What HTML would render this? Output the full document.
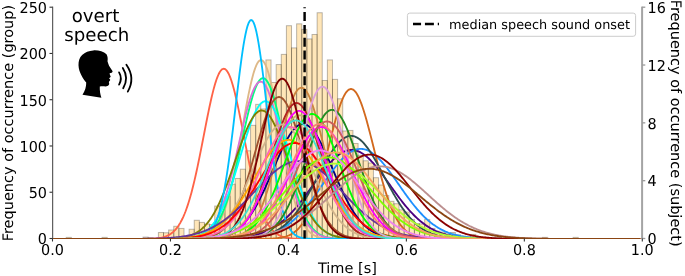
<!DOCTYPE html>
<html><head><meta charset="utf-8"><title>overt speech onset histogram</title>
<style>
html,body{margin:0;padding:0;background:#fff;}
svg{display:block}
text{font-family:"DejaVu Sans","Liberation Sans",sans-serif;fill:#000;text-rendering:geometricPrecision}
.t{font-size:14.4px}
.c{fill:none;stroke-width:1.85;stroke-linejoin:round}
</style></head><body>
<svg width="685" height="276" viewBox="0 0 685 276">
<rect width="685" height="276" fill="#fff"/>
<defs><clipPath id="cp"><rect x="52.5" y="7.2" width="589.8" height="231.9"/></clipPath></defs>

<g clip-path="url(#cp)" fill="rgb(255,165,0)" fill-opacity="0.28" stroke="#000" stroke-opacity="0.27" stroke-width="1">
<rect x="66.24" y="237.39" width="5.120" height="1.11"/>
<rect x="102.08" y="237.39" width="5.120" height="1.11"/>
<rect x="143.04" y="237.11" width="5.120" height="1.39"/>
<rect x="148.16" y="237.57" width="5.120" height="0.93"/>
<rect x="158.40" y="232.49" width="5.120" height="6.01"/>
<rect x="163.52" y="232.76" width="5.120" height="5.74"/>
<rect x="168.64" y="229.99" width="5.120" height="8.51"/>
<rect x="173.76" y="226.29" width="5.120" height="12.21"/>
<rect x="178.88" y="228.42" width="5.120" height="10.08"/>
<rect x="189.12" y="229.25" width="5.120" height="9.25"/>
<rect x="194.24" y="220.27" width="5.120" height="18.23"/>
<rect x="199.36" y="222.40" width="5.120" height="16.10"/>
<rect x="204.48" y="223.97" width="5.120" height="14.53"/>
<rect x="209.60" y="224.62" width="5.120" height="13.88"/>
<rect x="214.72" y="206.03" width="5.120" height="32.47"/>
<rect x="219.84" y="204.82" width="5.120" height="33.68"/>
<rect x="224.96" y="196.59" width="5.120" height="41.91"/>
<rect x="230.08" y="184.19" width="5.120" height="54.31"/>
<rect x="235.20" y="178.45" width="5.120" height="60.05"/>
<rect x="240.32" y="169.20" width="5.120" height="69.30"/>
<rect x="245.44" y="150.79" width="5.120" height="87.71"/>
<rect x="250.56" y="125.35" width="5.120" height="113.15"/>
<rect x="255.68" y="104.35" width="5.120" height="134.15"/>
<rect x="260.80" y="108.97" width="5.120" height="129.53"/>
<rect x="265.92" y="59.94" width="5.120" height="178.56"/>
<rect x="271.04" y="82.51" width="5.120" height="155.99"/>
<rect x="276.16" y="64.56" width="5.120" height="173.94"/>
<rect x="281.28" y="54.39" width="5.120" height="184.11"/>
<rect x="286.40" y="25.70" width="5.120" height="212.80"/>
<rect x="291.52" y="47.91" width="5.120" height="190.59"/>
<rect x="296.64" y="23.85" width="5.120" height="214.65"/>
<rect x="301.76" y="29.40" width="5.120" height="209.10"/>
<rect x="306.88" y="38.93" width="5.120" height="199.57"/>
<rect x="312.00" y="34.49" width="5.120" height="204.01"/>
<rect x="317.12" y="12.75" width="5.120" height="225.75"/>
<rect x="322.24" y="80.48" width="5.120" height="158.02"/>
<rect x="327.36" y="59.94" width="5.120" height="178.56"/>
<rect x="332.48" y="79.37" width="5.120" height="159.13"/>
<rect x="337.60" y="98.79" width="5.120" height="139.71"/>
<rect x="342.72" y="130.99" width="5.120" height="107.51"/>
<rect x="347.84" y="130.44" width="5.120" height="108.06"/>
<rect x="352.96" y="143.48" width="5.120" height="95.02"/>
<rect x="358.08" y="155.23" width="5.120" height="83.27"/>
<rect x="363.20" y="160.78" width="5.120" height="77.72"/>
<rect x="368.32" y="163.00" width="5.120" height="75.50"/>
<rect x="373.44" y="177.71" width="5.120" height="60.79"/>
<rect x="378.56" y="185.02" width="5.120" height="53.48"/>
<rect x="383.68" y="195.57" width="5.120" height="42.93"/>
<rect x="388.80" y="201.31" width="5.120" height="37.19"/>
<rect x="393.92" y="203.71" width="5.120" height="34.79"/>
<rect x="399.04" y="209.82" width="5.120" height="28.68"/>
<rect x="404.16" y="212.04" width="5.120" height="26.46"/>
<rect x="409.28" y="219.44" width="5.120" height="19.06"/>
<rect x="414.40" y="223.51" width="5.120" height="14.99"/>
<rect x="419.52" y="223.97" width="5.120" height="14.53"/>
<rect x="424.64" y="219.44" width="5.120" height="19.06"/>
<rect x="429.76" y="228.42" width="5.120" height="10.08"/>
<rect x="434.88" y="231.10" width="5.120" height="7.40"/>
<rect x="440.00" y="232.02" width="5.120" height="6.48"/>
<rect x="445.12" y="233.87" width="5.120" height="4.63"/>
<rect x="450.24" y="232.49" width="5.120" height="6.01"/>
<rect x="455.36" y="234.80" width="5.120" height="3.70"/>
<rect x="460.48" y="236.00" width="5.120" height="2.50"/>
<rect x="465.60" y="236.65" width="5.120" height="1.85"/>
<rect x="470.72" y="234.43" width="5.120" height="4.07"/>
<rect x="475.84" y="237.57" width="5.120" height="0.93"/>
<rect x="480.96" y="237.11" width="5.120" height="1.39"/>
<rect x="486.08" y="237.76" width="5.120" height="0.74"/>
<rect x="496.32" y="237.57" width="5.120" height="0.93"/>
<rect x="542.40" y="237.39" width="5.120" height="1.11"/>
<rect x="573.12" y="237.39" width="5.120" height="1.11"/>
</g>
<g clip-path="url(#cp)">
<polyline class="c" stroke="navy" points="52.5,238.95 60.5,238.95 68.5,238.95 76.5,238.95 84.5,238.95 92.5,238.95 100.5,238.95 108.5,238.95 116.5,238.95 124.5,238.95 132.5,238.95 140.5,238.95 148.5,238.95 156.5,238.95 164.5,238.95 172.5,238.94 180.5,238.93 188.5,238.88 189.5,238.87 190.5,238.86 191.5,238.85 192.5,238.84 193.5,238.82 194.5,238.80 195.5,238.79 196.5,238.76 197.5,238.74 198.5,238.71 199.5,238.69 200.5,238.65 201.5,238.62 202.5,238.58 203.5,238.53 204.5,238.48 205.5,238.43 206.5,238.36 207.5,238.30 208.5,238.22 209.5,238.14 210.5,238.05 211.5,237.95 212.5,237.84 213.5,237.73 214.5,237.60 215.5,237.45 216.5,237.30 217.5,237.13 218.5,236.95 219.5,236.74 220.5,236.53 221.5,236.29 222.5,236.04 223.5,235.76 224.5,235.46 225.5,235.14 226.5,234.79 227.5,234.41 228.5,234.01 229.5,233.58 230.5,233.11 231.5,232.62 232.5,232.09 233.5,231.52 234.5,230.92 235.5,230.27 236.5,229.59 237.5,228.86 238.5,228.09 239.5,227.27 240.5,226.40 241.5,225.49 242.5,224.53 243.5,223.51 244.5,222.44 245.5,221.32 246.5,220.14 247.5,218.91 248.5,217.62 249.5,216.27 250.5,214.87 251.5,213.40 252.5,211.88 253.5,210.30 254.5,208.67 255.5,206.97 256.5,205.22 257.5,203.41 258.5,201.55 259.5,199.64 260.5,197.67 261.5,195.66 262.5,193.60 263.5,191.50 264.5,189.35 265.5,187.17 266.5,184.95 267.5,182.70 268.5,180.42 269.5,178.12 270.5,175.80 271.5,173.46 272.5,171.12 273.5,168.77 274.5,166.43 275.5,164.09 276.5,161.76 277.5,159.45 278.5,157.16 279.5,154.91 280.5,152.68 281.5,150.51 282.5,148.37 283.5,146.30 284.5,144.28 285.5,142.33 286.5,140.44 287.5,138.64 288.5,136.92 289.5,135.29 290.5,133.75 291.5,132.31 292.5,130.97 293.5,129.73 294.5,128.61 295.5,127.61 296.5,126.72 297.5,125.95 298.5,125.31 299.5,124.80 300.5,124.41 301.5,124.15 302.5,124.02 303.5,124.02 304.5,124.15 305.5,124.41 306.5,124.80 307.5,125.31 308.5,125.95 309.5,126.72 310.5,127.61 311.5,128.61 312.5,129.73 313.5,130.97 314.5,132.31 315.5,133.75 316.5,135.29 317.5,136.92 318.5,138.64 319.5,140.44 320.5,142.33 321.5,144.28 322.5,146.30 323.5,148.37 324.5,150.51 325.5,152.68 326.5,154.91 327.5,157.16 328.5,159.45 329.5,161.76 330.5,164.09 331.5,166.43 332.5,168.77 333.5,171.12 334.5,173.46 335.5,175.80 336.5,178.12 337.5,180.42 338.5,182.70 339.5,184.95 340.5,187.17 341.5,189.35 342.5,191.50 343.5,193.60 344.5,195.66 345.5,197.67 346.5,199.64 347.5,201.55 348.5,203.41 349.5,205.22 350.5,206.97 351.5,208.67 352.5,210.30 353.5,211.88 354.5,213.40 355.5,214.87 356.5,216.27 357.5,217.62 358.5,218.91 359.5,220.14 360.5,221.32 361.5,222.44 362.5,223.51 363.5,224.53 364.5,225.49 365.5,226.40 366.5,227.27 367.5,228.09 368.5,228.86 369.5,229.59 370.5,230.27 371.5,230.92 372.5,231.52 373.5,232.09 374.5,232.62 375.5,233.11 376.5,233.58 377.5,234.01 378.5,234.41 379.5,234.79 380.5,235.14 381.5,235.46 382.5,235.76 383.5,236.04 384.5,236.29 385.5,236.53 386.5,236.74 387.5,236.95 388.5,237.13 389.5,237.30 390.5,237.45 391.5,237.60 392.5,237.73 393.5,237.84 394.5,237.95 395.5,238.05 396.5,238.14 397.5,238.22 398.5,238.30 399.5,238.36 400.5,238.43 401.5,238.48 402.5,238.53 403.5,238.58 404.5,238.62 405.5,238.65 406.5,238.69 407.5,238.71 408.5,238.74 409.5,238.76 410.5,238.79 411.5,238.80 412.5,238.82 413.5,238.84 414.5,238.85 415.5,238.86 416.5,238.87 417.5,238.88 418.5,238.89 419.5,238.90 420.5,238.90 421.5,238.91 422.5,238.92 423.5,238.92 424.5,238.92 425.5,238.93 433.5,238.94 441.5,238.95 449.5,238.95 457.5,238.95 465.5,238.95 473.5,238.95 481.5,238.95 489.5,238.95 497.5,238.95 505.5,238.95 513.5,238.95 521.5,238.95 529.5,238.95 537.5,238.95 545.5,238.95 553.5,238.95 561.5,238.95 569.5,238.95 577.5,238.95 585.5,238.95 593.5,238.95 601.5,238.95 609.5,238.95 617.5,238.95 625.5,238.95 633.5,238.95 641.5,238.95"/>
<polyline class="c" stroke="indigo" points="52.5,238.95 60.5,238.95 68.5,238.95 76.5,238.95 84.5,238.95 92.5,238.95 100.5,238.95 108.5,238.95 116.5,238.95 124.5,238.95 132.5,238.95 140.5,238.95 148.5,238.95 156.5,238.95 164.5,238.95 172.5,238.95 180.5,238.95 188.5,238.94 196.5,238.92 197.5,238.92 198.5,238.92 199.5,238.91 200.5,238.91 201.5,238.91 202.5,238.90 203.5,238.90 204.5,238.89 205.5,238.88 206.5,238.88 207.5,238.87 208.5,238.86 209.5,238.85 210.5,238.84 211.5,238.83 212.5,238.82 213.5,238.81 214.5,238.80 215.5,238.78 216.5,238.76 217.5,238.75 218.5,238.73 219.5,238.71 220.5,238.68 221.5,238.66 222.5,238.63 223.5,238.60 224.5,238.57 225.5,238.54 226.5,238.50 227.5,238.46 228.5,238.42 229.5,238.38 230.5,238.33 231.5,238.27 232.5,238.22 233.5,238.15 234.5,238.09 235.5,238.02 236.5,237.94 237.5,237.86 238.5,237.77 239.5,237.68 240.5,237.58 241.5,237.47 242.5,237.36 243.5,237.24 244.5,237.11 245.5,236.97 246.5,236.83 247.5,236.67 248.5,236.50 249.5,236.33 250.5,236.14 251.5,235.94 252.5,235.73 253.5,235.51 254.5,235.28 255.5,235.03 256.5,234.77 257.5,234.49 258.5,234.20 259.5,233.89 260.5,233.57 261.5,233.23 262.5,232.87 263.5,232.50 264.5,232.10 265.5,231.69 266.5,231.26 267.5,230.80 268.5,230.33 269.5,229.83 270.5,229.31 271.5,228.77 272.5,228.21 273.5,227.62 274.5,227.01 275.5,226.38 276.5,225.72 277.5,225.03 278.5,224.32 279.5,223.59 280.5,222.83 281.5,222.04 282.5,221.22 283.5,220.38 284.5,219.51 285.5,218.61 286.5,217.69 287.5,216.74 288.5,215.76 289.5,214.76 290.5,213.73 291.5,212.68 292.5,211.60 293.5,210.49 294.5,209.36 295.5,208.21 296.5,207.03 297.5,205.83 298.5,204.60 299.5,203.36 300.5,202.10 301.5,200.81 302.5,199.51 303.5,198.20 304.5,196.86 305.5,195.52 306.5,194.16 307.5,192.78 308.5,191.40 309.5,190.02 310.5,188.62 311.5,187.22 312.5,185.82 313.5,184.41 314.5,183.01 315.5,181.61 316.5,180.21 317.5,178.82 318.5,177.44 319.5,176.07 320.5,174.72 321.5,173.38 322.5,172.05 323.5,170.75 324.5,169.46 325.5,168.21 326.5,166.97 327.5,165.77 328.5,164.59 329.5,163.45 330.5,162.34 331.5,161.27 332.5,160.24 333.5,159.25 334.5,158.30 335.5,157.39 336.5,156.53 337.5,155.71 338.5,154.95 339.5,154.24 340.5,153.57 341.5,152.96 342.5,152.41 343.5,151.91 344.5,151.46 345.5,151.08 346.5,150.75 347.5,150.48 348.5,150.27 349.5,150.12 350.5,150.03 351.5,150.00 352.5,150.03 353.5,150.12 354.5,150.27 355.5,150.48 356.5,150.75 357.5,151.08 358.5,151.46 359.5,151.91 360.5,152.41 361.5,152.96 362.5,153.57 363.5,154.24 364.5,154.95 365.5,155.71 366.5,156.53 367.5,157.39 368.5,158.30 369.5,159.25 370.5,160.24 371.5,161.27 372.5,162.34 373.5,163.45 374.5,164.59 375.5,165.77 376.5,166.97 377.5,168.21 378.5,169.46 379.5,170.75 380.5,172.05 381.5,173.38 382.5,174.72 383.5,176.07 384.5,177.44 385.5,178.82 386.5,180.21 387.5,181.61 388.5,183.01 389.5,184.41 390.5,185.82 391.5,187.22 392.5,188.62 393.5,190.02 394.5,191.40 395.5,192.78 396.5,194.16 397.5,195.52 398.5,196.86 399.5,198.20 400.5,199.51 401.5,200.81 402.5,202.10 403.5,203.36 404.5,204.60 405.5,205.83 406.5,207.03 407.5,208.21 408.5,209.36 409.5,210.49 410.5,211.60 411.5,212.68 412.5,213.73 413.5,214.76 414.5,215.76 415.5,216.74 416.5,217.69 417.5,218.61 418.5,219.51 419.5,220.38 420.5,221.22 421.5,222.04 422.5,222.83 423.5,223.59 424.5,224.32 425.5,225.03 426.5,225.72 427.5,226.38 428.5,227.01 429.5,227.62 430.5,228.21 431.5,228.77 432.5,229.31 433.5,229.83 434.5,230.33 435.5,230.80 436.5,231.26 437.5,231.69 438.5,232.10 439.5,232.50 440.5,232.87 441.5,233.23 442.5,233.57 443.5,233.89 444.5,234.20 445.5,234.49 446.5,234.77 447.5,235.03 448.5,235.28 449.5,235.51 450.5,235.73 451.5,235.94 452.5,236.14 453.5,236.33 454.5,236.50 455.5,236.67 456.5,236.83 457.5,236.97 458.5,237.11 459.5,237.24 460.5,237.36 461.5,237.47 462.5,237.58 463.5,237.68 464.5,237.77 465.5,237.86 466.5,237.94 467.5,238.02 468.5,238.09 469.5,238.15 470.5,238.22 471.5,238.27 472.5,238.33 473.5,238.38 474.5,238.42 475.5,238.46 476.5,238.50 477.5,238.54 478.5,238.57 479.5,238.60 480.5,238.63 481.5,238.66 482.5,238.68 483.5,238.71 484.5,238.73 485.5,238.75 486.5,238.76 487.5,238.78 488.5,238.80 489.5,238.81 490.5,238.82 491.5,238.83 492.5,238.84 493.5,238.85 494.5,238.86 495.5,238.87 496.5,238.88 497.5,238.88 498.5,238.89 499.5,238.90 500.5,238.90 501.5,238.91 502.5,238.91 503.5,238.91 504.5,238.92 505.5,238.92 506.5,238.92 507.5,238.93 508.5,238.93 516.5,238.94 524.5,238.95 532.5,238.95 540.5,238.95 548.5,238.95 556.5,238.95 564.5,238.95 572.5,238.95 580.5,238.95 588.5,238.95 596.5,238.95 604.5,238.95 612.5,238.95 620.5,238.95 628.5,238.95 636.5,238.95"/>
<polyline class="c" stroke="dodgerblue" points="52.5,238.95 60.5,238.95 68.5,238.95 76.5,238.95 84.5,238.95 92.5,238.95 100.5,238.95 108.5,238.95 116.5,238.95 124.5,238.95 132.5,238.95 140.5,238.95 148.5,238.95 156.5,238.95 164.5,238.95 172.5,238.95 180.5,238.95 188.5,238.95 196.5,238.94 204.5,238.93 212.5,238.91 213.5,238.90 214.5,238.90 215.5,238.89 216.5,238.88 217.5,238.88 218.5,238.87 219.5,238.86 220.5,238.85 221.5,238.84 222.5,238.83 223.5,238.82 224.5,238.81 225.5,238.79 226.5,238.78 227.5,238.76 228.5,238.74 229.5,238.72 230.5,238.70 231.5,238.68 232.5,238.65 233.5,238.62 234.5,238.59 235.5,238.56 236.5,238.53 237.5,238.49 238.5,238.45 239.5,238.40 240.5,238.35 241.5,238.30 242.5,238.25 243.5,238.19 244.5,238.12 245.5,238.05 246.5,237.98 247.5,237.90 248.5,237.81 249.5,237.72 250.5,237.62 251.5,237.52 252.5,237.40 253.5,237.28 254.5,237.16 255.5,237.02 256.5,236.87 257.5,236.72 258.5,236.55 259.5,236.38 260.5,236.19 261.5,236.00 262.5,235.79 263.5,235.56 264.5,235.33 265.5,235.08 266.5,234.82 267.5,234.54 268.5,234.25 269.5,233.94 270.5,233.61 271.5,233.27 272.5,232.91 273.5,232.53 274.5,232.13 275.5,231.71 276.5,231.27 277.5,230.81 278.5,230.33 279.5,229.83 280.5,229.30 281.5,228.75 282.5,228.18 283.5,227.58 284.5,226.96 285.5,226.31 286.5,225.64 287.5,224.94 288.5,224.21 289.5,223.46 290.5,222.68 291.5,221.88 292.5,221.04 293.5,220.18 294.5,219.29 295.5,218.37 296.5,217.43 297.5,216.45 298.5,215.45 299.5,214.42 300.5,213.37 301.5,212.28 302.5,211.17 303.5,210.04 304.5,208.88 305.5,207.69 306.5,206.48 307.5,205.25 308.5,203.99 309.5,202.71 310.5,201.41 311.5,200.10 312.5,198.76 313.5,197.41 314.5,196.04 315.5,194.65 316.5,193.26 317.5,191.85 318.5,190.43 319.5,189.00 320.5,187.57 321.5,186.14 322.5,184.70 323.5,183.26 324.5,181.82 325.5,180.39 326.5,178.96 327.5,177.54 328.5,176.13 329.5,174.73 330.5,173.34 331.5,171.98 332.5,170.63 333.5,169.30 334.5,168.00 335.5,166.72 336.5,165.47 337.5,164.25 338.5,163.06 339.5,161.91 340.5,160.80 341.5,159.72 342.5,158.68 343.5,157.69 344.5,156.74 345.5,155.84 346.5,154.99 347.5,154.19 348.5,153.44 349.5,152.74 350.5,152.10 351.5,151.51 352.5,150.98 353.5,150.51 354.5,150.09 355.5,149.74 356.5,149.45 357.5,149.22 358.5,149.05 359.5,148.95 360.5,148.90 361.5,148.92 362.5,149.00 363.5,149.14 364.5,149.35 365.5,149.62 366.5,149.95 367.5,150.33 368.5,150.78 369.5,151.29 370.5,151.85 371.5,152.47 372.5,153.15 373.5,153.88 374.5,154.66 375.5,155.50 376.5,156.38 377.5,157.31 378.5,158.28 379.5,159.30 380.5,160.36 381.5,161.46 382.5,162.60 383.5,163.77 384.5,164.98 385.5,166.22 386.5,167.48 387.5,168.78 388.5,170.09 389.5,171.43 390.5,172.79 391.5,174.17 392.5,175.57 393.5,176.97 394.5,178.39 395.5,179.81 396.5,181.25 397.5,182.68 398.5,184.12 399.5,185.56 400.5,187.00 401.5,188.43 402.5,189.86 403.5,191.28 404.5,192.69 405.5,194.09 406.5,195.48 407.5,196.86 408.5,198.22 409.5,199.56 410.5,200.89 411.5,202.20 412.5,203.48 413.5,204.75 414.5,205.99 415.5,207.21 416.5,208.41 417.5,209.58 418.5,210.72 419.5,211.84 420.5,212.94 421.5,214.00 422.5,215.04 423.5,216.06 424.5,217.04 425.5,218.00 426.5,218.93 427.5,219.83 428.5,220.70 429.5,221.55 430.5,222.36 431.5,223.15 432.5,223.92 433.5,224.65 434.5,225.36 435.5,226.05 436.5,226.70 437.5,227.34 438.5,227.94 439.5,228.52 440.5,229.08 441.5,229.62 442.5,230.13 443.5,230.62 444.5,231.09 445.5,231.54 446.5,231.96 447.5,232.37 448.5,232.76 449.5,233.12 450.5,233.47 451.5,233.81 452.5,234.12 453.5,234.42 454.5,234.71 455.5,234.98 456.5,235.23 457.5,235.47 458.5,235.70 459.5,235.91 460.5,236.12 461.5,236.31 462.5,236.49 463.5,236.65 464.5,236.81 465.5,236.96 466.5,237.10 467.5,237.23 468.5,237.36 469.5,237.47 470.5,237.58 471.5,237.68 472.5,237.78 473.5,237.86 474.5,237.95 475.5,238.02 476.5,238.09 477.5,238.16 478.5,238.22 479.5,238.28 480.5,238.33 481.5,238.38 482.5,238.43 483.5,238.47 484.5,238.51 485.5,238.55 486.5,238.58 487.5,238.61 488.5,238.64 489.5,238.67 490.5,238.69 491.5,238.71 492.5,238.73 493.5,238.75 494.5,238.77 495.5,238.79 496.5,238.80 497.5,238.81 498.5,238.83 499.5,238.84 500.5,238.85 501.5,238.86 502.5,238.87 503.5,238.87 504.5,238.88 505.5,238.89 506.5,238.89 507.5,238.90 508.5,238.90 509.5,238.91 510.5,238.91 511.5,238.92 512.5,238.92 513.5,238.92 514.5,238.93 515.5,238.93 523.5,238.94 531.5,238.95 539.5,238.95 547.5,238.95 555.5,238.95 563.5,238.95 571.5,238.95 579.5,238.95 587.5,238.95 595.5,238.95 603.5,238.95 611.5,238.95 619.5,238.95 627.5,238.95 635.5,238.95"/>
<polyline class="c" stroke="tomato" points="52.5,238.95 60.5,238.95 68.5,238.95 76.5,238.95 84.5,238.95 92.5,238.95 100.5,238.95 108.5,238.95 116.5,238.95 124.5,238.95 132.5,238.94 140.5,238.92 148.5,238.80 149.5,238.77 150.5,238.74 151.5,238.70 152.5,238.65 153.5,238.59 154.5,238.52 155.5,238.44 156.5,238.34 157.5,238.23 158.5,238.11 159.5,237.96 160.5,237.79 161.5,237.59 162.5,237.36 163.5,237.10 164.5,236.81 165.5,236.47 166.5,236.09 167.5,235.65 168.5,235.16 169.5,234.61 170.5,233.98 171.5,233.28 172.5,232.50 173.5,231.64 174.5,230.67 175.5,229.60 176.5,228.42 177.5,227.12 178.5,225.69 179.5,224.12 180.5,222.41 181.5,220.55 182.5,218.53 183.5,216.35 184.5,214.00 185.5,211.47 186.5,208.76 187.5,205.86 188.5,202.78 189.5,199.50 190.5,196.04 191.5,192.39 192.5,188.56 193.5,184.54 194.5,180.35 195.5,176.00 196.5,171.49 197.5,166.84 198.5,162.06 199.5,157.17 200.5,152.18 201.5,147.12 202.5,142.00 203.5,136.86 204.5,131.70 205.5,126.57 206.5,121.49 207.5,116.48 208.5,111.58 209.5,106.81 210.5,102.20 211.5,97.78 212.5,93.59 213.5,89.64 214.5,85.97 215.5,82.59 216.5,79.54 217.5,76.84 218.5,74.50 219.5,72.54 220.5,70.98 221.5,69.82 222.5,69.08 223.5,68.76 224.5,68.87 225.5,69.40 226.5,70.35 227.5,71.71 228.5,73.47 229.5,75.62 230.5,78.15 231.5,81.03 232.5,84.24 233.5,87.77 234.5,91.58 235.5,95.66 236.5,99.96 237.5,104.48 238.5,109.17 239.5,114.01 240.5,118.97 241.5,124.02 242.5,129.13 243.5,134.28 244.5,139.43 245.5,144.56 246.5,149.66 247.5,154.68 248.5,159.63 249.5,164.47 250.5,169.18 251.5,173.77 252.5,178.20 253.5,182.47 254.5,186.57 255.5,190.50 256.5,194.24 257.5,197.80 258.5,201.16 259.5,204.34 260.5,207.33 261.5,210.14 262.5,212.76 263.5,215.20 264.5,217.46 265.5,219.56 266.5,221.50 267.5,223.29 268.5,224.92 269.5,226.42 270.5,227.78 271.5,229.02 272.5,230.15 273.5,231.16 274.5,232.08 275.5,232.90 276.5,233.64 277.5,234.30 278.5,234.89 279.5,235.41 280.5,235.88 281.5,236.28 282.5,236.64 283.5,236.96 284.5,237.24 285.5,237.48 286.5,237.69 287.5,237.88 288.5,238.03 289.5,238.17 290.5,238.29 291.5,238.39 292.5,238.48 293.5,238.55 294.5,238.62 295.5,238.67 296.5,238.72 297.5,238.76 298.5,238.79 299.5,238.82 300.5,238.84 301.5,238.86 302.5,238.88 303.5,238.89 304.5,238.90 305.5,238.91 306.5,238.92 307.5,238.92 315.5,238.95 323.5,238.95 331.5,238.95 339.5,238.95 347.5,238.95 355.5,238.95 363.5,238.95 371.5,238.95 379.5,238.95 387.5,238.95 395.5,238.95 403.5,238.95 411.5,238.95 419.5,238.95 427.5,238.95 435.5,238.95 443.5,238.95 451.5,238.95 459.5,238.95 467.5,238.95 475.5,238.95 483.5,238.95 491.5,238.95 499.5,238.95 507.5,238.95 515.5,238.95 523.5,238.95 531.5,238.95 539.5,238.95 547.5,238.95 555.5,238.95 563.5,238.95 571.5,238.95 579.5,238.95 587.5,238.95 595.5,238.95 603.5,238.95 611.5,238.95 619.5,238.95 627.5,238.95 635.5,238.95"/>
<polyline class="c" stroke="chocolate" points="52.5,238.95 60.5,238.95 68.5,238.95 76.5,238.95 84.5,238.95 92.5,238.95 100.5,238.95 108.5,238.95 116.5,238.95 124.5,238.95 132.5,238.95 140.5,238.95 148.5,238.95 156.5,238.95 164.5,238.95 172.5,238.95 180.5,238.95 188.5,238.95 196.5,238.95 204.5,238.95 212.5,238.95 220.5,238.95 228.5,238.95 236.5,238.95 244.5,238.95 252.5,238.94 260.5,238.90 261.5,238.88 262.5,238.87 263.5,238.86 264.5,238.84 265.5,238.82 266.5,238.80 267.5,238.77 268.5,238.74 269.5,238.71 270.5,238.66 271.5,238.62 272.5,238.56 273.5,238.50 274.5,238.43 275.5,238.34 276.5,238.25 277.5,238.14 278.5,238.02 279.5,237.88 280.5,237.72 281.5,237.54 282.5,237.34 283.5,237.12 284.5,236.86 285.5,236.58 286.5,236.26 287.5,235.91 288.5,235.51 289.5,235.08 290.5,234.59 291.5,234.06 292.5,233.47 293.5,232.81 294.5,232.10 295.5,231.32 296.5,230.46 297.5,229.53 298.5,228.51 299.5,227.40 300.5,226.21 301.5,224.91 302.5,223.52 303.5,222.02 304.5,220.41 305.5,218.68 306.5,216.84 307.5,214.88 308.5,212.79 309.5,210.58 310.5,208.24 311.5,205.77 312.5,203.17 313.5,200.44 314.5,197.59 315.5,194.60 316.5,191.50 317.5,188.28 318.5,184.94 319.5,181.49 320.5,177.94 321.5,174.30 322.5,170.57 323.5,166.77 324.5,162.90 325.5,158.98 326.5,155.02 327.5,151.03 328.5,147.03 329.5,143.04 330.5,139.06 331.5,135.12 332.5,131.24 333.5,127.43 334.5,123.70 335.5,120.08 336.5,116.58 337.5,113.22 338.5,110.02 339.5,107.00 340.5,104.16 341.5,101.53 342.5,99.12 343.5,96.94 344.5,95.00 345.5,93.32 346.5,91.91 347.5,90.77 348.5,89.90 349.5,89.33 350.5,89.04 351.5,89.04 352.5,89.33 353.5,89.90 354.5,90.77 355.5,91.91 356.5,93.32 357.5,95.00 358.5,96.94 359.5,99.12 360.5,101.53 361.5,104.16 362.5,107.00 363.5,110.02 364.5,113.22 365.5,116.58 366.5,120.08 367.5,123.70 368.5,127.43 369.5,131.24 370.5,135.12 371.5,139.06 372.5,143.04 373.5,147.03 374.5,151.03 375.5,155.02 376.5,158.98 377.5,162.90 378.5,166.77 379.5,170.57 380.5,174.30 381.5,177.94 382.5,181.49 383.5,184.94 384.5,188.28 385.5,191.50 386.5,194.60 387.5,197.59 388.5,200.44 389.5,203.17 390.5,205.77 391.5,208.24 392.5,210.58 393.5,212.79 394.5,214.88 395.5,216.84 396.5,218.68 397.5,220.41 398.5,222.02 399.5,223.52 400.5,224.91 401.5,226.21 402.5,227.40 403.5,228.51 404.5,229.53 405.5,230.46 406.5,231.32 407.5,232.10 408.5,232.81 409.5,233.47 410.5,234.06 411.5,234.59 412.5,235.08 413.5,235.51 414.5,235.91 415.5,236.26 416.5,236.58 417.5,236.86 418.5,237.12 419.5,237.34 420.5,237.54 421.5,237.72 422.5,237.88 423.5,238.02 424.5,238.14 425.5,238.25 426.5,238.34 427.5,238.43 428.5,238.50 429.5,238.56 430.5,238.62 431.5,238.66 432.5,238.71 433.5,238.74 434.5,238.77 435.5,238.80 436.5,238.82 437.5,238.84 438.5,238.86 439.5,238.87 440.5,238.88 441.5,238.90 442.5,238.90 443.5,238.91 444.5,238.92 445.5,238.92 453.5,238.94 461.5,238.95 469.5,238.95 477.5,238.95 485.5,238.95 493.5,238.95 501.5,238.95 509.5,238.95 517.5,238.95 525.5,238.95 533.5,238.95 541.5,238.95 549.5,238.95 557.5,238.95 565.5,238.95 573.5,238.95 581.5,238.95 589.5,238.95 597.5,238.95 605.5,238.95 613.5,238.95 621.5,238.95 629.5,238.95 637.5,238.95"/>
<polyline class="c" stroke="burlywood" points="52.5,238.95 60.5,238.95 68.5,238.95 76.5,238.95 84.5,238.95 92.5,238.95 100.5,238.95 108.5,238.95 116.5,238.95 124.5,238.95 132.5,238.95 140.5,238.95 148.5,238.95 156.5,238.95 164.5,238.95 172.5,238.95 180.5,238.93 188.5,238.82 189.5,238.79 190.5,238.76 191.5,238.72 192.5,238.67 193.5,238.61 194.5,238.55 195.5,238.47 196.5,238.37 197.5,238.26 198.5,238.13 199.5,237.97 200.5,237.80 201.5,237.59 202.5,237.35 203.5,237.07 204.5,236.75 205.5,236.38 206.5,235.96 207.5,235.49 208.5,234.94 209.5,234.32 210.5,233.62 211.5,232.84 212.5,231.95 213.5,230.96 214.5,229.86 215.5,228.63 216.5,227.27 217.5,225.76 218.5,224.10 219.5,222.28 220.5,220.29 221.5,218.11 222.5,215.74 223.5,213.18 224.5,210.42 225.5,207.44 226.5,204.25 227.5,200.84 228.5,197.21 229.5,193.36 230.5,189.29 231.5,185.01 232.5,180.53 233.5,175.84 234.5,170.96 235.5,165.91 236.5,160.70 237.5,155.35 238.5,149.88 239.5,144.31 240.5,138.67 241.5,132.99 242.5,127.29 243.5,121.61 244.5,115.98 245.5,110.44 246.5,105.01 247.5,99.75 248.5,94.67 249.5,89.82 250.5,85.22 251.5,80.93 252.5,76.96 253.5,73.35 254.5,70.12 255.5,67.31 256.5,64.92 257.5,63.00 258.5,61.53 259.5,60.55 260.5,60.06 261.5,60.06 262.5,60.55 263.5,61.53 264.5,63.00 265.5,64.92 266.5,67.31 267.5,70.12 268.5,73.35 269.5,76.96 270.5,80.93 271.5,85.22 272.5,89.82 273.5,94.67 274.5,99.75 275.5,105.01 276.5,110.44 277.5,115.98 278.5,121.61 279.5,127.29 280.5,132.99 281.5,138.67 282.5,144.31 283.5,149.88 284.5,155.35 285.5,160.70 286.5,165.91 287.5,170.96 288.5,175.84 289.5,180.53 290.5,185.01 291.5,189.29 292.5,193.36 293.5,197.21 294.5,200.84 295.5,204.25 296.5,207.44 297.5,210.42 298.5,213.18 299.5,215.74 300.5,218.11 301.5,220.29 302.5,222.28 303.5,224.10 304.5,225.76 305.5,227.27 306.5,228.63 307.5,229.86 308.5,230.96 309.5,231.95 310.5,232.84 311.5,233.62 312.5,234.32 313.5,234.94 314.5,235.49 315.5,235.96 316.5,236.38 317.5,236.75 318.5,237.07 319.5,237.35 320.5,237.59 321.5,237.80 322.5,237.97 323.5,238.13 324.5,238.26 325.5,238.37 326.5,238.47 327.5,238.55 328.5,238.61 329.5,238.67 330.5,238.72 331.5,238.76 332.5,238.79 333.5,238.82 334.5,238.85 335.5,238.86 336.5,238.88 337.5,238.89 338.5,238.90 339.5,238.91 340.5,238.92 348.5,238.95 356.5,238.95 364.5,238.95 372.5,238.95 380.5,238.95 388.5,238.95 396.5,238.95 404.5,238.95 412.5,238.95 420.5,238.95 428.5,238.95 436.5,238.95 444.5,238.95 452.5,238.95 460.5,238.95 468.5,238.95 476.5,238.95 484.5,238.95 492.5,238.95 500.5,238.95 508.5,238.95 516.5,238.95 524.5,238.95 532.5,238.95 540.5,238.95 548.5,238.95 556.5,238.95 564.5,238.95 572.5,238.95 580.5,238.95 588.5,238.95 596.5,238.95 604.5,238.95 612.5,238.95 620.5,238.95 628.5,238.95 636.5,238.95"/>
<polyline class="c" stroke="springgreen" points="52.5,238.95 60.5,238.95 68.5,238.95 76.5,238.95 84.5,238.95 92.5,238.95 100.5,238.95 108.5,238.95 116.5,238.95 124.5,238.95 132.5,238.95 140.5,238.95 148.5,238.95 156.5,238.95 164.5,238.95 172.5,238.93 180.5,238.87 181.5,238.85 182.5,238.83 183.5,238.81 184.5,238.78 185.5,238.75 186.5,238.71 187.5,238.67 188.5,238.61 189.5,238.55 190.5,238.48 191.5,238.40 192.5,238.31 193.5,238.20 194.5,238.08 195.5,237.93 196.5,237.77 197.5,237.58 198.5,237.37 199.5,237.13 200.5,236.86 201.5,236.55 202.5,236.20 203.5,235.81 204.5,235.37 205.5,234.87 206.5,234.32 207.5,233.71 208.5,233.03 209.5,232.27 210.5,231.44 211.5,230.52 212.5,229.51 213.5,228.40 214.5,227.18 215.5,225.86 216.5,224.41 217.5,222.85 218.5,221.15 219.5,219.33 220.5,217.36 221.5,215.24 222.5,212.98 223.5,210.57 224.5,208.00 225.5,205.27 226.5,202.38 227.5,199.34 228.5,196.13 229.5,192.77 230.5,189.25 231.5,185.59 232.5,181.78 233.5,177.84 234.5,173.77 235.5,169.59 236.5,165.30 237.5,160.92 238.5,156.46 239.5,151.94 240.5,147.37 241.5,142.78 242.5,138.19 243.5,133.61 244.5,129.06 245.5,124.58 246.5,120.17 247.5,115.87 248.5,111.70 249.5,107.68 250.5,103.83 251.5,100.17 252.5,96.74 253.5,93.54 254.5,90.60 255.5,87.94 256.5,85.57 257.5,83.51 258.5,81.78 259.5,80.37 260.5,79.31 261.5,78.60 262.5,78.24 263.5,78.24 264.5,78.60 265.5,79.31 266.5,80.37 267.5,81.78 268.5,83.51 269.5,85.57 270.5,87.94 271.5,90.60 272.5,93.54 273.5,96.74 274.5,100.17 275.5,103.83 276.5,107.68 277.5,111.70 278.5,115.87 279.5,120.17 280.5,124.58 281.5,129.06 282.5,133.61 283.5,138.19 284.5,142.78 285.5,147.37 286.5,151.94 287.5,156.46 288.5,160.92 289.5,165.30 290.5,169.59 291.5,173.77 292.5,177.84 293.5,181.78 294.5,185.59 295.5,189.25 296.5,192.77 297.5,196.13 298.5,199.34 299.5,202.38 300.5,205.27 301.5,208.00 302.5,210.57 303.5,212.98 304.5,215.24 305.5,217.36 306.5,219.33 307.5,221.15 308.5,222.85 309.5,224.41 310.5,225.86 311.5,227.18 312.5,228.40 313.5,229.51 314.5,230.52 315.5,231.44 316.5,232.27 317.5,233.03 318.5,233.71 319.5,234.32 320.5,234.87 321.5,235.37 322.5,235.81 323.5,236.20 324.5,236.55 325.5,236.86 326.5,237.13 327.5,237.37 328.5,237.58 329.5,237.77 330.5,237.93 331.5,238.08 332.5,238.20 333.5,238.31 334.5,238.40 335.5,238.48 336.5,238.55 337.5,238.61 338.5,238.67 339.5,238.71 340.5,238.75 341.5,238.78 342.5,238.81 343.5,238.83 344.5,238.85 345.5,238.87 346.5,238.88 347.5,238.89 348.5,238.90 349.5,238.91 350.5,238.92 351.5,238.92 359.5,238.94 367.5,238.95 375.5,238.95 383.5,238.95 391.5,238.95 399.5,238.95 407.5,238.95 415.5,238.95 423.5,238.95 431.5,238.95 439.5,238.95 447.5,238.95 455.5,238.95 463.5,238.95 471.5,238.95 479.5,238.95 487.5,238.95 495.5,238.95 503.5,238.95 511.5,238.95 519.5,238.95 527.5,238.95 535.5,238.95 543.5,238.95 551.5,238.95 559.5,238.95 567.5,238.95 575.5,238.95 583.5,238.95 591.5,238.95 599.5,238.95 607.5,238.95 615.5,238.95 623.5,238.95 631.5,238.95 639.5,238.95"/>
<polyline class="c" stroke="orchid" points="52.5,238.95 60.5,238.95 68.5,238.95 76.5,238.95 84.5,238.95 92.5,238.95 100.5,238.95 108.5,238.95 116.5,238.95 124.5,238.95 132.5,238.95 140.5,238.95 148.5,238.95 156.5,238.95 164.5,238.94 172.5,238.91 173.5,238.90 174.5,238.89 175.5,238.88 176.5,238.87 177.5,238.85 178.5,238.83 179.5,238.81 180.5,238.78 181.5,238.75 182.5,238.71 183.5,238.67 184.5,238.62 185.5,238.56 186.5,238.50 187.5,238.42 188.5,238.33 189.5,238.23 190.5,238.11 191.5,237.98 192.5,237.82 193.5,237.65 194.5,237.45 195.5,237.22 196.5,236.97 197.5,236.68 198.5,236.36 199.5,236.00 200.5,235.59 201.5,235.13 202.5,234.63 203.5,234.06 204.5,233.44 205.5,232.74 206.5,231.98 207.5,231.13 208.5,230.21 209.5,229.19 210.5,228.08 211.5,226.87 212.5,225.55 213.5,224.12 214.5,222.58 215.5,220.91 216.5,219.11 217.5,217.18 218.5,215.11 219.5,212.90 220.5,210.55 221.5,208.05 222.5,205.41 223.5,202.61 224.5,199.66 225.5,196.57 226.5,193.33 227.5,189.95 228.5,186.42 229.5,182.77 230.5,178.98 231.5,175.08 232.5,171.07 233.5,166.96 234.5,162.77 235.5,158.50 236.5,154.17 237.5,149.80 238.5,145.41 239.5,141.00 240.5,136.61 241.5,132.25 242.5,127.94 243.5,123.70 244.5,119.55 245.5,115.52 246.5,111.62 247.5,107.88 248.5,104.31 249.5,100.95 250.5,97.80 251.5,94.88 252.5,92.22 253.5,89.82 254.5,87.71 255.5,85.90 256.5,84.39 257.5,83.20 258.5,82.34 259.5,81.80 260.5,81.60 261.5,81.74 262.5,82.20 263.5,83.00 264.5,84.13 265.5,85.57 266.5,87.33 267.5,89.38 268.5,91.72 269.5,94.33 270.5,97.19 271.5,100.30 272.5,103.62 273.5,107.15 274.5,110.86 275.5,114.73 276.5,118.73 277.5,122.86 278.5,127.08 279.5,131.38 280.5,135.74 281.5,140.12 282.5,144.53 283.5,148.92 284.5,153.30 285.5,157.64 286.5,161.92 287.5,166.13 288.5,170.26 289.5,174.29 290.5,178.21 291.5,182.02 292.5,185.70 293.5,189.25 294.5,192.66 295.5,195.93 296.5,199.06 297.5,202.03 298.5,204.86 299.5,207.54 300.5,210.06 301.5,212.45 302.5,214.68 303.5,216.78 304.5,218.73 305.5,220.56 306.5,222.25 307.5,223.82 308.5,225.28 309.5,226.62 310.5,227.85 311.5,228.98 312.5,230.01 313.5,230.96 314.5,231.81 315.5,232.60 316.5,233.30 317.5,233.94 318.5,234.52 319.5,235.04 320.5,235.50 321.5,235.92 322.5,236.29 323.5,236.62 324.5,236.91 325.5,237.18 326.5,237.41 327.5,237.61 328.5,237.79 329.5,237.95 330.5,238.08 331.5,238.20 332.5,238.31 333.5,238.40 334.5,238.48 335.5,238.55 336.5,238.61 337.5,238.66 338.5,238.70 339.5,238.74 340.5,238.77 341.5,238.80 342.5,238.83 343.5,238.85 344.5,238.86 345.5,238.88 346.5,238.89 347.5,238.90 348.5,238.91 349.5,238.92 350.5,238.92 358.5,238.94 366.5,238.95 374.5,238.95 382.5,238.95 390.5,238.95 398.5,238.95 406.5,238.95 414.5,238.95 422.5,238.95 430.5,238.95 438.5,238.95 446.5,238.95 454.5,238.95 462.5,238.95 470.5,238.95 478.5,238.95 486.5,238.95 494.5,238.95 502.5,238.95 510.5,238.95 518.5,238.95 526.5,238.95 534.5,238.95 542.5,238.95 550.5,238.95 558.5,238.95 566.5,238.95 574.5,238.95 582.5,238.95 590.5,238.95 598.5,238.95 606.5,238.95 614.5,238.95 622.5,238.95 630.5,238.95 638.5,238.95"/>
<polyline class="c" stroke="cyan" points="52.5,238.95 60.5,238.95 68.5,238.95 76.5,238.95 84.5,238.95 92.5,238.95 100.5,238.95 108.5,238.95 116.5,238.95 124.5,238.95 132.5,238.95 140.5,238.95 148.5,238.95 156.5,238.94 164.5,238.92 165.5,238.91 166.5,238.90 167.5,238.89 168.5,238.88 169.5,238.87 170.5,238.86 171.5,238.85 172.5,238.83 173.5,238.81 174.5,238.79 175.5,238.76 176.5,238.73 177.5,238.70 178.5,238.66 179.5,238.61 180.5,238.56 181.5,238.51 182.5,238.44 183.5,238.37 184.5,238.29 185.5,238.19 186.5,238.09 187.5,237.97 188.5,237.84 189.5,237.69 190.5,237.53 191.5,237.35 192.5,237.14 193.5,236.92 194.5,236.66 195.5,236.39 196.5,236.08 197.5,235.74 198.5,235.37 199.5,234.96 200.5,234.51 201.5,234.02 202.5,233.48 203.5,232.89 204.5,232.25 205.5,231.56 206.5,230.81 207.5,230.00 208.5,229.12 209.5,228.17 210.5,227.15 211.5,226.06 212.5,224.88 213.5,223.63 214.5,222.29 215.5,220.86 216.5,219.35 217.5,217.74 218.5,216.03 219.5,214.23 220.5,212.33 221.5,210.33 222.5,208.23 223.5,206.03 224.5,203.73 225.5,201.34 226.5,198.84 227.5,196.25 228.5,193.56 229.5,190.79 230.5,187.93 231.5,184.98 232.5,181.96 233.5,178.87 234.5,175.71 235.5,172.50 236.5,169.23 237.5,165.93 238.5,162.59 239.5,159.23 240.5,155.86 241.5,152.49 242.5,149.13 243.5,145.78 244.5,142.48 245.5,139.21 246.5,136.01 247.5,132.87 248.5,129.82 249.5,126.86 250.5,124.01 251.5,121.28 252.5,118.68 253.5,116.22 254.5,113.92 255.5,111.78 256.5,109.82 257.5,108.03 258.5,106.44 259.5,105.05 260.5,103.87 261.5,102.90 262.5,102.14 263.5,101.60 264.5,101.29 265.5,101.20 266.5,101.34 267.5,101.69 268.5,102.28 269.5,103.08 270.5,104.09 271.5,105.32 272.5,106.75 273.5,108.38 274.5,110.19 275.5,112.19 276.5,114.37 277.5,116.70 278.5,119.19 279.5,121.81 280.5,124.57 281.5,127.44 282.5,130.42 283.5,133.49 284.5,136.64 285.5,139.86 286.5,143.13 287.5,146.45 288.5,149.80 289.5,153.16 290.5,156.54 291.5,159.91 292.5,163.26 293.5,166.59 294.5,169.89 295.5,173.14 296.5,176.35 297.5,179.49 298.5,182.57 299.5,185.58 300.5,188.50 301.5,191.35 302.5,194.11 303.5,196.77 304.5,199.35 305.5,201.82 306.5,204.20 307.5,206.48 308.5,208.66 309.5,210.74 310.5,212.72 311.5,214.60 312.5,216.38 313.5,218.07 314.5,219.66 315.5,221.16 316.5,222.57 317.5,223.89 318.5,225.13 319.5,226.28 320.5,227.36 321.5,228.37 322.5,229.30 323.5,230.16 324.5,230.97 325.5,231.70 326.5,232.39 327.5,233.01 328.5,233.59 329.5,234.12 330.5,234.60 331.5,235.04 332.5,235.44 333.5,235.81 334.5,236.14 335.5,236.44 336.5,236.72 337.5,236.96 338.5,237.18 339.5,237.38 340.5,237.56 341.5,237.72 342.5,237.87 343.5,238.00 344.5,238.11 345.5,238.21 346.5,238.30 347.5,238.38 348.5,238.46 349.5,238.52 350.5,238.57 351.5,238.62 352.5,238.67 353.5,238.70 354.5,238.74 355.5,238.77 356.5,238.79 357.5,238.81 358.5,238.83 359.5,238.85 360.5,238.86 361.5,238.88 362.5,238.89 363.5,238.90 364.5,238.90 365.5,238.91 366.5,238.92 367.5,238.92 375.5,238.94 383.5,238.95 391.5,238.95 399.5,238.95 407.5,238.95 415.5,238.95 423.5,238.95 431.5,238.95 439.5,238.95 447.5,238.95 455.5,238.95 463.5,238.95 471.5,238.95 479.5,238.95 487.5,238.95 495.5,238.95 503.5,238.95 511.5,238.95 519.5,238.95 527.5,238.95 535.5,238.95 543.5,238.95 551.5,238.95 559.5,238.95 567.5,238.95 575.5,238.95 583.5,238.95 591.5,238.95 599.5,238.95 607.5,238.95 615.5,238.95 623.5,238.95 631.5,238.95 639.5,238.95"/>
<polyline class="c" stroke="olive" points="52.5,238.95 60.5,238.95 68.5,238.95 76.5,238.95 84.5,238.95 92.5,238.95 100.5,238.95 108.5,238.95 116.5,238.95 124.5,238.95 132.5,238.95 140.5,238.95 148.5,238.94 156.5,238.90 157.5,238.89 158.5,238.88 159.5,238.87 160.5,238.86 161.5,238.85 162.5,238.83 163.5,238.81 164.5,238.79 165.5,238.77 166.5,238.74 167.5,238.71 168.5,238.68 169.5,238.64 170.5,238.60 171.5,238.55 172.5,238.49 173.5,238.43 174.5,238.36 175.5,238.29 176.5,238.20 177.5,238.11 178.5,238.00 179.5,237.88 180.5,237.75 181.5,237.60 182.5,237.44 183.5,237.26 184.5,237.07 185.5,236.85 186.5,236.61 187.5,236.35 188.5,236.07 189.5,235.76 190.5,235.41 191.5,235.04 192.5,234.64 193.5,234.19 194.5,233.71 195.5,233.20 196.5,232.63 197.5,232.03 198.5,231.37 199.5,230.67 200.5,229.91 201.5,229.10 202.5,228.23 203.5,227.30 204.5,226.31 205.5,225.25 206.5,224.13 207.5,222.93 208.5,221.66 209.5,220.32 210.5,218.91 211.5,217.41 212.5,215.84 213.5,214.19 214.5,212.46 215.5,210.65 216.5,208.75 217.5,206.78 218.5,204.72 219.5,202.59 220.5,200.37 221.5,198.08 222.5,195.72 223.5,193.28 224.5,190.77 225.5,188.20 226.5,185.57 227.5,182.88 228.5,180.13 229.5,177.34 230.5,174.51 231.5,171.65 232.5,168.75 233.5,165.84 234.5,162.91 235.5,159.98 236.5,157.05 237.5,154.13 238.5,151.23 239.5,148.37 240.5,145.54 241.5,142.75 242.5,140.03 243.5,137.37 244.5,134.79 245.5,132.30 246.5,129.90 247.5,127.60 248.5,125.42 249.5,123.36 250.5,121.43 251.5,119.63 252.5,117.98 253.5,116.48 254.5,115.13 255.5,113.95 256.5,112.94 257.5,112.10 258.5,111.43 259.5,110.94 260.5,110.63 261.5,110.50 262.5,110.56 263.5,110.79 264.5,111.21 265.5,111.81 266.5,112.58 267.5,113.53 268.5,114.64 269.5,115.92 270.5,117.36 271.5,118.95 272.5,120.69 273.5,122.57 274.5,124.58 275.5,126.72 276.5,128.97 277.5,131.33 278.5,133.79 279.5,136.33 280.5,138.96 281.5,141.66 282.5,144.42 283.5,147.23 284.5,150.08 285.5,152.97 286.5,155.88 287.5,158.81 288.5,161.74 289.5,164.67 290.5,167.59 291.5,170.49 292.5,173.37 293.5,176.21 294.5,179.02 295.5,181.78 296.5,184.50 297.5,187.15 298.5,189.75 299.5,192.29 300.5,194.75 301.5,197.15 302.5,199.47 303.5,201.71 304.5,203.88 305.5,205.97 306.5,207.97 307.5,209.90 308.5,211.74 309.5,213.51 310.5,215.19 311.5,216.80 312.5,218.32 313.5,219.77 314.5,221.14 315.5,222.43 316.5,223.66 317.5,224.81 318.5,225.89 319.5,226.91 320.5,227.87 321.5,228.76 322.5,229.59 323.5,230.37 324.5,231.10 325.5,231.77 326.5,232.40 327.5,232.98 328.5,233.51 329.5,234.01 330.5,234.46 331.5,234.88 332.5,235.27 333.5,235.62 334.5,235.95 335.5,236.24 336.5,236.51 337.5,236.76 338.5,236.98 339.5,237.19 340.5,237.37 341.5,237.54 342.5,237.69 343.5,237.83 344.5,237.95 345.5,238.06 346.5,238.16 347.5,238.25 348.5,238.33 349.5,238.41 350.5,238.47 351.5,238.53 352.5,238.58 353.5,238.62 354.5,238.66 355.5,238.70 356.5,238.73 357.5,238.76 358.5,238.78 359.5,238.80 360.5,238.82 361.5,238.84 362.5,238.85 363.5,238.87 364.5,238.88 365.5,238.89 366.5,238.90 367.5,238.90 368.5,238.91 369.5,238.92 370.5,238.92 371.5,238.92 379.5,238.94 387.5,238.95 395.5,238.95 403.5,238.95 411.5,238.95 419.5,238.95 427.5,238.95 435.5,238.95 443.5,238.95 451.5,238.95 459.5,238.95 467.5,238.95 475.5,238.95 483.5,238.95 491.5,238.95 499.5,238.95 507.5,238.95 515.5,238.95 523.5,238.95 531.5,238.95 539.5,238.95 547.5,238.95 555.5,238.95 563.5,238.95 571.5,238.95 579.5,238.95 587.5,238.95 595.5,238.95 603.5,238.95 611.5,238.95 619.5,238.95 627.5,238.95 635.5,238.95"/>
<polyline class="c" stroke="peru" points="52.5,238.95 60.5,238.95 68.5,238.95 76.5,238.95 84.5,238.95 92.5,238.95 100.5,238.95 108.5,238.95 116.5,238.95 124.5,238.95 132.5,238.95 140.5,238.95 148.5,238.95 156.5,238.95 164.5,238.95 172.5,238.95 180.5,238.95 188.5,238.95 196.5,238.95 204.5,238.94 212.5,238.89 213.5,238.87 214.5,238.86 215.5,238.84 216.5,238.82 217.5,238.80 218.5,238.77 219.5,238.74 220.5,238.71 221.5,238.67 222.5,238.62 223.5,238.56 224.5,238.50 225.5,238.43 226.5,238.34 227.5,238.25 228.5,238.14 229.5,238.01 230.5,237.87 231.5,237.71 232.5,237.53 233.5,237.33 234.5,237.10 235.5,236.84 236.5,236.55 237.5,236.22 238.5,235.86 239.5,235.46 240.5,235.01 241.5,234.51 242.5,233.96 243.5,233.36 244.5,232.69 245.5,231.95 246.5,231.15 247.5,230.27 248.5,229.30 249.5,228.26 250.5,227.12 251.5,225.89 252.5,224.55 253.5,223.12 254.5,221.57 255.5,219.91 256.5,218.13 257.5,216.23 258.5,214.20 259.5,212.05 260.5,209.77 261.5,207.35 262.5,204.81 263.5,202.13 264.5,199.32 265.5,196.37 266.5,193.30 267.5,190.11 268.5,186.79 269.5,183.36 270.5,179.82 271.5,176.17 272.5,172.43 273.5,168.61 274.5,164.72 275.5,160.76 276.5,156.75 277.5,152.71 278.5,148.65 279.5,144.58 280.5,140.53 281.5,136.50 282.5,132.51 283.5,128.59 284.5,124.74 285.5,121.00 286.5,117.37 287.5,113.88 288.5,110.54 289.5,107.37 290.5,104.38 291.5,101.60 292.5,99.04 293.5,96.71 294.5,94.62 295.5,92.79 296.5,91.23 297.5,89.95 298.5,88.95 299.5,88.24 300.5,87.82 301.5,87.70 302.5,87.88 303.5,88.35 304.5,89.12 305.5,90.18 306.5,91.52 307.5,93.14 308.5,95.02 309.5,97.15 310.5,99.53 311.5,102.14 312.5,104.96 313.5,107.99 314.5,111.19 315.5,114.56 316.5,118.09 317.5,121.74 318.5,125.50 319.5,129.37 320.5,133.30 321.5,137.30 322.5,141.34 323.5,145.40 324.5,149.46 325.5,153.52 326.5,157.56 327.5,161.56 328.5,165.50 329.5,169.38 330.5,173.19 331.5,176.91 332.5,180.53 333.5,184.05 334.5,187.46 335.5,190.76 336.5,193.93 337.5,196.97 338.5,199.89 339.5,202.67 340.5,205.33 341.5,207.85 342.5,210.23 343.5,212.49 344.5,214.62 345.5,216.62 346.5,218.49 347.5,220.25 348.5,221.89 349.5,223.41 350.5,224.83 351.5,226.14 352.5,227.36 353.5,228.47 354.5,229.50 355.5,230.45 356.5,231.32 357.5,232.11 358.5,232.83 359.5,233.48 360.5,234.08 361.5,234.62 362.5,235.10 363.5,235.54 364.5,235.94 365.5,236.29 366.5,236.61 367.5,236.89 368.5,237.15 369.5,237.37 370.5,237.57 371.5,237.75 372.5,237.90 373.5,238.04 374.5,238.16 375.5,238.27 376.5,238.36 377.5,238.44 378.5,238.51 379.5,238.57 380.5,238.63 381.5,238.68 382.5,238.72 383.5,238.75 384.5,238.78 385.5,238.81 386.5,238.83 387.5,238.85 388.5,238.86 389.5,238.88 390.5,238.89 391.5,238.90 392.5,238.91 393.5,238.91 394.5,238.92 395.5,238.93 403.5,238.94 411.5,238.95 419.5,238.95 427.5,238.95 435.5,238.95 443.5,238.95 451.5,238.95 459.5,238.95 467.5,238.95 475.5,238.95 483.5,238.95 491.5,238.95 499.5,238.95 507.5,238.95 515.5,238.95 523.5,238.95 531.5,238.95 539.5,238.95 547.5,238.95 555.5,238.95 563.5,238.95 571.5,238.95 579.5,238.95 587.5,238.95 595.5,238.95 603.5,238.95 611.5,238.95 619.5,238.95 627.5,238.95 635.5,238.95"/>
<polyline class="c" stroke="sienna" points="52.5,238.95 60.5,238.95 68.5,238.95 76.5,238.95 84.5,238.95 92.5,238.95 100.5,238.95 108.5,238.95 116.5,238.95 124.5,238.95 132.5,238.95 140.5,238.95 148.5,238.95 156.5,238.95 164.5,238.95 172.5,238.94 180.5,238.92 181.5,238.91 182.5,238.91 183.5,238.90 184.5,238.89 185.5,238.88 186.5,238.86 187.5,238.85 188.5,238.83 189.5,238.81 190.5,238.79 191.5,238.76 192.5,238.73 193.5,238.70 194.5,238.66 195.5,238.61 196.5,238.56 197.5,238.50 198.5,238.43 199.5,238.35 200.5,238.27 201.5,238.17 202.5,238.06 203.5,237.93 204.5,237.79 205.5,237.63 206.5,237.45 207.5,237.25 208.5,237.03 209.5,236.79 210.5,236.51 211.5,236.21 212.5,235.87 213.5,235.49 214.5,235.08 215.5,234.63 216.5,234.13 217.5,233.58 218.5,232.99 219.5,232.33 220.5,231.62 221.5,230.85 222.5,230.01 223.5,229.10 224.5,228.11 225.5,227.05 226.5,225.90 227.5,224.67 228.5,223.36 229.5,221.94 230.5,220.44 231.5,218.83 232.5,217.13 233.5,215.32 234.5,213.40 235.5,211.38 236.5,209.25 237.5,207.01 238.5,204.66 239.5,202.19 240.5,199.63 241.5,196.95 242.5,194.17 243.5,191.29 244.5,188.31 245.5,185.24 246.5,182.08 247.5,178.84 248.5,175.52 249.5,172.14 250.5,168.70 251.5,165.21 252.5,161.68 253.5,158.12 254.5,154.54 255.5,150.96 256.5,147.38 257.5,143.83 258.5,140.30 259.5,136.83 260.5,133.41 261.5,130.07 262.5,126.82 263.5,123.66 264.5,120.63 265.5,117.73 266.5,114.97 267.5,112.36 268.5,109.93 269.5,107.67 270.5,105.61 271.5,103.75 272.5,102.10 273.5,100.67 274.5,99.47 275.5,98.50 276.5,97.77 277.5,97.28 278.5,97.03 279.5,97.03 280.5,97.28 281.5,97.77 282.5,98.50 283.5,99.47 284.5,100.67 285.5,102.10 286.5,103.75 287.5,105.61 288.5,107.67 289.5,109.93 290.5,112.36 291.5,114.97 292.5,117.73 293.5,120.63 294.5,123.66 295.5,126.82 296.5,130.07 297.5,133.41 298.5,136.83 299.5,140.30 300.5,143.83 301.5,147.38 302.5,150.96 303.5,154.54 304.5,158.12 305.5,161.68 306.5,165.21 307.5,168.70 308.5,172.14 309.5,175.52 310.5,178.84 311.5,182.08 312.5,185.24 313.5,188.31 314.5,191.29 315.5,194.17 316.5,196.95 317.5,199.63 318.5,202.19 319.5,204.66 320.5,207.01 321.5,209.25 322.5,211.38 323.5,213.40 324.5,215.32 325.5,217.13 326.5,218.83 327.5,220.44 328.5,221.94 329.5,223.36 330.5,224.67 331.5,225.90 332.5,227.05 333.5,228.11 334.5,229.10 335.5,230.01 336.5,230.85 337.5,231.62 338.5,232.33 339.5,232.99 340.5,233.58 341.5,234.13 342.5,234.63 343.5,235.08 344.5,235.49 345.5,235.87 346.5,236.21 347.5,236.51 348.5,236.79 349.5,237.03 350.5,237.25 351.5,237.45 352.5,237.63 353.5,237.79 354.5,237.93 355.5,238.06 356.5,238.17 357.5,238.27 358.5,238.35 359.5,238.43 360.5,238.50 361.5,238.56 362.5,238.61 363.5,238.66 364.5,238.70 365.5,238.73 366.5,238.76 367.5,238.79 368.5,238.81 369.5,238.83 370.5,238.85 371.5,238.86 372.5,238.88 373.5,238.89 374.5,238.90 375.5,238.91 376.5,238.91 377.5,238.92 378.5,238.92 386.5,238.94 394.5,238.95 402.5,238.95 410.5,238.95 418.5,238.95 426.5,238.95 434.5,238.95 442.5,238.95 450.5,238.95 458.5,238.95 466.5,238.95 474.5,238.95 482.5,238.95 490.5,238.95 498.5,238.95 506.5,238.95 514.5,238.95 522.5,238.95 530.5,238.95 538.5,238.95 546.5,238.95 554.5,238.95 562.5,238.95 570.5,238.95 578.5,238.95 586.5,238.95 594.5,238.95 602.5,238.95 610.5,238.95 618.5,238.95 626.5,238.95 634.5,238.95"/>
<polyline class="c" stroke="deepskyblue" points="52.5,238.95 60.5,238.95 68.5,238.95 76.5,238.95 84.5,238.95 92.5,238.95 100.5,238.95 108.5,238.95 116.5,238.95 124.5,238.95 132.5,238.95 140.5,238.95 148.5,238.95 156.5,238.95 164.5,238.95 172.5,238.95 180.5,238.94 188.5,238.88 189.5,238.87 190.5,238.84 191.5,238.81 192.5,238.77 193.5,238.72 194.5,238.66 195.5,238.59 196.5,238.50 197.5,238.38 198.5,238.24 199.5,238.07 200.5,237.87 201.5,237.62 202.5,237.32 203.5,236.96 204.5,236.53 205.5,236.02 206.5,235.41 207.5,234.71 208.5,233.88 209.5,232.91 210.5,231.79 211.5,230.50 212.5,229.01 213.5,227.32 214.5,225.38 215.5,223.20 216.5,220.73 217.5,217.97 218.5,214.88 219.5,211.46 220.5,207.68 221.5,203.53 222.5,198.99 223.5,194.05 224.5,188.71 225.5,182.97 226.5,176.83 227.5,170.30 228.5,163.40 229.5,156.15 230.5,148.57 231.5,140.71 232.5,132.60 233.5,124.30 234.5,115.86 235.5,107.34 236.5,98.81 237.5,90.35 238.5,82.02 239.5,73.91 240.5,66.10 241.5,58.66 242.5,51.68 243.5,45.23 244.5,39.38 245.5,34.21 246.5,29.76 247.5,26.10 248.5,23.27 249.5,21.30 250.5,20.22 251.5,20.04 252.5,20.76 253.5,22.38 254.5,24.87 255.5,28.20 256.5,32.34 257.5,37.23 258.5,42.82 259.5,49.03 260.5,55.81 261.5,63.08 262.5,70.75 263.5,78.75 264.5,87.00 265.5,95.42 266.5,103.93 267.5,112.46 268.5,120.93 269.5,129.30 270.5,137.49 271.5,145.46 272.5,153.15 273.5,160.54 274.5,167.59 275.5,174.27 276.5,180.56 277.5,186.47 278.5,191.96 279.5,197.06 280.5,201.76 281.5,206.07 282.5,209.99 283.5,213.56 284.5,216.77 285.5,219.66 286.5,222.25 287.5,224.54 288.5,226.57 289.5,228.36 290.5,229.93 291.5,231.30 292.5,232.48 293.5,233.51 294.5,234.39 295.5,235.14 296.5,235.79 297.5,236.33 298.5,236.79 299.5,237.18 300.5,237.50 301.5,237.77 302.5,237.99 303.5,238.18 304.5,238.33 305.5,238.45 306.5,238.55 307.5,238.64 308.5,238.70 309.5,238.75 310.5,238.80 311.5,238.83 312.5,238.86 313.5,238.88 314.5,238.89 315.5,238.91 316.5,238.92 324.5,238.95 332.5,238.95 340.5,238.95 348.5,238.95 356.5,238.95 364.5,238.95 372.5,238.95 380.5,238.95 388.5,238.95 396.5,238.95 404.5,238.95 412.5,238.95 420.5,238.95 428.5,238.95 436.5,238.95 444.5,238.95 452.5,238.95 460.5,238.95 468.5,238.95 476.5,238.95 484.5,238.95 492.5,238.95 500.5,238.95 508.5,238.95 516.5,238.95 524.5,238.95 532.5,238.95 540.5,238.95 548.5,238.95 556.5,238.95 564.5,238.95 572.5,238.95 580.5,238.95 588.5,238.95 596.5,238.95 604.5,238.95 612.5,238.95 620.5,238.95 628.5,238.95 636.5,238.95"/>
<polyline class="c" stroke="darkslategray" points="52.5,238.95 60.5,238.95 68.5,238.95 76.5,238.95 84.5,238.95 92.5,238.95 100.5,238.95 108.5,238.95 116.5,238.95 124.5,238.95 132.5,238.95 140.5,238.95 148.5,238.95 156.5,238.95 164.5,238.95 172.5,238.95 180.5,238.95 188.5,238.95 196.5,238.95 204.5,238.94 212.5,238.93 220.5,238.91 221.5,238.90 222.5,238.89 223.5,238.89 224.5,238.88 225.5,238.87 226.5,238.86 227.5,238.85 228.5,238.84 229.5,238.83 230.5,238.81 231.5,238.80 232.5,238.78 233.5,238.76 234.5,238.74 235.5,238.71 236.5,238.69 237.5,238.66 238.5,238.63 239.5,238.59 240.5,238.55 241.5,238.51 242.5,238.47 243.5,238.42 244.5,238.36 245.5,238.30 246.5,238.24 247.5,238.17 248.5,238.09 249.5,238.00 250.5,237.91 251.5,237.81 252.5,237.71 253.5,237.59 254.5,237.47 255.5,237.33 256.5,237.18 257.5,237.03 258.5,236.86 259.5,236.67 260.5,236.48 261.5,236.26 262.5,236.04 263.5,235.79 264.5,235.53 265.5,235.26 266.5,234.96 267.5,234.64 268.5,234.30 269.5,233.94 270.5,233.56 271.5,233.15 272.5,232.72 273.5,232.26 274.5,231.77 275.5,231.26 276.5,230.72 277.5,230.14 278.5,229.54 279.5,228.90 280.5,228.23 281.5,227.52 282.5,226.78 283.5,226.01 284.5,225.19 285.5,224.34 286.5,223.45 287.5,222.52 288.5,221.55 289.5,220.54 290.5,219.48 291.5,218.39 292.5,217.26 293.5,216.08 294.5,214.86 295.5,213.60 296.5,212.30 297.5,210.96 298.5,209.57 299.5,208.15 300.5,206.68 301.5,205.18 302.5,203.64 303.5,202.06 304.5,200.45 305.5,198.80 306.5,197.12 307.5,195.41 308.5,193.67 309.5,191.91 310.5,190.12 311.5,188.31 312.5,186.48 313.5,184.63 314.5,182.77 315.5,180.89 316.5,179.01 317.5,177.13 318.5,175.24 319.5,173.36 320.5,171.48 321.5,169.61 322.5,167.76 323.5,165.92 324.5,164.10 325.5,162.31 326.5,160.54 327.5,158.81 328.5,157.11 329.5,155.46 330.5,153.85 331.5,152.28 332.5,150.77 333.5,149.31 334.5,147.91 335.5,146.58 336.5,145.31 337.5,144.11 338.5,142.98 339.5,141.92 340.5,140.95 341.5,140.05 342.5,139.23 343.5,138.51 344.5,137.86 345.5,137.31 346.5,136.85 347.5,136.47 348.5,136.19 349.5,136.01 350.5,135.91 351.5,135.91 352.5,136.01 353.5,136.19 354.5,136.47 355.5,136.85 356.5,137.31 357.5,137.86 358.5,138.51 359.5,139.23 360.5,140.05 361.5,140.95 362.5,141.92 363.5,142.98 364.5,144.11 365.5,145.31 366.5,146.58 367.5,147.91 368.5,149.31 369.5,150.77 370.5,152.28 371.5,153.85 372.5,155.46 373.5,157.11 374.5,158.81 375.5,160.54 376.5,162.31 377.5,164.10 378.5,165.92 379.5,167.76 380.5,169.61 381.5,171.48 382.5,173.36 383.5,175.24 384.5,177.13 385.5,179.01 386.5,180.89 387.5,182.77 388.5,184.63 389.5,186.48 390.5,188.31 391.5,190.12 392.5,191.91 393.5,193.67 394.5,195.41 395.5,197.12 396.5,198.80 397.5,200.45 398.5,202.06 399.5,203.64 400.5,205.18 401.5,206.68 402.5,208.15 403.5,209.57 404.5,210.96 405.5,212.30 406.5,213.60 407.5,214.86 408.5,216.08 409.5,217.26 410.5,218.39 411.5,219.48 412.5,220.54 413.5,221.55 414.5,222.52 415.5,223.45 416.5,224.34 417.5,225.19 418.5,226.01 419.5,226.78 420.5,227.52 421.5,228.23 422.5,228.90 423.5,229.54 424.5,230.14 425.5,230.72 426.5,231.26 427.5,231.77 428.5,232.26 429.5,232.72 430.5,233.15 431.5,233.56 432.5,233.94 433.5,234.30 434.5,234.64 435.5,234.96 436.5,235.26 437.5,235.53 438.5,235.79 439.5,236.04 440.5,236.26 441.5,236.48 442.5,236.67 443.5,236.86 444.5,237.03 445.5,237.18 446.5,237.33 447.5,237.47 448.5,237.59 449.5,237.71 450.5,237.81 451.5,237.91 452.5,238.00 453.5,238.09 454.5,238.17 455.5,238.24 456.5,238.30 457.5,238.36 458.5,238.42 459.5,238.47 460.5,238.51 461.5,238.55 462.5,238.59 463.5,238.63 464.5,238.66 465.5,238.69 466.5,238.71 467.5,238.74 468.5,238.76 469.5,238.78 470.5,238.80 471.5,238.81 472.5,238.83 473.5,238.84 474.5,238.85 475.5,238.86 476.5,238.87 477.5,238.88 478.5,238.89 479.5,238.89 480.5,238.90 481.5,238.91 482.5,238.91 483.5,238.92 484.5,238.92 485.5,238.92 486.5,238.93 487.5,238.93 495.5,238.94 503.5,238.95 511.5,238.95 519.5,238.95 527.5,238.95 535.5,238.95 543.5,238.95 551.5,238.95 559.5,238.95 567.5,238.95 575.5,238.95 583.5,238.95 591.5,238.95 599.5,238.95 607.5,238.95 615.5,238.95 623.5,238.95 631.5,238.95 639.5,238.95"/>
<polyline class="c" stroke="forestgreen" points="52.5,238.95 60.5,238.95 68.5,238.95 76.5,238.95 84.5,238.95 92.5,238.95 100.5,238.95 108.5,238.95 116.5,238.95 124.5,238.95 132.5,238.95 140.5,238.95 148.5,238.95 156.5,238.95 164.5,238.95 172.5,238.95 180.5,238.95 188.5,238.95 196.5,238.95 204.5,238.95 212.5,238.95 220.5,238.93 228.5,238.89 229.5,238.88 230.5,238.87 231.5,238.86 232.5,238.84 233.5,238.83 234.5,238.81 235.5,238.79 236.5,238.76 237.5,238.73 238.5,238.70 239.5,238.67 240.5,238.63 241.5,238.58 242.5,238.53 243.5,238.48 244.5,238.41 245.5,238.34 246.5,238.26 247.5,238.17 248.5,238.08 249.5,237.97 250.5,237.84 251.5,237.71 252.5,237.55 253.5,237.39 254.5,237.20 255.5,237.00 256.5,236.77 257.5,236.53 258.5,236.26 259.5,235.96 260.5,235.64 261.5,235.28 262.5,234.89 263.5,234.47 264.5,234.01 265.5,233.52 266.5,232.98 267.5,232.39 268.5,231.76 269.5,231.08 270.5,230.35 271.5,229.57 272.5,228.73 273.5,227.82 274.5,226.86 275.5,225.83 276.5,224.74 277.5,223.57 278.5,222.33 279.5,221.02 280.5,219.64 281.5,218.17 282.5,216.63 283.5,215.00 284.5,213.30 285.5,211.51 286.5,209.64 287.5,207.69 288.5,205.66 289.5,203.54 290.5,201.35 291.5,199.07 292.5,196.72 293.5,194.29 294.5,191.79 295.5,189.22 296.5,186.59 297.5,183.90 298.5,181.15 299.5,178.35 300.5,175.51 301.5,172.63 302.5,169.71 303.5,166.78 304.5,163.82 305.5,160.86 306.5,157.90 307.5,154.94 308.5,152.00 309.5,149.09 310.5,146.21 311.5,143.38 312.5,140.60 313.5,137.88 314.5,135.24 315.5,132.69 316.5,130.22 317.5,127.86 318.5,125.61 319.5,123.48 320.5,121.47 321.5,119.61 322.5,117.89 323.5,116.31 324.5,114.90 325.5,113.65 326.5,112.57 327.5,111.66 328.5,110.93 329.5,110.38 330.5,110.01 331.5,109.82 332.5,109.82 333.5,110.01 334.5,110.38 335.5,110.93 336.5,111.66 337.5,112.57 338.5,113.65 339.5,114.90 340.5,116.31 341.5,117.89 342.5,119.61 343.5,121.47 344.5,123.48 345.5,125.61 346.5,127.86 347.5,130.22 348.5,132.69 349.5,135.24 350.5,137.88 351.5,140.60 352.5,143.38 353.5,146.21 354.5,149.09 355.5,152.00 356.5,154.94 357.5,157.90 358.5,160.86 359.5,163.82 360.5,166.78 361.5,169.71 362.5,172.63 363.5,175.51 364.5,178.35 365.5,181.15 366.5,183.90 367.5,186.59 368.5,189.22 369.5,191.79 370.5,194.29 371.5,196.72 372.5,199.07 373.5,201.35 374.5,203.54 375.5,205.66 376.5,207.69 377.5,209.64 378.5,211.51 379.5,213.30 380.5,215.00 381.5,216.63 382.5,218.17 383.5,219.64 384.5,221.02 385.5,222.33 386.5,223.57 387.5,224.74 388.5,225.83 389.5,226.86 390.5,227.82 391.5,228.73 392.5,229.57 393.5,230.35 394.5,231.08 395.5,231.76 396.5,232.39 397.5,232.98 398.5,233.52 399.5,234.01 400.5,234.47 401.5,234.89 402.5,235.28 403.5,235.64 404.5,235.96 405.5,236.26 406.5,236.53 407.5,236.77 408.5,237.00 409.5,237.20 410.5,237.39 411.5,237.55 412.5,237.71 413.5,237.84 414.5,237.97 415.5,238.08 416.5,238.17 417.5,238.26 418.5,238.34 419.5,238.41 420.5,238.48 421.5,238.53 422.5,238.58 423.5,238.63 424.5,238.67 425.5,238.70 426.5,238.73 427.5,238.76 428.5,238.79 429.5,238.81 430.5,238.83 431.5,238.84 432.5,238.86 433.5,238.87 434.5,238.88 435.5,238.89 436.5,238.90 437.5,238.91 438.5,238.91 439.5,238.92 440.5,238.92 441.5,238.93 449.5,238.94 457.5,238.95 465.5,238.95 473.5,238.95 481.5,238.95 489.5,238.95 497.5,238.95 505.5,238.95 513.5,238.95 521.5,238.95 529.5,238.95 537.5,238.95 545.5,238.95 553.5,238.95 561.5,238.95 569.5,238.95 577.5,238.95 585.5,238.95 593.5,238.95 601.5,238.95 609.5,238.95 617.5,238.95 625.5,238.95 633.5,238.95 641.5,238.95"/>
<polyline class="c" stroke="firebrick" points="52.5,238.95 60.5,238.95 68.5,238.95 76.5,238.95 84.5,238.95 92.5,238.95 100.5,238.95 108.5,238.95 116.5,238.95 124.5,238.95 132.5,238.95 140.5,238.95 148.5,238.95 156.5,238.95 164.5,238.95 172.5,238.95 180.5,238.95 188.5,238.94 196.5,238.90 197.5,238.89 198.5,238.88 199.5,238.87 200.5,238.86 201.5,238.85 202.5,238.83 203.5,238.81 204.5,238.79 205.5,238.76 206.5,238.73 207.5,238.70 208.5,238.66 209.5,238.62 210.5,238.57 211.5,238.51 212.5,238.45 213.5,238.38 214.5,238.30 215.5,238.21 216.5,238.11 217.5,237.99 218.5,237.87 219.5,237.72 220.5,237.57 221.5,237.39 222.5,237.19 223.5,236.98 224.5,236.73 225.5,236.47 226.5,236.17 227.5,235.85 228.5,235.49 229.5,235.10 230.5,234.67 231.5,234.20 232.5,233.69 233.5,233.14 234.5,232.53 235.5,231.87 236.5,231.16 237.5,230.38 238.5,229.55 239.5,228.65 240.5,227.68 241.5,226.64 242.5,225.53 243.5,224.34 244.5,223.07 245.5,221.72 246.5,220.28 247.5,218.75 248.5,217.13 249.5,215.43 250.5,213.62 251.5,211.72 252.5,209.73 253.5,207.64 254.5,205.45 255.5,203.17 256.5,200.79 257.5,198.32 258.5,195.76 259.5,193.11 260.5,190.38 261.5,187.56 262.5,184.66 263.5,181.70 264.5,178.66 265.5,175.57 266.5,172.43 267.5,169.23 268.5,166.01 269.5,162.75 270.5,159.47 271.5,156.19 272.5,152.91 273.5,149.63 274.5,146.38 275.5,143.17 276.5,140.00 277.5,136.89 278.5,133.84 279.5,130.88 280.5,128.01 281.5,125.24 282.5,122.60 283.5,120.07 284.5,117.69 285.5,115.46 286.5,113.38 287.5,111.47 288.5,109.74 289.5,108.19 290.5,106.83 291.5,105.67 292.5,104.72 293.5,103.97 294.5,103.43 295.5,103.11 296.5,103.00 297.5,103.11 298.5,103.43 299.5,103.97 300.5,104.72 301.5,105.67 302.5,106.83 303.5,108.19 304.5,109.74 305.5,111.47 306.5,113.38 307.5,115.46 308.5,117.69 309.5,120.07 310.5,122.60 311.5,125.24 312.5,128.01 313.5,130.88 314.5,133.84 315.5,136.89 316.5,140.00 317.5,143.17 318.5,146.38 319.5,149.63 320.5,152.91 321.5,156.19 322.5,159.47 323.5,162.75 324.5,166.01 325.5,169.23 326.5,172.43 327.5,175.57 328.5,178.66 329.5,181.70 330.5,184.66 331.5,187.56 332.5,190.38 333.5,193.11 334.5,195.76 335.5,198.32 336.5,200.79 337.5,203.17 338.5,205.45 339.5,207.64 340.5,209.73 341.5,211.72 342.5,213.62 343.5,215.43 344.5,217.13 345.5,218.75 346.5,220.28 347.5,221.72 348.5,223.07 349.5,224.34 350.5,225.53 351.5,226.64 352.5,227.68 353.5,228.65 354.5,229.55 355.5,230.38 356.5,231.16 357.5,231.87 358.5,232.53 359.5,233.14 360.5,233.69 361.5,234.20 362.5,234.67 363.5,235.10 364.5,235.49 365.5,235.85 366.5,236.17 367.5,236.47 368.5,236.73 369.5,236.98 370.5,237.19 371.5,237.39 372.5,237.57 373.5,237.72 374.5,237.87 375.5,237.99 376.5,238.11 377.5,238.21 378.5,238.30 379.5,238.38 380.5,238.45 381.5,238.51 382.5,238.57 383.5,238.62 384.5,238.66 385.5,238.70 386.5,238.73 387.5,238.76 388.5,238.79 389.5,238.81 390.5,238.83 391.5,238.85 392.5,238.86 393.5,238.87 394.5,238.88 395.5,238.89 396.5,238.90 397.5,238.91 398.5,238.91 399.5,238.92 400.5,238.92 408.5,238.94 416.5,238.95 424.5,238.95 432.5,238.95 440.5,238.95 448.5,238.95 456.5,238.95 464.5,238.95 472.5,238.95 480.5,238.95 488.5,238.95 496.5,238.95 504.5,238.95 512.5,238.95 520.5,238.95 528.5,238.95 536.5,238.95 544.5,238.95 552.5,238.95 560.5,238.95 568.5,238.95 576.5,238.95 584.5,238.95 592.5,238.95 600.5,238.95 608.5,238.95 616.5,238.95 624.5,238.95 632.5,238.95 640.5,238.95"/>
<polyline class="c" stroke="tan" points="52.5,238.95 60.5,238.95 68.5,238.95 76.5,238.95 84.5,238.95 92.5,238.95 100.5,238.95 108.5,238.95 116.5,238.95 124.5,238.95 132.5,238.95 140.5,238.95 148.5,238.95 156.5,238.94 164.5,238.91 165.5,238.90 166.5,238.89 167.5,238.88 168.5,238.88 169.5,238.87 170.5,238.85 171.5,238.84 172.5,238.83 173.5,238.81 174.5,238.79 175.5,238.77 176.5,238.75 177.5,238.72 178.5,238.70 179.5,238.67 180.5,238.63 181.5,238.59 182.5,238.55 183.5,238.50 184.5,238.45 185.5,238.39 186.5,238.33 187.5,238.25 188.5,238.18 189.5,238.09 190.5,237.99 191.5,237.89 192.5,237.78 193.5,237.65 194.5,237.52 195.5,237.37 196.5,237.20 197.5,237.03 198.5,236.84 199.5,236.63 200.5,236.40 201.5,236.15 202.5,235.89 203.5,235.60 204.5,235.29 205.5,234.96 206.5,234.59 207.5,234.21 208.5,233.79 209.5,233.34 210.5,232.87 211.5,232.35 212.5,231.81 213.5,231.22 214.5,230.60 215.5,229.94 216.5,229.24 217.5,228.49 218.5,227.70 219.5,226.87 220.5,225.98 221.5,225.05 222.5,224.07 223.5,223.03 224.5,221.94 225.5,220.80 226.5,219.60 227.5,218.35 228.5,217.04 229.5,215.68 230.5,214.25 231.5,212.77 232.5,211.23 233.5,209.64 234.5,207.99 235.5,206.28 236.5,204.51 237.5,202.69 238.5,200.82 239.5,198.90 240.5,196.93 241.5,194.91 242.5,192.84 243.5,190.73 244.5,188.58 245.5,186.40 246.5,184.18 247.5,181.94 248.5,179.66 249.5,177.37 250.5,175.06 251.5,172.74 252.5,170.41 253.5,168.08 254.5,165.75 255.5,163.43 256.5,161.12 257.5,158.84 258.5,156.58 259.5,154.35 260.5,152.16 261.5,150.01 262.5,147.91 263.5,145.87 264.5,143.89 265.5,141.98 266.5,140.14 267.5,138.37 268.5,136.70 269.5,135.11 270.5,133.61 271.5,132.21 272.5,130.92 273.5,129.73 274.5,128.66 275.5,127.70 276.5,126.85 277.5,126.13 278.5,125.53 279.5,125.06 280.5,124.71 281.5,124.49 282.5,124.40 283.5,124.44 284.5,124.61 285.5,124.90 286.5,125.33 287.5,125.88 288.5,126.55 289.5,127.34 290.5,128.26 291.5,129.29 292.5,130.43 293.5,131.68 294.5,133.04 295.5,134.50 296.5,136.05 297.5,137.69 298.5,139.42 299.5,141.23 300.5,143.12 301.5,145.07 302.5,147.09 303.5,149.17 304.5,151.30 305.5,153.47 306.5,155.68 307.5,157.93 308.5,160.21 309.5,162.50 310.5,164.82 311.5,167.14 312.5,169.48 313.5,171.81 314.5,174.13 315.5,176.45 316.5,178.75 317.5,181.03 318.5,183.29 319.5,185.52 320.5,187.71 321.5,189.88 322.5,192.00 323.5,194.09 324.5,196.12 325.5,198.12 326.5,200.06 327.5,201.95 328.5,203.79 329.5,205.58 330.5,207.31 331.5,208.99 332.5,210.60 333.5,212.16 334.5,213.67 335.5,215.11 336.5,216.50 337.5,217.83 338.5,219.11 339.5,220.33 340.5,221.49 341.5,222.60 342.5,223.66 343.5,224.66 344.5,225.61 345.5,226.52 346.5,227.37 347.5,228.18 348.5,228.95 349.5,229.67 350.5,230.34 351.5,230.98 352.5,231.58 353.5,232.14 354.5,232.67 355.5,233.16 356.5,233.62 357.5,234.04 358.5,234.44 359.5,234.81 360.5,235.16 361.5,235.48 362.5,235.78 363.5,236.05 364.5,236.30 365.5,236.54 366.5,236.75 367.5,236.95 368.5,237.14 369.5,237.30 370.5,237.46 371.5,237.60 372.5,237.73 373.5,237.85 374.5,237.95 375.5,238.05 376.5,238.14 377.5,238.22 378.5,238.30 379.5,238.36 380.5,238.43 381.5,238.48 382.5,238.53 383.5,238.57 384.5,238.62 385.5,238.65 386.5,238.68 387.5,238.71 388.5,238.74 389.5,238.76 390.5,238.79 391.5,238.80 392.5,238.82 393.5,238.84 394.5,238.85 395.5,238.86 396.5,238.87 397.5,238.88 398.5,238.89 399.5,238.90 400.5,238.90 401.5,238.91 402.5,238.91 403.5,238.92 404.5,238.92 405.5,238.93 413.5,238.94 421.5,238.95 429.5,238.95 437.5,238.95 445.5,238.95 453.5,238.95 461.5,238.95 469.5,238.95 477.5,238.95 485.5,238.95 493.5,238.95 501.5,238.95 509.5,238.95 517.5,238.95 525.5,238.95 533.5,238.95 541.5,238.95 549.5,238.95 557.5,238.95 565.5,238.95 573.5,238.95 581.5,238.95 589.5,238.95 597.5,238.95 605.5,238.95 613.5,238.95 621.5,238.95 629.5,238.95 637.5,238.95"/>
<polyline class="c" stroke="orange" points="52.5,238.95 60.5,238.95 68.5,238.95 76.5,238.95 84.5,238.95 92.5,238.95 100.5,238.95 108.5,238.95 116.5,238.95 124.5,238.95 132.5,238.95 140.5,238.94 148.5,238.92 149.5,238.92 150.5,238.92 151.5,238.91 152.5,238.91 153.5,238.90 154.5,238.90 155.5,238.89 156.5,238.88 157.5,238.88 158.5,238.87 159.5,238.86 160.5,238.85 161.5,238.84 162.5,238.82 163.5,238.81 164.5,238.79 165.5,238.78 166.5,238.76 167.5,238.74 168.5,238.72 169.5,238.69 170.5,238.66 171.5,238.63 172.5,238.60 173.5,238.57 174.5,238.53 175.5,238.48 176.5,238.44 177.5,238.39 178.5,238.33 179.5,238.27 180.5,238.21 181.5,238.14 182.5,238.06 183.5,237.98 184.5,237.89 185.5,237.80 186.5,237.69 187.5,237.58 188.5,237.46 189.5,237.33 190.5,237.19 191.5,237.04 192.5,236.88 193.5,236.71 194.5,236.52 195.5,236.32 196.5,236.11 197.5,235.88 198.5,235.64 199.5,235.38 200.5,235.11 201.5,234.81 202.5,234.50 203.5,234.17 204.5,233.82 205.5,233.44 206.5,233.05 207.5,232.63 208.5,232.19 209.5,231.72 210.5,231.23 211.5,230.71 212.5,230.16 213.5,229.59 214.5,228.98 215.5,228.35 216.5,227.68 217.5,226.99 218.5,226.26 219.5,225.49 220.5,224.70 221.5,223.87 222.5,223.00 223.5,222.10 224.5,221.16 225.5,220.19 226.5,219.17 227.5,218.13 228.5,217.04 229.5,215.92 230.5,214.76 231.5,213.56 232.5,212.33 233.5,211.06 234.5,209.76 235.5,208.41 236.5,207.04 237.5,205.63 238.5,204.19 239.5,202.71 240.5,201.21 241.5,199.67 242.5,198.11 243.5,196.52 244.5,194.90 245.5,193.27 246.5,191.61 247.5,189.93 248.5,188.24 249.5,186.53 250.5,184.81 251.5,183.08 252.5,181.34 253.5,179.60 254.5,177.86 255.5,176.12 256.5,174.38 257.5,172.65 258.5,170.94 259.5,169.23 260.5,167.55 261.5,165.89 262.5,164.24 263.5,162.63 264.5,161.05 265.5,159.50 266.5,157.99 267.5,156.52 268.5,155.09 269.5,153.71 270.5,152.39 271.5,151.11 272.5,149.89 273.5,148.73 274.5,147.63 275.5,146.59 276.5,145.63 277.5,144.73 278.5,143.90 279.5,143.14 280.5,142.47 281.5,141.86 282.5,141.34 283.5,140.89 284.5,140.53 285.5,140.25 286.5,140.05 287.5,139.93 288.5,139.90 289.5,139.95 290.5,140.08 291.5,140.30 292.5,140.60 293.5,140.98 294.5,141.44 295.5,141.98 296.5,142.60 297.5,143.29 298.5,144.06 299.5,144.90 300.5,145.81 301.5,146.80 302.5,147.84 303.5,148.96 304.5,150.13 305.5,151.36 306.5,152.65 307.5,153.99 308.5,155.38 309.5,156.81 310.5,158.29 311.5,159.81 312.5,161.36 313.5,162.95 314.5,164.57 315.5,166.22 316.5,167.89 317.5,169.57 318.5,171.28 319.5,173.00 320.5,174.73 321.5,176.47 322.5,178.21 323.5,179.95 324.5,181.69 325.5,183.42 326.5,185.15 327.5,186.87 328.5,188.58 329.5,190.27 330.5,191.94 331.5,193.60 332.5,195.23 333.5,196.84 334.5,198.42 335.5,199.98 336.5,201.51 337.5,203.01 338.5,204.48 339.5,205.91 340.5,207.32 341.5,208.69 342.5,210.02 343.5,211.32 344.5,212.58 345.5,213.81 346.5,214.99 347.5,216.15 348.5,217.26 349.5,218.34 350.5,219.38 351.5,220.38 352.5,221.35 353.5,222.28 354.5,223.18 355.5,224.04 356.5,224.86 357.5,225.65 358.5,226.41 359.5,227.13 360.5,227.82 361.5,228.48 362.5,229.11 363.5,229.71 364.5,230.28 365.5,230.82 366.5,231.33 367.5,231.82 368.5,232.28 369.5,232.72 370.5,233.13 371.5,233.52 372.5,233.89 373.5,234.24 374.5,234.56 375.5,234.87 376.5,235.16 377.5,235.43 378.5,235.69 379.5,235.93 380.5,236.15 381.5,236.36 382.5,236.56 383.5,236.74 384.5,236.91 385.5,237.07 386.5,237.22 387.5,237.36 388.5,237.48 389.5,237.60 390.5,237.71 391.5,237.82 392.5,237.91 393.5,238.00 394.5,238.08 395.5,238.15 396.5,238.22 397.5,238.29 398.5,238.34 399.5,238.40 400.5,238.45 401.5,238.49 402.5,238.53 403.5,238.57 404.5,238.61 405.5,238.64 406.5,238.67 407.5,238.70 408.5,238.72 409.5,238.74 410.5,238.76 411.5,238.78 412.5,238.80 413.5,238.81 414.5,238.83 415.5,238.84 416.5,238.85 417.5,238.86 418.5,238.87 419.5,238.88 420.5,238.89 421.5,238.89 422.5,238.90 423.5,238.90 424.5,238.91 425.5,238.91 426.5,238.92 427.5,238.92 428.5,238.92 429.5,238.93 437.5,238.94 445.5,238.95 453.5,238.95 461.5,238.95 469.5,238.95 477.5,238.95 485.5,238.95 493.5,238.95 501.5,238.95 509.5,238.95 517.5,238.95 525.5,238.95 533.5,238.95 541.5,238.95 549.5,238.95 557.5,238.95 565.5,238.95 573.5,238.95 581.5,238.95 589.5,238.95 597.5,238.95 605.5,238.95 613.5,238.95 621.5,238.95 629.5,238.95 637.5,238.95"/>
<polyline class="c" stroke="hotpink" points="52.5,238.95 60.5,238.95 68.5,238.95 76.5,238.95 84.5,238.95 92.5,238.95 100.5,238.95 108.5,238.95 116.5,238.95 124.5,238.95 132.5,238.95 140.5,238.95 148.5,238.95 156.5,238.94 164.5,238.93 172.5,238.89 173.5,238.88 174.5,238.87 175.5,238.86 176.5,238.84 177.5,238.83 178.5,238.82 179.5,238.80 180.5,238.78 181.5,238.76 182.5,238.73 183.5,238.71 184.5,238.68 185.5,238.65 186.5,238.61 187.5,238.57 188.5,238.52 189.5,238.48 190.5,238.42 191.5,238.36 192.5,238.30 193.5,238.22 194.5,238.15 195.5,238.06 196.5,237.96 197.5,237.86 198.5,237.74 199.5,237.62 200.5,237.49 201.5,237.34 202.5,237.18 203.5,237.00 204.5,236.81 205.5,236.61 206.5,236.39 207.5,236.14 208.5,235.89 209.5,235.61 210.5,235.30 211.5,234.98 212.5,234.63 213.5,234.26 214.5,233.85 215.5,233.42 216.5,232.96 217.5,232.47 218.5,231.95 219.5,231.39 220.5,230.80 221.5,230.17 222.5,229.50 223.5,228.79 224.5,228.04 225.5,227.24 226.5,226.41 227.5,225.52 228.5,224.59 229.5,223.61 230.5,222.59 231.5,221.51 232.5,220.38 233.5,219.20 234.5,217.97 235.5,216.68 236.5,215.34 237.5,213.95 238.5,212.50 239.5,211.00 240.5,209.45 241.5,207.84 242.5,206.18 243.5,204.47 244.5,202.71 245.5,200.90 246.5,199.05 247.5,197.14 248.5,195.20 249.5,193.21 250.5,191.19 251.5,189.12 252.5,187.03 253.5,184.90 254.5,182.75 255.5,180.58 256.5,178.38 257.5,176.18 258.5,173.96 259.5,171.73 260.5,169.51 261.5,167.28 262.5,165.07 263.5,162.87 264.5,160.68 265.5,158.52 266.5,156.40 267.5,154.30 268.5,152.25 269.5,150.24 270.5,148.28 271.5,146.38 272.5,144.54 273.5,142.76 274.5,141.06 275.5,139.44 276.5,137.90 277.5,136.44 278.5,135.08 279.5,133.81 280.5,132.63 281.5,131.57 282.5,130.60 283.5,129.75 284.5,129.01 285.5,128.38 286.5,127.87 287.5,127.47 288.5,127.19 289.5,127.04 290.5,127.00 291.5,127.09 292.5,127.29 293.5,127.61 294.5,128.06 295.5,128.62 296.5,129.29 297.5,130.08 298.5,130.98 299.5,131.98 300.5,133.09 301.5,134.30 302.5,135.61 303.5,137.01 304.5,138.50 305.5,140.08 306.5,141.73 307.5,143.46 308.5,145.27 309.5,147.13 310.5,149.06 311.5,151.03 312.5,153.06 313.5,155.13 314.5,157.24 315.5,159.39 316.5,161.55 317.5,163.74 318.5,165.95 319.5,168.17 320.5,170.40 321.5,172.62 322.5,174.85 323.5,177.06 324.5,179.26 325.5,181.45 326.5,183.62 327.5,185.76 328.5,187.87 329.5,189.95 330.5,192.00 331.5,194.01 332.5,195.98 333.5,197.91 334.5,199.80 335.5,201.63 336.5,203.42 337.5,205.16 338.5,206.85 339.5,208.49 340.5,210.08 341.5,211.61 342.5,213.09 343.5,214.51 344.5,215.88 345.5,217.20 346.5,218.47 347.5,219.68 348.5,220.84 349.5,221.94 350.5,223.00 351.5,224.01 352.5,224.97 353.5,225.88 354.5,226.75 355.5,227.57 356.5,228.34 357.5,229.08 358.5,229.77 359.5,230.42 360.5,231.04 361.5,231.62 362.5,232.16 363.5,232.67 364.5,233.15 365.5,233.60 366.5,234.02 367.5,234.41 368.5,234.77 369.5,235.11 370.5,235.43 371.5,235.72 372.5,235.99 373.5,236.24 374.5,236.48 375.5,236.69 376.5,236.89 377.5,237.07 378.5,237.24 379.5,237.40 380.5,237.54 381.5,237.67 382.5,237.79 383.5,237.90 384.5,238.00 385.5,238.09 386.5,238.18 387.5,238.25 388.5,238.32 389.5,238.39 390.5,238.44 391.5,238.50 392.5,238.54 393.5,238.59 394.5,238.62 395.5,238.66 396.5,238.69 397.5,238.72 398.5,238.74 399.5,238.77 400.5,238.79 401.5,238.81 402.5,238.82 403.5,238.84 404.5,238.85 405.5,238.86 406.5,238.87 407.5,238.88 408.5,238.89 409.5,238.90 410.5,238.90 411.5,238.91 412.5,238.91 413.5,238.92 414.5,238.92 415.5,238.93 423.5,238.94 431.5,238.95 439.5,238.95 447.5,238.95 455.5,238.95 463.5,238.95 471.5,238.95 479.5,238.95 487.5,238.95 495.5,238.95 503.5,238.95 511.5,238.95 519.5,238.95 527.5,238.95 535.5,238.95 543.5,238.95 551.5,238.95 559.5,238.95 567.5,238.95 575.5,238.95 583.5,238.95 591.5,238.95 599.5,238.95 607.5,238.95 615.5,238.95 623.5,238.95 631.5,238.95 639.5,238.95"/>
<polyline class="c" stroke="red" points="52.5,238.95 60.5,238.95 68.5,238.95 76.5,238.95 84.5,238.95 92.5,238.95 100.5,238.95 108.5,238.95 116.5,238.95 124.5,238.95 132.5,238.95 140.5,238.94 148.5,238.93 156.5,238.90 157.5,238.89 158.5,238.89 159.5,238.88 160.5,238.87 161.5,238.86 162.5,238.85 163.5,238.84 164.5,238.83 165.5,238.82 166.5,238.80 167.5,238.79 168.5,238.77 169.5,238.75 170.5,238.73 171.5,238.71 172.5,238.68 173.5,238.66 174.5,238.63 175.5,238.59 176.5,238.56 177.5,238.52 178.5,238.48 179.5,238.43 180.5,238.39 181.5,238.33 182.5,238.28 183.5,238.21 184.5,238.15 185.5,238.07 186.5,237.99 187.5,237.91 188.5,237.82 189.5,237.72 190.5,237.61 191.5,237.50 192.5,237.38 193.5,237.25 194.5,237.11 195.5,236.96 196.5,236.80 197.5,236.62 198.5,236.44 199.5,236.24 200.5,236.03 201.5,235.81 202.5,235.57 203.5,235.32 204.5,235.05 205.5,234.76 206.5,234.46 207.5,234.14 208.5,233.80 209.5,233.44 210.5,233.06 211.5,232.66 212.5,232.23 213.5,231.78 214.5,231.31 215.5,230.82 216.5,230.30 217.5,229.75 218.5,229.18 219.5,228.58 220.5,227.95 221.5,227.29 222.5,226.61 223.5,225.89 224.5,225.14 225.5,224.36 226.5,223.55 227.5,222.71 228.5,221.83 229.5,220.92 230.5,219.98 231.5,219.00 232.5,217.99 233.5,216.95 234.5,215.87 235.5,214.76 236.5,213.61 237.5,212.44 238.5,211.23 239.5,209.98 240.5,208.71 241.5,207.40 242.5,206.06 243.5,204.70 244.5,203.30 245.5,201.88 246.5,200.43 247.5,198.96 248.5,197.46 249.5,195.94 250.5,194.40 251.5,192.84 252.5,191.26 253.5,189.67 254.5,188.07 255.5,186.45 256.5,184.83 257.5,183.20 258.5,181.57 259.5,179.93 260.5,178.30 261.5,176.67 262.5,175.05 263.5,173.43 264.5,171.83 265.5,170.25 266.5,168.68 267.5,167.13 268.5,165.61 269.5,164.11 270.5,162.65 271.5,161.21 272.5,159.81 273.5,158.45 274.5,157.14 275.5,155.86 276.5,154.63 277.5,153.45 278.5,152.33 279.5,151.25 280.5,150.24 281.5,149.28 282.5,148.38 283.5,147.55 284.5,146.78 285.5,146.08 286.5,145.45 287.5,144.89 288.5,144.40 289.5,143.98 290.5,143.63 291.5,143.36 292.5,143.17 293.5,143.05 294.5,143.00 295.5,143.03 296.5,143.14 297.5,143.32 298.5,143.57 299.5,143.90 300.5,144.31 301.5,144.79 302.5,145.33 303.5,145.95 304.5,146.64 305.5,147.39 306.5,148.21 307.5,149.10 308.5,150.04 309.5,151.05 310.5,152.11 311.5,153.22 312.5,154.39 313.5,155.61 314.5,156.88 315.5,158.19 316.5,159.54 317.5,160.93 318.5,162.36 319.5,163.82 320.5,165.31 321.5,166.83 322.5,168.37 323.5,169.93 324.5,171.52 325.5,173.11 326.5,174.72 327.5,176.35 328.5,177.97 329.5,179.61 330.5,181.24 331.5,182.87 332.5,184.50 333.5,186.13 334.5,187.75 335.5,189.35 336.5,190.95 337.5,192.53 338.5,194.09 339.5,195.63 340.5,197.16 341.5,198.66 342.5,200.14 343.5,201.59 344.5,203.02 345.5,204.42 346.5,205.79 347.5,207.14 348.5,208.45 349.5,209.73 350.5,210.98 351.5,212.20 352.5,213.38 353.5,214.53 354.5,215.65 355.5,216.73 356.5,217.78 357.5,218.80 358.5,219.78 359.5,220.73 360.5,221.65 361.5,222.53 362.5,223.38 363.5,224.20 364.5,224.99 365.5,225.74 366.5,226.46 367.5,227.16 368.5,227.82 369.5,228.46 370.5,229.06 371.5,229.64 372.5,230.19 373.5,230.72 374.5,231.22 375.5,231.69 376.5,232.14 377.5,232.57 378.5,232.98 379.5,233.36 380.5,233.73 381.5,234.07 382.5,234.40 383.5,234.70 384.5,234.99 385.5,235.26 386.5,235.52 387.5,235.76 388.5,235.99 389.5,236.20 390.5,236.40 391.5,236.59 392.5,236.76 393.5,236.93 394.5,237.08 395.5,237.22 396.5,237.35 397.5,237.48 398.5,237.59 399.5,237.70 400.5,237.80 401.5,237.89 402.5,237.98 403.5,238.06 404.5,238.13 405.5,238.20 406.5,238.26 407.5,238.32 408.5,238.38 409.5,238.42 410.5,238.47 411.5,238.51 412.5,238.55 413.5,238.59 414.5,238.62 415.5,238.65 416.5,238.68 417.5,238.70 418.5,238.73 419.5,238.75 420.5,238.77 421.5,238.78 422.5,238.80 423.5,238.81 424.5,238.83 425.5,238.84 426.5,238.85 427.5,238.86 428.5,238.87 429.5,238.88 430.5,238.88 431.5,238.89 432.5,238.90 433.5,238.90 434.5,238.91 435.5,238.91 436.5,238.92 437.5,238.92 438.5,238.92 439.5,238.93 440.5,238.93 448.5,238.94 456.5,238.95 464.5,238.95 472.5,238.95 480.5,238.95 488.5,238.95 496.5,238.95 504.5,238.95 512.5,238.95 520.5,238.95 528.5,238.95 536.5,238.95 544.5,238.95 552.5,238.95 560.5,238.95 568.5,238.95 576.5,238.95 584.5,238.95 592.5,238.95 600.5,238.95 608.5,238.95 616.5,238.95 624.5,238.95 632.5,238.95 640.5,238.95"/>
<polyline class="c" stroke="rebeccapurple" points="52.5,238.95 60.5,238.95 68.5,238.95 76.5,238.95 84.5,238.95 92.5,238.95 100.5,238.95 108.5,238.94 116.5,238.94 124.5,238.92 125.5,238.92 126.5,238.91 127.5,238.91 128.5,238.91 129.5,238.90 130.5,238.90 131.5,238.89 132.5,238.89 133.5,238.88 134.5,238.88 135.5,238.87 136.5,238.86 137.5,238.85 138.5,238.85 139.5,238.84 140.5,238.83 141.5,238.82 142.5,238.81 143.5,238.79 144.5,238.78 145.5,238.77 146.5,238.75 147.5,238.74 148.5,238.72 149.5,238.70 150.5,238.68 151.5,238.66 152.5,238.63 153.5,238.61 154.5,238.58 155.5,238.56 156.5,238.52 157.5,238.49 158.5,238.46 159.5,238.42 160.5,238.38 161.5,238.34 162.5,238.30 163.5,238.25 164.5,238.20 165.5,238.14 166.5,238.09 167.5,238.03 168.5,237.96 169.5,237.89 170.5,237.82 171.5,237.74 172.5,237.66 173.5,237.57 174.5,237.48 175.5,237.39 176.5,237.28 177.5,237.18 178.5,237.06 179.5,236.94 180.5,236.81 181.5,236.68 182.5,236.54 183.5,236.39 184.5,236.23 185.5,236.07 186.5,235.90 187.5,235.72 188.5,235.53 189.5,235.33 190.5,235.12 191.5,234.90 192.5,234.67 193.5,234.43 194.5,234.18 195.5,233.91 196.5,233.64 197.5,233.35 198.5,233.06 199.5,232.74 200.5,232.42 201.5,232.08 202.5,231.73 203.5,231.37 204.5,230.99 205.5,230.59 206.5,230.18 207.5,229.76 208.5,229.32 209.5,228.86 210.5,228.39 211.5,227.90 212.5,227.39 213.5,226.87 214.5,226.33 215.5,225.77 216.5,225.20 217.5,224.61 218.5,224.00 219.5,223.37 220.5,222.73 221.5,222.06 222.5,221.38 223.5,220.68 224.5,219.97 225.5,219.23 226.5,218.48 227.5,217.71 228.5,216.92 229.5,216.12 230.5,215.29 231.5,214.45 232.5,213.60 233.5,212.72 234.5,211.84 235.5,210.93 236.5,210.01 237.5,209.08 238.5,208.13 239.5,207.17 240.5,206.19 241.5,205.21 242.5,204.21 243.5,203.20 244.5,202.18 245.5,201.15 246.5,200.11 247.5,199.06 248.5,198.01 249.5,196.95 250.5,195.88 251.5,194.81 252.5,193.74 253.5,192.67 254.5,191.59 255.5,190.52 256.5,189.45 257.5,188.38 258.5,187.31 259.5,186.25 260.5,185.19 261.5,184.14 262.5,183.10 263.5,182.07 264.5,181.05 265.5,180.04 266.5,179.05 267.5,178.07 268.5,177.10 269.5,176.16 270.5,175.23 271.5,174.32 272.5,173.43 273.5,172.57 274.5,171.73 275.5,170.91 276.5,170.12 277.5,169.36 278.5,168.62 279.5,167.91 280.5,167.24 281.5,166.59 282.5,165.98 283.5,165.40 284.5,164.85 285.5,164.34 286.5,163.86 287.5,163.42 288.5,163.01 289.5,162.65 290.5,162.32 291.5,162.03 292.5,161.78 293.5,161.56 294.5,161.39 295.5,161.26 296.5,161.17 297.5,161.11 298.5,161.10 299.5,161.13 300.5,161.20 301.5,161.31 302.5,161.46 303.5,161.64 304.5,161.87 305.5,162.14 306.5,162.44 307.5,162.79 308.5,163.17 309.5,163.59 310.5,164.05 311.5,164.54 312.5,165.06 313.5,165.62 314.5,166.22 315.5,166.84 316.5,167.50 317.5,168.19 318.5,168.91 319.5,169.66 320.5,170.43 321.5,171.23 322.5,172.06 323.5,172.91 324.5,173.79 325.5,174.68 326.5,175.60 327.5,176.53 328.5,177.49 329.5,178.46 330.5,179.44 331.5,180.44 332.5,181.45 333.5,182.48 334.5,183.51 335.5,184.56 336.5,185.61 337.5,186.67 338.5,187.73 339.5,188.80 340.5,189.88 341.5,190.95 342.5,192.02 343.5,193.10 344.5,194.17 345.5,195.24 346.5,196.31 347.5,197.37 348.5,198.43 349.5,199.48 350.5,200.52 351.5,201.56 352.5,202.59 353.5,203.60 354.5,204.61 355.5,205.60 356.5,206.58 357.5,207.55 358.5,208.51 359.5,209.45 360.5,210.38 361.5,211.29 362.5,212.19 363.5,213.08 364.5,213.94 365.5,214.79 366.5,215.62 367.5,216.44 368.5,217.24 369.5,218.02 370.5,218.78 371.5,219.53 372.5,220.26 373.5,220.97 374.5,221.66 375.5,222.33 376.5,222.99 377.5,223.63 378.5,224.25 379.5,224.85 380.5,225.43 381.5,226.00 382.5,226.55 383.5,227.08 384.5,227.60 385.5,228.10 386.5,228.58 387.5,229.04 388.5,229.49 389.5,229.93 390.5,230.35 391.5,230.75 392.5,231.14 393.5,231.51 394.5,231.87 395.5,232.22 396.5,232.55 397.5,232.87 398.5,233.18 399.5,233.47 400.5,233.75 401.5,234.02 402.5,234.28 403.5,234.53 404.5,234.76 405.5,234.99 406.5,235.20 407.5,235.41 408.5,235.60 409.5,235.79 410.5,235.97 411.5,236.14 412.5,236.30 413.5,236.45 414.5,236.60 415.5,236.73 416.5,236.87 417.5,236.99 418.5,237.11 419.5,237.22 420.5,237.33 421.5,237.43 422.5,237.52 423.5,237.61 424.5,237.69 425.5,237.77 426.5,237.85 427.5,237.92 428.5,237.99 429.5,238.05 430.5,238.11 431.5,238.17 432.5,238.22 433.5,238.27 434.5,238.31 435.5,238.36 436.5,238.40 437.5,238.44 438.5,238.47 439.5,238.51 440.5,238.54 441.5,238.57 442.5,238.59 443.5,238.62 444.5,238.64 445.5,238.67 446.5,238.69 447.5,238.71 448.5,238.72 449.5,238.74 450.5,238.76 451.5,238.77 452.5,238.79 453.5,238.80 454.5,238.81 455.5,238.82 456.5,238.83 457.5,238.84 458.5,238.85 459.5,238.86 460.5,238.86 461.5,238.87 462.5,238.88 463.5,238.88 464.5,238.89 465.5,238.89 466.5,238.90 467.5,238.90 468.5,238.91 469.5,238.91 470.5,238.91 471.5,238.92 472.5,238.92 473.5,238.92 474.5,238.93 475.5,238.93 476.5,238.93 477.5,238.93 485.5,238.94 493.5,238.95 501.5,238.95 509.5,238.95 517.5,238.95 525.5,238.95 533.5,238.95 541.5,238.95 549.5,238.95 557.5,238.95 565.5,238.95 573.5,238.95 581.5,238.95 589.5,238.95 597.5,238.95 605.5,238.95 613.5,238.95 621.5,238.95 629.5,238.95 637.5,238.95"/>
<polyline class="c" stroke="darkkhaki" points="52.5,238.95 60.5,238.95 68.5,238.95 76.5,238.95 84.5,238.95 92.5,238.95 100.5,238.95 108.5,238.95 116.5,238.95 124.5,238.95 132.5,238.95 140.5,238.95 148.5,238.95 156.5,238.95 164.5,238.95 172.5,238.95 180.5,238.94 188.5,238.91 189.5,238.90 190.5,238.90 191.5,238.89 192.5,238.88 193.5,238.87 194.5,238.86 195.5,238.84 196.5,238.83 197.5,238.81 198.5,238.79 199.5,238.77 200.5,238.74 201.5,238.72 202.5,238.68 203.5,238.65 204.5,238.61 205.5,238.56 206.5,238.51 207.5,238.45 208.5,238.39 209.5,238.32 210.5,238.24 211.5,238.16 212.5,238.06 213.5,237.95 214.5,237.84 215.5,237.71 216.5,237.56 217.5,237.40 218.5,237.23 219.5,237.04 220.5,236.83 221.5,236.60 222.5,236.35 223.5,236.08 224.5,235.78 225.5,235.45 226.5,235.10 227.5,234.72 228.5,234.30 229.5,233.86 230.5,233.37 231.5,232.85 232.5,232.29 233.5,231.68 234.5,231.03 235.5,230.33 236.5,229.59 237.5,228.79 238.5,227.94 239.5,227.04 240.5,226.07 241.5,225.05 242.5,223.97 243.5,222.82 244.5,221.61 245.5,220.33 246.5,218.98 247.5,217.56 248.5,216.08 249.5,214.52 250.5,212.89 251.5,211.19 252.5,209.41 253.5,207.56 254.5,205.64 255.5,203.65 256.5,201.59 257.5,199.47 258.5,197.27 259.5,195.01 260.5,192.69 261.5,190.31 262.5,187.88 263.5,185.39 264.5,182.86 265.5,180.28 266.5,177.67 267.5,175.02 268.5,172.35 269.5,169.66 270.5,166.95 271.5,164.23 272.5,161.51 273.5,158.80 274.5,156.11 275.5,153.43 276.5,150.79 277.5,148.18 278.5,145.62 279.5,143.11 280.5,140.66 281.5,138.29 282.5,135.99 283.5,133.77 284.5,131.65 285.5,129.63 286.5,127.72 287.5,125.93 288.5,124.25 289.5,122.71 290.5,121.29 291.5,120.02 292.5,118.89 293.5,117.91 294.5,117.08 295.5,116.41 296.5,115.89 297.5,115.53 298.5,115.34 299.5,115.31 300.5,115.44 301.5,115.73 302.5,116.18 303.5,116.79 304.5,117.56 305.5,118.48 306.5,119.55 307.5,120.77 308.5,122.13 309.5,123.62 310.5,125.24 311.5,126.99 312.5,128.86 313.5,130.83 314.5,132.91 315.5,135.09 316.5,137.36 317.5,139.70 318.5,142.12 319.5,144.61 320.5,147.15 321.5,149.74 322.5,152.37 323.5,155.04 324.5,157.72 325.5,160.43 326.5,163.14 327.5,165.86 328.5,168.57 329.5,171.27 330.5,173.96 331.5,176.61 332.5,179.24 333.5,181.83 334.5,184.38 335.5,186.89 336.5,189.35 337.5,191.75 338.5,194.09 339.5,196.38 340.5,198.60 341.5,200.75 342.5,202.84 343.5,204.86 344.5,206.80 345.5,208.68 346.5,210.48 347.5,212.22 348.5,213.88 349.5,215.46 350.5,216.98 351.5,218.42 352.5,219.80 353.5,221.10 354.5,222.34 355.5,223.52 356.5,224.63 357.5,225.67 358.5,226.66 359.5,227.59 360.5,228.46 361.5,229.28 362.5,230.04 363.5,230.76 364.5,231.43 365.5,232.05 366.5,232.63 367.5,233.17 368.5,233.67 369.5,234.13 370.5,234.56 371.5,234.95 372.5,235.32 373.5,235.65 374.5,235.96 375.5,236.24 376.5,236.50 377.5,236.74 378.5,236.96 379.5,237.16 380.5,237.34 381.5,237.50 382.5,237.65 383.5,237.79 384.5,237.91 385.5,238.02 386.5,238.12 387.5,238.21 388.5,238.29 389.5,238.36 390.5,238.43 391.5,238.49 392.5,238.54 393.5,238.59 394.5,238.63 395.5,238.67 396.5,238.70 397.5,238.73 398.5,238.76 399.5,238.78 400.5,238.80 401.5,238.82 402.5,238.84 403.5,238.85 404.5,238.86 405.5,238.88 406.5,238.89 407.5,238.89 408.5,238.90 409.5,238.91 410.5,238.91 411.5,238.92 412.5,238.92 413.5,238.93 421.5,238.94 429.5,238.95 437.5,238.95 445.5,238.95 453.5,238.95 461.5,238.95 469.5,238.95 477.5,238.95 485.5,238.95 493.5,238.95 501.5,238.95 509.5,238.95 517.5,238.95 525.5,238.95 533.5,238.95 541.5,238.95 549.5,238.95 557.5,238.95 565.5,238.95 573.5,238.95 581.5,238.95 589.5,238.95 597.5,238.95 605.5,238.95 613.5,238.95 621.5,238.95 629.5,238.95 637.5,238.95"/>
<polyline class="c" stroke="magenta" points="52.5,238.95 60.5,238.95 68.5,238.95 76.5,238.95 84.5,238.95 92.5,238.95 100.5,238.95 108.5,238.95 116.5,238.95 124.5,238.95 132.5,238.95 140.5,238.95 148.5,238.95 156.5,238.95 164.5,238.95 172.5,238.95 180.5,238.94 188.5,238.93 196.5,238.87 197.5,238.86 198.5,238.85 199.5,238.83 200.5,238.81 201.5,238.79 202.5,238.77 203.5,238.74 204.5,238.71 205.5,238.68 206.5,238.64 207.5,238.60 208.5,238.55 209.5,238.50 210.5,238.43 211.5,238.37 212.5,238.29 213.5,238.21 214.5,238.11 215.5,238.01 216.5,237.89 217.5,237.76 218.5,237.62 219.5,237.46 220.5,237.28 221.5,237.09 222.5,236.87 223.5,236.64 224.5,236.38 225.5,236.10 226.5,235.79 227.5,235.45 228.5,235.08 229.5,234.68 230.5,234.25 231.5,233.78 232.5,233.26 233.5,232.71 234.5,232.11 235.5,231.47 236.5,230.77 237.5,230.03 238.5,229.22 239.5,228.37 240.5,227.45 241.5,226.47 242.5,225.43 243.5,224.32 244.5,223.14 245.5,221.89 246.5,220.57 247.5,219.17 248.5,217.70 249.5,216.15 250.5,214.52 251.5,212.81 252.5,211.02 253.5,209.15 254.5,207.20 255.5,205.17 256.5,203.06 257.5,200.87 258.5,198.61 259.5,196.27 260.5,193.86 261.5,191.38 262.5,188.84 263.5,186.23 264.5,183.57 265.5,180.85 266.5,178.09 267.5,175.28 268.5,172.44 269.5,169.57 270.5,166.68 271.5,163.77 272.5,160.86 273.5,157.95 274.5,155.04 275.5,152.16 276.5,149.30 277.5,146.48 278.5,143.70 279.5,140.98 280.5,138.33 281.5,135.74 282.5,133.24 283.5,130.83 284.5,128.52 285.5,126.32 286.5,124.24 287.5,122.29 288.5,120.47 289.5,118.79 290.5,117.25 291.5,115.87 292.5,114.65 293.5,113.60 294.5,112.71 295.5,112.00 296.5,111.46 297.5,111.10 298.5,110.92 299.5,110.92 300.5,111.10 301.5,111.46 302.5,112.00 303.5,112.71 304.5,113.60 305.5,114.65 306.5,115.87 307.5,117.25 308.5,118.79 309.5,120.47 310.5,122.29 311.5,124.24 312.5,126.32 313.5,128.52 314.5,130.83 315.5,133.24 316.5,135.74 317.5,138.33 318.5,140.98 319.5,143.70 320.5,146.48 321.5,149.30 322.5,152.16 323.5,155.04 324.5,157.95 325.5,160.86 326.5,163.77 327.5,166.68 328.5,169.57 329.5,172.44 330.5,175.28 331.5,178.09 332.5,180.85 333.5,183.57 334.5,186.23 335.5,188.84 336.5,191.38 337.5,193.86 338.5,196.27 339.5,198.61 340.5,200.87 341.5,203.06 342.5,205.17 343.5,207.20 344.5,209.15 345.5,211.02 346.5,212.81 347.5,214.52 348.5,216.15 349.5,217.70 350.5,219.17 351.5,220.57 352.5,221.89 353.5,223.14 354.5,224.32 355.5,225.43 356.5,226.47 357.5,227.45 358.5,228.37 359.5,229.22 360.5,230.03 361.5,230.77 362.5,231.47 363.5,232.11 364.5,232.71 365.5,233.26 366.5,233.78 367.5,234.25 368.5,234.68 369.5,235.08 370.5,235.45 371.5,235.79 372.5,236.10 373.5,236.38 374.5,236.64 375.5,236.87 376.5,237.09 377.5,237.28 378.5,237.46 379.5,237.62 380.5,237.76 381.5,237.89 382.5,238.01 383.5,238.11 384.5,238.21 385.5,238.29 386.5,238.37 387.5,238.43 388.5,238.50 389.5,238.55 390.5,238.60 391.5,238.64 392.5,238.68 393.5,238.71 394.5,238.74 395.5,238.77 396.5,238.79 397.5,238.81 398.5,238.83 399.5,238.85 400.5,238.86 401.5,238.87 402.5,238.88 403.5,238.89 404.5,238.90 405.5,238.91 406.5,238.91 407.5,238.92 408.5,238.92 409.5,238.93 417.5,238.94 425.5,238.95 433.5,238.95 441.5,238.95 449.5,238.95 457.5,238.95 465.5,238.95 473.5,238.95 481.5,238.95 489.5,238.95 497.5,238.95 505.5,238.95 513.5,238.95 521.5,238.95 529.5,238.95 537.5,238.95 545.5,238.95 553.5,238.95 561.5,238.95 569.5,238.95 577.5,238.95 585.5,238.95 593.5,238.95 601.5,238.95 609.5,238.95 617.5,238.95 625.5,238.95 633.5,238.95 641.5,238.95"/>
<polyline class="c" stroke="lime" points="52.5,238.95 60.5,238.95 68.5,238.95 76.5,238.95 84.5,238.95 92.5,238.95 100.5,238.95 108.5,238.95 116.5,238.95 124.5,238.95 132.5,238.95 140.5,238.95 148.5,238.95 156.5,238.95 164.5,238.95 172.5,238.95 180.5,238.95 188.5,238.95 196.5,238.93 204.5,238.90 205.5,238.89 206.5,238.88 207.5,238.87 208.5,238.85 209.5,238.84 210.5,238.82 211.5,238.81 212.5,238.79 213.5,238.76 214.5,238.74 215.5,238.71 216.5,238.67 217.5,238.64 218.5,238.59 219.5,238.55 220.5,238.49 221.5,238.43 222.5,238.37 223.5,238.29 224.5,238.21 225.5,238.12 226.5,238.02 227.5,237.91 228.5,237.78 229.5,237.65 230.5,237.50 231.5,237.33 232.5,237.14 233.5,236.94 234.5,236.72 235.5,236.48 236.5,236.21 237.5,235.93 238.5,235.61 239.5,235.27 240.5,234.89 241.5,234.49 242.5,234.05 243.5,233.57 244.5,233.06 245.5,232.51 246.5,231.91 247.5,231.27 248.5,230.58 249.5,229.84 250.5,229.05 251.5,228.21 252.5,227.31 253.5,226.35 254.5,225.33 255.5,224.25 256.5,223.11 257.5,221.89 258.5,220.61 259.5,219.26 260.5,217.84 261.5,216.35 262.5,214.78 263.5,213.14 264.5,211.42 265.5,209.63 266.5,207.76 267.5,205.82 268.5,203.81 269.5,201.73 270.5,199.57 271.5,197.34 272.5,195.05 273.5,192.69 274.5,190.28 275.5,187.80 276.5,185.27 277.5,182.69 278.5,180.07 279.5,177.40 280.5,174.71 281.5,171.98 282.5,169.23 283.5,166.47 284.5,163.69 285.5,160.92 286.5,158.15 287.5,155.40 288.5,152.66 289.5,149.96 290.5,147.30 291.5,144.68 292.5,142.12 293.5,139.62 294.5,137.19 295.5,134.85 296.5,132.59 297.5,130.43 298.5,128.37 299.5,126.43 300.5,124.60 301.5,122.90 302.5,121.34 303.5,119.91 304.5,118.62 305.5,117.49 306.5,116.51 307.5,115.68 308.5,115.02 309.5,114.52 310.5,114.19 311.5,114.02 312.5,114.02 313.5,114.19 314.5,114.52 315.5,115.02 316.5,115.68 317.5,116.51 318.5,117.49 319.5,118.62 320.5,119.91 321.5,121.34 322.5,122.90 323.5,124.60 324.5,126.43 325.5,128.37 326.5,130.43 327.5,132.59 328.5,134.85 329.5,137.19 330.5,139.62 331.5,142.12 332.5,144.68 333.5,147.30 334.5,149.96 335.5,152.66 336.5,155.40 337.5,158.15 338.5,160.92 339.5,163.69 340.5,166.47 341.5,169.23 342.5,171.98 343.5,174.71 344.5,177.40 345.5,180.07 346.5,182.69 347.5,185.27 348.5,187.80 349.5,190.28 350.5,192.69 351.5,195.05 352.5,197.34 353.5,199.57 354.5,201.73 355.5,203.81 356.5,205.82 357.5,207.76 358.5,209.63 359.5,211.42 360.5,213.14 361.5,214.78 362.5,216.35 363.5,217.84 364.5,219.26 365.5,220.61 366.5,221.89 367.5,223.11 368.5,224.25 369.5,225.33 370.5,226.35 371.5,227.31 372.5,228.21 373.5,229.05 374.5,229.84 375.5,230.58 376.5,231.27 377.5,231.91 378.5,232.51 379.5,233.06 380.5,233.57 381.5,234.05 382.5,234.49 383.5,234.89 384.5,235.27 385.5,235.61 386.5,235.93 387.5,236.21 388.5,236.48 389.5,236.72 390.5,236.94 391.5,237.14 392.5,237.33 393.5,237.50 394.5,237.65 395.5,237.78 396.5,237.91 397.5,238.02 398.5,238.12 399.5,238.21 400.5,238.29 401.5,238.37 402.5,238.43 403.5,238.49 404.5,238.55 405.5,238.59 406.5,238.64 407.5,238.67 408.5,238.71 409.5,238.74 410.5,238.76 411.5,238.79 412.5,238.81 413.5,238.82 414.5,238.84 415.5,238.85 416.5,238.87 417.5,238.88 418.5,238.89 419.5,238.90 420.5,238.90 421.5,238.91 422.5,238.92 423.5,238.92 424.5,238.92 432.5,238.94 440.5,238.95 448.5,238.95 456.5,238.95 464.5,238.95 472.5,238.95 480.5,238.95 488.5,238.95 496.5,238.95 504.5,238.95 512.5,238.95 520.5,238.95 528.5,238.95 536.5,238.95 544.5,238.95 552.5,238.95 560.5,238.95 568.5,238.95 576.5,238.95 584.5,238.95 592.5,238.95 600.5,238.95 608.5,238.95 616.5,238.95 624.5,238.95 632.5,238.95 640.5,238.95"/>
<polyline class="c" stroke="plum" points="52.5,238.95 60.5,238.95 68.5,238.95 76.5,238.95 84.5,238.95 92.5,238.95 100.5,238.95 108.5,238.95 116.5,238.95 124.5,238.95 132.5,238.95 140.5,238.95 148.5,238.95 156.5,238.95 164.5,238.95 172.5,238.95 180.5,238.95 188.5,238.95 196.5,238.95 204.5,238.95 212.5,238.95 220.5,238.95 228.5,238.93 236.5,238.85 237.5,238.84 238.5,238.82 239.5,238.79 240.5,238.76 241.5,238.73 242.5,238.69 243.5,238.65 244.5,238.60 245.5,238.54 246.5,238.47 247.5,238.39 248.5,238.30 249.5,238.20 250.5,238.08 251.5,237.95 252.5,237.80 253.5,237.63 254.5,237.43 255.5,237.21 256.5,236.97 257.5,236.69 258.5,236.38 259.5,236.04 260.5,235.65 261.5,235.22 262.5,234.74 263.5,234.21 264.5,233.62 265.5,232.98 266.5,232.26 267.5,231.48 268.5,230.63 269.5,229.69 270.5,228.67 271.5,227.56 272.5,226.35 273.5,225.04 274.5,223.63 275.5,222.11 276.5,220.47 277.5,218.72 278.5,216.84 279.5,214.84 280.5,212.71 281.5,210.44 282.5,208.05 283.5,205.52 284.5,202.85 285.5,200.05 286.5,197.11 287.5,194.04 288.5,190.85 289.5,187.52 290.5,184.08 291.5,180.53 292.5,176.86 293.5,173.10 294.5,169.26 295.5,165.33 296.5,161.33 297.5,157.29 298.5,153.20 299.5,149.09 300.5,144.97 301.5,140.85 302.5,136.76 303.5,132.71 304.5,128.72 305.5,124.80 306.5,120.99 307.5,117.29 308.5,113.72 309.5,110.30 310.5,107.06 311.5,104.00 312.5,101.14 313.5,98.51 314.5,96.11 315.5,93.96 316.5,92.07 317.5,90.45 318.5,89.11 319.5,88.06 320.5,87.31 321.5,86.85 322.5,86.70 323.5,86.85 324.5,87.31 325.5,88.06 326.5,89.11 327.5,90.45 328.5,92.07 329.5,93.96 330.5,96.11 331.5,98.51 332.5,101.14 333.5,104.00 334.5,107.06 335.5,110.30 336.5,113.72 337.5,117.29 338.5,120.99 339.5,124.80 340.5,128.72 341.5,132.71 342.5,136.76 343.5,140.85 344.5,144.97 345.5,149.09 346.5,153.20 347.5,157.29 348.5,161.33 349.5,165.33 350.5,169.26 351.5,173.10 352.5,176.86 353.5,180.53 354.5,184.08 355.5,187.52 356.5,190.85 357.5,194.04 358.5,197.11 359.5,200.05 360.5,202.85 361.5,205.52 362.5,208.05 363.5,210.44 364.5,212.71 365.5,214.84 366.5,216.84 367.5,218.72 368.5,220.47 369.5,222.11 370.5,223.63 371.5,225.04 372.5,226.35 373.5,227.56 374.5,228.67 375.5,229.69 376.5,230.63 377.5,231.48 378.5,232.26 379.5,232.98 380.5,233.62 381.5,234.21 382.5,234.74 383.5,235.22 384.5,235.65 385.5,236.04 386.5,236.38 387.5,236.69 388.5,236.97 389.5,237.21 390.5,237.43 391.5,237.63 392.5,237.80 393.5,237.95 394.5,238.08 395.5,238.20 396.5,238.30 397.5,238.39 398.5,238.47 399.5,238.54 400.5,238.60 401.5,238.65 402.5,238.69 403.5,238.73 404.5,238.76 405.5,238.79 406.5,238.82 407.5,238.84 408.5,238.85 409.5,238.87 410.5,238.88 411.5,238.89 412.5,238.90 413.5,238.91 414.5,238.92 415.5,238.92 423.5,238.94 431.5,238.95 439.5,238.95 447.5,238.95 455.5,238.95 463.5,238.95 471.5,238.95 479.5,238.95 487.5,238.95 495.5,238.95 503.5,238.95 511.5,238.95 519.5,238.95 527.5,238.95 535.5,238.95 543.5,238.95 551.5,238.95 559.5,238.95 567.5,238.95 575.5,238.95 583.5,238.95 591.5,238.95 599.5,238.95 607.5,238.95 615.5,238.95 623.5,238.95 631.5,238.95 639.5,238.95"/>
<polyline class="c" stroke="maroon" points="52.5,238.95 60.5,238.95 68.5,238.95 76.5,238.95 84.5,238.95 92.5,238.95 100.5,238.95 108.5,238.95 116.5,238.95 124.5,238.95 132.5,238.95 140.5,238.95 148.5,238.95 156.5,238.95 164.5,238.95 172.5,238.95 180.5,238.95 188.5,238.94 196.5,238.90 197.5,238.89 198.5,238.88 199.5,238.87 200.5,238.85 201.5,238.83 202.5,238.81 203.5,238.78 204.5,238.75 205.5,238.71 206.5,238.66 207.5,238.61 208.5,238.55 209.5,238.48 210.5,238.40 211.5,238.31 212.5,238.20 213.5,238.08 214.5,237.94 215.5,237.77 216.5,237.59 217.5,237.38 218.5,237.14 219.5,236.87 220.5,236.56 221.5,236.21 222.5,235.82 223.5,235.39 224.5,234.90 225.5,234.35 226.5,233.74 227.5,233.07 228.5,232.32 229.5,231.49 230.5,230.58 231.5,229.58 232.5,228.48 233.5,227.28 234.5,225.97 235.5,224.54 236.5,222.99 237.5,221.32 238.5,219.51 239.5,217.56 240.5,215.47 241.5,213.23 242.5,210.85 243.5,208.30 244.5,205.60 245.5,202.75 246.5,199.73 247.5,196.56 248.5,193.24 249.5,189.76 250.5,186.13 251.5,182.36 252.5,178.46 253.5,174.43 254.5,170.28 255.5,166.03 256.5,161.69 257.5,157.26 258.5,152.78 259.5,148.25 260.5,143.69 261.5,139.12 262.5,134.56 263.5,130.04 264.5,125.57 265.5,121.18 266.5,116.89 267.5,112.73 268.5,108.70 269.5,104.85 270.5,101.19 271.5,97.74 272.5,94.52 273.5,91.55 274.5,88.86 275.5,86.45 276.5,84.35 277.5,82.56 278.5,81.10 279.5,79.99 280.5,79.21 281.5,78.79 282.5,78.72 283.5,79.00 284.5,79.63 285.5,80.62 286.5,81.94 287.5,83.60 288.5,85.57 289.5,87.86 290.5,90.44 291.5,93.30 292.5,96.42 293.5,99.78 294.5,103.36 295.5,107.14 296.5,111.10 297.5,115.21 298.5,119.45 299.5,123.81 300.5,128.25 301.5,132.75 302.5,137.30 303.5,141.86 304.5,146.43 305.5,150.97 306.5,155.48 307.5,159.93 308.5,164.30 309.5,168.59 310.5,172.78 311.5,176.86 312.5,180.82 313.5,184.64 314.5,188.33 315.5,191.86 316.5,195.25 317.5,198.49 318.5,201.56 319.5,204.48 320.5,207.24 321.5,209.85 322.5,212.30 323.5,214.59 324.5,216.74 325.5,218.75 326.5,220.61 327.5,222.34 328.5,223.94 329.5,225.41 330.5,226.77 331.5,228.01 332.5,229.15 333.5,230.19 334.5,231.14 335.5,232.00 336.5,232.78 337.5,233.48 338.5,234.12 339.5,234.69 340.5,235.20 341.5,235.65 342.5,236.06 343.5,236.42 344.5,236.75 345.5,237.03 346.5,237.28 347.5,237.51 348.5,237.70 349.5,237.87 350.5,238.02 351.5,238.15 352.5,238.27 353.5,238.37 354.5,238.45 355.5,238.53 356.5,238.59 357.5,238.64 358.5,238.69 359.5,238.73 360.5,238.77 361.5,238.80 362.5,238.82 363.5,238.84 364.5,238.86 365.5,238.87 366.5,238.89 367.5,238.90 368.5,238.91 369.5,238.91 370.5,238.92 378.5,238.94 386.5,238.95 394.5,238.95 402.5,238.95 410.5,238.95 418.5,238.95 426.5,238.95 434.5,238.95 442.5,238.95 450.5,238.95 458.5,238.95 466.5,238.95 474.5,238.95 482.5,238.95 490.5,238.95 498.5,238.95 506.5,238.95 514.5,238.95 522.5,238.95 530.5,238.95 538.5,238.95 546.5,238.95 554.5,238.95 562.5,238.95 570.5,238.95 578.5,238.95 586.5,238.95 594.5,238.95 602.5,238.95 610.5,238.95 618.5,238.95 626.5,238.95 634.5,238.95"/>
<polyline class="c" stroke="fuchsia" points="52.5,238.95 60.5,238.95 68.5,238.95 76.5,238.95 84.5,238.95 92.5,238.95 100.5,238.95 108.5,238.95 116.5,238.95 124.5,238.95 132.5,238.95 140.5,238.95 148.5,238.95 156.5,238.95 164.5,238.95 172.5,238.95 180.5,238.95 188.5,238.94 196.5,238.92 204.5,238.88 205.5,238.87 206.5,238.86 207.5,238.85 208.5,238.83 209.5,238.82 210.5,238.80 211.5,238.78 212.5,238.76 213.5,238.74 214.5,238.71 215.5,238.68 216.5,238.65 217.5,238.62 218.5,238.58 219.5,238.53 220.5,238.49 221.5,238.43 222.5,238.37 223.5,238.31 224.5,238.24 225.5,238.16 226.5,238.08 227.5,237.98 228.5,237.88 229.5,237.77 230.5,237.65 231.5,237.51 232.5,237.37 233.5,237.21 234.5,237.04 235.5,236.85 236.5,236.65 237.5,236.43 238.5,236.19 239.5,235.94 240.5,235.66 241.5,235.37 242.5,235.05 243.5,234.70 244.5,234.33 245.5,233.94 246.5,233.51 247.5,233.06 248.5,232.57 249.5,232.06 250.5,231.51 251.5,230.92 252.5,230.30 253.5,229.64 254.5,228.93 255.5,228.19 256.5,227.41 257.5,226.58 258.5,225.70 259.5,224.78 260.5,223.81 261.5,222.79 262.5,221.73 263.5,220.61 264.5,219.44 265.5,218.22 266.5,216.94 267.5,215.61 268.5,214.23 269.5,212.80 270.5,211.31 271.5,209.76 272.5,208.17 273.5,206.52 274.5,204.82 275.5,203.07 276.5,201.27 277.5,199.42 278.5,197.53 279.5,195.59 280.5,193.61 281.5,191.59 282.5,189.54 283.5,187.45 284.5,185.33 285.5,183.18 286.5,181.01 287.5,178.82 288.5,176.62 289.5,174.40 290.5,172.18 291.5,169.95 292.5,167.73 293.5,165.51 294.5,163.31 295.5,161.12 296.5,158.95 297.5,156.82 298.5,154.72 299.5,152.65 300.5,150.63 301.5,148.67 302.5,146.75 303.5,144.90 304.5,143.11 305.5,141.40 306.5,139.76 307.5,138.20 308.5,136.72 309.5,135.34 310.5,134.05 311.5,132.86 312.5,131.77 313.5,130.79 314.5,129.91 315.5,129.15 316.5,128.49 317.5,127.96 318.5,127.54 319.5,127.24 320.5,127.06 321.5,127.00 322.5,127.06 323.5,127.24 324.5,127.54 325.5,127.96 326.5,128.49 327.5,129.15 328.5,129.91 329.5,130.79 330.5,131.77 331.5,132.86 332.5,134.05 333.5,135.34 334.5,136.72 335.5,138.20 336.5,139.76 337.5,141.40 338.5,143.11 339.5,144.90 340.5,146.75 341.5,148.67 342.5,150.63 343.5,152.65 344.5,154.72 345.5,156.82 346.5,158.95 347.5,161.12 348.5,163.31 349.5,165.51 350.5,167.73 351.5,169.95 352.5,172.18 353.5,174.40 354.5,176.62 355.5,178.82 356.5,181.01 357.5,183.18 358.5,185.33 359.5,187.45 360.5,189.54 361.5,191.59 362.5,193.61 363.5,195.59 364.5,197.53 365.5,199.42 366.5,201.27 367.5,203.07 368.5,204.82 369.5,206.52 370.5,208.17 371.5,209.76 372.5,211.31 373.5,212.80 374.5,214.23 375.5,215.61 376.5,216.94 377.5,218.22 378.5,219.44 379.5,220.61 380.5,221.73 381.5,222.79 382.5,223.81 383.5,224.78 384.5,225.70 385.5,226.58 386.5,227.41 387.5,228.19 388.5,228.93 389.5,229.64 390.5,230.30 391.5,230.92 392.5,231.51 393.5,232.06 394.5,232.57 395.5,233.06 396.5,233.51 397.5,233.94 398.5,234.33 399.5,234.70 400.5,235.05 401.5,235.37 402.5,235.66 403.5,235.94 404.5,236.19 405.5,236.43 406.5,236.65 407.5,236.85 408.5,237.04 409.5,237.21 410.5,237.37 411.5,237.51 412.5,237.65 413.5,237.77 414.5,237.88 415.5,237.98 416.5,238.08 417.5,238.16 418.5,238.24 419.5,238.31 420.5,238.37 421.5,238.43 422.5,238.49 423.5,238.53 424.5,238.58 425.5,238.62 426.5,238.65 427.5,238.68 428.5,238.71 429.5,238.74 430.5,238.76 431.5,238.78 432.5,238.80 433.5,238.82 434.5,238.83 435.5,238.85 436.5,238.86 437.5,238.87 438.5,238.88 439.5,238.89 440.5,238.89 441.5,238.90 442.5,238.91 443.5,238.91 444.5,238.92 445.5,238.92 446.5,238.92 454.5,238.94 462.5,238.95 470.5,238.95 478.5,238.95 486.5,238.95 494.5,238.95 502.5,238.95 510.5,238.95 518.5,238.95 526.5,238.95 534.5,238.95 542.5,238.95 550.5,238.95 558.5,238.95 566.5,238.95 574.5,238.95 582.5,238.95 590.5,238.95 598.5,238.95 606.5,238.95 614.5,238.95 622.5,238.95 630.5,238.95 638.5,238.95"/>
<polyline class="c" stroke="indianred" points="52.5,238.95 60.5,238.95 68.5,238.95 76.5,238.95 84.5,238.95 92.5,238.95 100.5,238.95 108.5,238.95 116.5,238.95 124.5,238.95 132.5,238.95 140.5,238.95 148.5,238.95 156.5,238.95 164.5,238.95 172.5,238.95 180.5,238.95 188.5,238.95 196.5,238.95 204.5,238.93 212.5,238.90 213.5,238.89 214.5,238.88 215.5,238.87 216.5,238.86 217.5,238.85 218.5,238.84 219.5,238.82 220.5,238.81 221.5,238.79 222.5,238.76 223.5,238.74 224.5,238.71 225.5,238.68 226.5,238.65 227.5,238.61 228.5,238.57 229.5,238.52 230.5,238.47 231.5,238.41 232.5,238.35 233.5,238.28 234.5,238.20 235.5,238.11 236.5,238.02 237.5,237.92 238.5,237.80 239.5,237.67 240.5,237.54 241.5,237.39 242.5,237.22 243.5,237.04 244.5,236.84 245.5,236.63 246.5,236.39 247.5,236.14 248.5,235.86 249.5,235.57 250.5,235.24 251.5,234.90 252.5,234.52 253.5,234.11 254.5,233.68 255.5,233.21 256.5,232.71 257.5,232.17 258.5,231.59 259.5,230.97 260.5,230.32 261.5,229.62 262.5,228.87 263.5,228.08 264.5,227.24 265.5,226.35 266.5,225.41 267.5,224.41 268.5,223.36 269.5,222.25 270.5,221.09 271.5,219.87 272.5,218.58 273.5,217.24 274.5,215.84 275.5,214.37 276.5,212.85 277.5,211.26 278.5,209.61 279.5,207.90 280.5,206.12 281.5,204.29 282.5,202.40 283.5,200.45 284.5,198.44 285.5,196.38 286.5,194.27 287.5,192.10 288.5,189.89 289.5,187.64 290.5,185.35 291.5,183.02 292.5,180.66 293.5,178.28 294.5,175.87 295.5,173.44 296.5,171.00 297.5,168.55 298.5,166.10 299.5,163.65 300.5,161.21 301.5,158.79 302.5,156.39 303.5,154.02 304.5,151.69 305.5,149.39 306.5,147.15 307.5,144.96 308.5,142.83 309.5,140.77 310.5,138.79 311.5,136.89 312.5,135.07 313.5,133.35 314.5,131.72 315.5,130.20 316.5,128.79 317.5,127.49 318.5,126.31 319.5,125.25 320.5,124.31 321.5,123.51 322.5,122.84 323.5,122.30 324.5,121.90 325.5,121.64 326.5,121.51 327.5,121.53 328.5,121.68 329.5,121.97 330.5,122.40 331.5,122.96 332.5,123.66 333.5,124.49 334.5,125.45 335.5,126.53 336.5,127.74 337.5,129.06 338.5,130.49 339.5,132.04 340.5,133.68 341.5,135.43 342.5,137.26 343.5,139.18 344.5,141.18 345.5,143.25 346.5,145.39 347.5,147.59 348.5,149.85 349.5,152.15 350.5,154.49 351.5,156.87 352.5,159.27 353.5,161.70 354.5,164.14 355.5,166.59 356.5,169.04 357.5,171.49 358.5,173.92 359.5,176.35 360.5,178.76 361.5,181.14 362.5,183.49 363.5,185.81 364.5,188.10 365.5,190.34 366.5,192.54 367.5,194.69 368.5,196.79 369.5,198.84 370.5,200.84 371.5,202.78 372.5,204.66 373.5,206.48 374.5,208.24 375.5,209.94 376.5,211.58 377.5,213.16 378.5,214.67 379.5,216.13 380.5,217.52 381.5,218.85 382.5,220.12 383.5,221.33 384.5,222.48 385.5,223.57 386.5,224.61 387.5,225.60 388.5,226.53 389.5,227.41 390.5,228.24 391.5,229.02 392.5,229.76 393.5,230.45 394.5,231.10 395.5,231.71 396.5,232.28 397.5,232.81 398.5,233.31 399.5,233.77 400.5,234.20 401.5,234.60 402.5,234.97 403.5,235.31 404.5,235.63 405.5,235.92 406.5,236.19 407.5,236.44 408.5,236.67 409.5,236.88 410.5,237.08 411.5,237.25 412.5,237.42 413.5,237.57 414.5,237.70 415.5,237.82 416.5,237.94 417.5,238.04 418.5,238.13 419.5,238.22 420.5,238.29 421.5,238.36 422.5,238.43 423.5,238.48 424.5,238.53 425.5,238.58 426.5,238.62 427.5,238.66 428.5,238.69 429.5,238.72 430.5,238.75 431.5,238.77 432.5,238.79 433.5,238.81 434.5,238.83 435.5,238.84 436.5,238.85 437.5,238.87 438.5,238.88 439.5,238.89 440.5,238.89 441.5,238.90 442.5,238.91 443.5,238.91 444.5,238.92 445.5,238.92 446.5,238.93 454.5,238.94 462.5,238.95 470.5,238.95 478.5,238.95 486.5,238.95 494.5,238.95 502.5,238.95 510.5,238.95 518.5,238.95 526.5,238.95 534.5,238.95 542.5,238.95 550.5,238.95 558.5,238.95 566.5,238.95 574.5,238.95 582.5,238.95 590.5,238.95 598.5,238.95 606.5,238.95 614.5,238.95 622.5,238.95 630.5,238.95 638.5,238.95"/>
<polyline class="c" stroke="greenyellow" points="52.5,238.95 60.5,238.95 68.5,238.95 76.5,238.95 84.5,238.95 92.5,238.95 100.5,238.95 108.5,238.95 116.5,238.95 124.5,238.95 132.5,238.95 140.5,238.94 148.5,238.93 156.5,238.92 157.5,238.91 158.5,238.91 159.5,238.91 160.5,238.90 161.5,238.90 162.5,238.89 163.5,238.89 164.5,238.88 165.5,238.88 166.5,238.87 167.5,238.87 168.5,238.86 169.5,238.85 170.5,238.84 171.5,238.83 172.5,238.82 173.5,238.81 174.5,238.80 175.5,238.79 176.5,238.78 177.5,238.76 178.5,238.75 179.5,238.73 180.5,238.72 181.5,238.70 182.5,238.68 183.5,238.66 184.5,238.64 185.5,238.61 186.5,238.59 187.5,238.56 188.5,238.53 189.5,238.50 190.5,238.47 191.5,238.43 192.5,238.40 193.5,238.36 194.5,238.32 195.5,238.27 196.5,238.22 197.5,238.17 198.5,238.12 199.5,238.06 200.5,238.00 201.5,237.94 202.5,237.87 203.5,237.80 204.5,237.73 205.5,237.65 206.5,237.56 207.5,237.47 208.5,237.38 209.5,237.28 210.5,237.18 211.5,237.07 212.5,236.95 213.5,236.83 214.5,236.70 215.5,236.57 216.5,236.42 217.5,236.28 218.5,236.12 219.5,235.96 220.5,235.79 221.5,235.61 222.5,235.42 223.5,235.22 224.5,235.01 225.5,234.80 226.5,234.57 227.5,234.34 228.5,234.09 229.5,233.84 230.5,233.57 231.5,233.29 232.5,233.00 233.5,232.70 234.5,232.39 235.5,232.06 236.5,231.73 237.5,231.37 238.5,231.01 239.5,230.63 240.5,230.24 241.5,229.83 242.5,229.42 243.5,228.98 244.5,228.53 245.5,228.07 246.5,227.59 247.5,227.09 248.5,226.58 249.5,226.06 250.5,225.52 251.5,224.96 252.5,224.38 253.5,223.80 254.5,223.19 255.5,222.57 256.5,221.93 257.5,221.27 258.5,220.60 259.5,219.91 260.5,219.21 261.5,218.49 262.5,217.76 263.5,217.00 264.5,216.24 265.5,215.45 266.5,214.66 267.5,213.84 268.5,213.02 269.5,212.17 270.5,211.32 271.5,210.45 272.5,209.57 273.5,208.67 274.5,207.77 275.5,206.85 276.5,205.92 277.5,204.98 278.5,204.03 279.5,203.07 280.5,202.11 281.5,201.13 282.5,200.15 283.5,199.16 284.5,198.17 285.5,197.17 286.5,196.17 287.5,195.17 288.5,194.16 289.5,193.15 290.5,192.15 291.5,191.14 292.5,190.14 293.5,189.14 294.5,188.14 295.5,187.15 296.5,186.17 297.5,185.19 298.5,184.22 299.5,183.26 300.5,182.31 301.5,181.38 302.5,180.45 303.5,179.54 304.5,178.65 305.5,177.77 306.5,176.91 307.5,176.07 308.5,175.24 309.5,174.44 310.5,173.66 311.5,172.90 312.5,172.17 313.5,171.45 314.5,170.77 315.5,170.11 316.5,169.48 317.5,168.88 318.5,168.30 319.5,167.76 320.5,167.25 321.5,166.77 322.5,166.32 323.5,165.90 324.5,165.51 325.5,165.16 326.5,164.85 327.5,164.57 328.5,164.32 329.5,164.11 330.5,163.94 331.5,163.80 332.5,163.70 333.5,163.63 334.5,163.60 335.5,163.61 336.5,163.65 337.5,163.73 338.5,163.85 339.5,164.00 340.5,164.19 341.5,164.42 342.5,164.68 343.5,164.97 344.5,165.30 345.5,165.66 346.5,166.06 347.5,166.49 348.5,166.95 349.5,167.45 350.5,167.97 351.5,168.53 352.5,169.12 353.5,169.73 354.5,170.37 355.5,171.04 356.5,171.74 357.5,172.46 358.5,173.20 359.5,173.97 360.5,174.76 361.5,175.57 362.5,176.40 363.5,177.25 364.5,178.12 365.5,179.00 366.5,179.90 367.5,180.82 368.5,181.75 369.5,182.69 370.5,183.64 371.5,184.61 372.5,185.58 373.5,186.56 374.5,187.55 375.5,188.54 376.5,189.54 377.5,190.54 378.5,191.54 379.5,192.55 380.5,193.56 381.5,194.56 382.5,195.57 383.5,196.57 384.5,197.57 385.5,198.57 386.5,199.56 387.5,200.54 388.5,201.52 389.5,202.49 390.5,203.46 391.5,204.41 392.5,205.36 393.5,206.29 394.5,207.22 395.5,208.13 396.5,209.03 397.5,209.92 398.5,210.80 399.5,211.66 400.5,212.51 401.5,213.35 402.5,214.17 403.5,214.98 404.5,215.77 405.5,216.55 406.5,217.31 407.5,218.05 408.5,218.78 409.5,219.49 410.5,220.19 411.5,220.87 412.5,221.54 413.5,222.19 414.5,222.82 415.5,223.43 416.5,224.03 417.5,224.62 418.5,225.18 419.5,225.73 420.5,226.27 421.5,226.79 422.5,227.29 423.5,227.78 424.5,228.25 425.5,228.71 426.5,229.16 427.5,229.58 428.5,230.00 429.5,230.40 430.5,230.78 431.5,231.16 432.5,231.52 433.5,231.86 434.5,232.20 435.5,232.52 436.5,232.82 437.5,233.12 438.5,233.41 439.5,233.68 440.5,233.94 441.5,234.19 442.5,234.43 443.5,234.67 444.5,234.89 445.5,235.10 446.5,235.30 447.5,235.49 448.5,235.68 449.5,235.85 450.5,236.02 451.5,236.18 452.5,236.34 453.5,236.48 454.5,236.62 455.5,236.75 456.5,236.88 457.5,237.00 458.5,237.11 459.5,237.22 460.5,237.32 461.5,237.42 462.5,237.51 463.5,237.60 464.5,237.68 465.5,237.76 466.5,237.83 467.5,237.90 468.5,237.97 469.5,238.03 470.5,238.09 471.5,238.14 472.5,238.19 473.5,238.24 474.5,238.29 475.5,238.33 476.5,238.37 477.5,238.41 478.5,238.45 479.5,238.48 480.5,238.51 481.5,238.54 482.5,238.57 483.5,238.60 484.5,238.62 485.5,238.65 486.5,238.67 487.5,238.69 488.5,238.71 489.5,238.72 490.5,238.74 491.5,238.76 492.5,238.77 493.5,238.78 494.5,238.80 495.5,238.81 496.5,238.82 497.5,238.83 498.5,238.84 499.5,238.85 500.5,238.85 501.5,238.86 502.5,238.87 503.5,238.87 504.5,238.88 505.5,238.89 506.5,238.89 507.5,238.90 508.5,238.90 509.5,238.90 510.5,238.91 511.5,238.91 512.5,238.91 513.5,238.92 514.5,238.92 515.5,238.92 516.5,238.92 517.5,238.93 518.5,238.93 519.5,238.93 527.5,238.94 535.5,238.95 543.5,238.95 551.5,238.95 559.5,238.95 567.5,238.95 575.5,238.95 583.5,238.95 591.5,238.95 599.5,238.95 607.5,238.95 615.5,238.95 623.5,238.95 631.5,238.95 639.5,238.95"/>
<polyline class="c" stroke="chartreuse" points="52.5,238.95 60.5,238.95 68.5,238.95 76.5,238.95 84.5,238.95 92.5,238.95 100.5,238.95 108.5,238.95 116.5,238.95 124.5,238.95 132.5,238.95 140.5,238.95 148.5,238.94 156.5,238.93 164.5,238.91 165.5,238.91 166.5,238.90 167.5,238.90 168.5,238.89 169.5,238.89 170.5,238.88 171.5,238.88 172.5,238.87 173.5,238.86 174.5,238.86 175.5,238.85 176.5,238.84 177.5,238.83 178.5,238.82 179.5,238.80 180.5,238.79 181.5,238.78 182.5,238.76 183.5,238.75 184.5,238.73 185.5,238.71 186.5,238.69 187.5,238.67 188.5,238.64 189.5,238.62 190.5,238.59 191.5,238.56 192.5,238.53 193.5,238.50 194.5,238.46 195.5,238.42 196.5,238.38 197.5,238.34 198.5,238.29 199.5,238.24 200.5,238.18 201.5,238.13 202.5,238.07 203.5,238.00 204.5,237.93 205.5,237.86 206.5,237.78 207.5,237.69 208.5,237.60 209.5,237.51 210.5,237.41 211.5,237.30 212.5,237.19 213.5,237.07 214.5,236.94 215.5,236.81 216.5,236.67 217.5,236.52 218.5,236.36 219.5,236.19 220.5,236.01 221.5,235.83 222.5,235.63 223.5,235.43 224.5,235.21 225.5,234.99 226.5,234.75 227.5,234.50 228.5,234.24 229.5,233.96 230.5,233.67 231.5,233.37 232.5,233.06 233.5,232.73 234.5,232.38 235.5,232.02 236.5,231.65 237.5,231.26 238.5,230.85 239.5,230.43 240.5,229.99 241.5,229.53 242.5,229.05 243.5,228.56 244.5,228.05 245.5,227.51 246.5,226.96 247.5,226.39 248.5,225.81 249.5,225.20 250.5,224.57 251.5,223.92 252.5,223.25 253.5,222.56 254.5,221.85 255.5,221.12 256.5,220.36 257.5,219.59 258.5,218.80 259.5,217.98 260.5,217.15 261.5,216.30 262.5,215.42 263.5,214.53 264.5,213.61 265.5,212.68 266.5,211.72 267.5,210.75 268.5,209.76 269.5,208.76 270.5,207.73 271.5,206.69 272.5,205.64 273.5,204.57 274.5,203.48 275.5,202.39 276.5,201.27 277.5,200.15 278.5,199.02 279.5,197.88 280.5,196.72 281.5,195.56 282.5,194.40 283.5,193.23 284.5,192.05 285.5,190.88 286.5,189.70 287.5,188.52 288.5,187.34 289.5,186.16 290.5,184.99 291.5,183.82 292.5,182.66 293.5,181.51 294.5,180.37 295.5,179.24 296.5,178.12 297.5,177.02 298.5,175.93 299.5,174.86 300.5,173.81 301.5,172.78 302.5,171.77 303.5,170.78 304.5,169.82 305.5,168.89 306.5,167.98 307.5,167.10 308.5,166.25 309.5,165.44 310.5,164.66 311.5,163.91 312.5,163.20 313.5,162.52 314.5,161.88 315.5,161.29 316.5,160.73 317.5,160.21 318.5,159.73 319.5,159.30 320.5,158.91 321.5,158.56 322.5,158.26 323.5,158.00 324.5,157.79 325.5,157.62 326.5,157.50 327.5,157.43 328.5,157.40 329.5,157.42 330.5,157.48 331.5,157.59 332.5,157.75 333.5,157.96 334.5,158.20 335.5,158.50 336.5,158.84 337.5,159.22 338.5,159.64 339.5,160.11 340.5,160.62 341.5,161.17 342.5,161.76 343.5,162.39 344.5,163.06 345.5,163.76 346.5,164.50 347.5,165.28 348.5,166.09 349.5,166.93 350.5,167.80 351.5,168.70 352.5,169.63 353.5,170.59 354.5,171.57 355.5,172.57 356.5,173.60 357.5,174.65 358.5,175.71 359.5,176.80 360.5,177.90 361.5,179.01 362.5,180.14 363.5,181.28 364.5,182.43 365.5,183.59 366.5,184.76 367.5,185.93 368.5,187.10 369.5,188.28 370.5,189.46 371.5,190.64 372.5,191.82 373.5,192.99 374.5,194.17 375.5,195.33 376.5,196.49 377.5,197.65 378.5,198.79 379.5,199.93 380.5,201.05 381.5,202.16 382.5,203.26 383.5,204.35 384.5,205.43 385.5,206.48 386.5,207.53 387.5,208.55 388.5,209.56 389.5,210.56 390.5,211.53 391.5,212.49 392.5,213.43 393.5,214.34 394.5,215.24 395.5,216.12 396.5,216.98 397.5,217.82 398.5,218.64 399.5,219.44 400.5,220.21 401.5,220.97 402.5,221.70 403.5,222.42 404.5,223.11 405.5,223.79 406.5,224.44 407.5,225.07 408.5,225.69 409.5,226.28 410.5,226.85 411.5,227.41 412.5,227.94 413.5,228.46 414.5,228.96 415.5,229.43 416.5,229.90 417.5,230.34 418.5,230.77 419.5,231.18 420.5,231.57 421.5,231.95 422.5,232.31 423.5,232.66 424.5,232.99 425.5,233.31 426.5,233.61 427.5,233.90 428.5,234.18 429.5,234.45 430.5,234.70 431.5,234.94 432.5,235.17 433.5,235.39 434.5,235.59 435.5,235.79 436.5,235.98 437.5,236.16 438.5,236.32 439.5,236.48 440.5,236.64 441.5,236.78 442.5,236.91 443.5,237.04 444.5,237.16 445.5,237.28 446.5,237.39 447.5,237.49 448.5,237.58 449.5,237.67 450.5,237.76 451.5,237.84 452.5,237.92 453.5,237.99 454.5,238.05 455.5,238.11 456.5,238.17 457.5,238.23 458.5,238.28 459.5,238.33 460.5,238.37 461.5,238.41 462.5,238.45 463.5,238.49 464.5,238.52 465.5,238.56 466.5,238.59 467.5,238.61 468.5,238.64 469.5,238.66 470.5,238.68 471.5,238.71 472.5,238.72 473.5,238.74 474.5,238.76 475.5,238.77 476.5,238.79 477.5,238.80 478.5,238.81 479.5,238.82 480.5,238.83 481.5,238.84 482.5,238.85 483.5,238.86 484.5,238.87 485.5,238.88 486.5,238.88 487.5,238.89 488.5,238.89 489.5,238.90 490.5,238.90 491.5,238.91 492.5,238.91 493.5,238.91 494.5,238.92 495.5,238.92 496.5,238.92 497.5,238.93 498.5,238.93 499.5,238.93 507.5,238.94 515.5,238.95 523.5,238.95 531.5,238.95 539.5,238.95 547.5,238.95 555.5,238.95 563.5,238.95 571.5,238.95 579.5,238.95 587.5,238.95 595.5,238.95 603.5,238.95 611.5,238.95 619.5,238.95 627.5,238.95 635.5,238.95"/>
<polyline class="c" stroke="turquoise" points="52.5,238.95 60.5,238.95 68.5,238.95 76.5,238.95 84.5,238.95 92.5,238.95 100.5,238.95 108.5,238.95 116.5,238.95 124.5,238.95 132.5,238.95 140.5,238.95 148.5,238.95 156.5,238.95 164.5,238.95 172.5,238.94 180.5,238.91 181.5,238.91 182.5,238.90 183.5,238.89 184.5,238.88 185.5,238.88 186.5,238.86 187.5,238.85 188.5,238.84 189.5,238.82 190.5,238.81 191.5,238.79 192.5,238.76 193.5,238.74 194.5,238.71 195.5,238.68 196.5,238.65 197.5,238.61 198.5,238.57 199.5,238.52 200.5,238.47 201.5,238.41 202.5,238.34 203.5,238.27 204.5,238.19 205.5,238.10 206.5,238.01 207.5,237.90 208.5,237.78 209.5,237.65 210.5,237.51 211.5,237.35 212.5,237.18 213.5,237.00 214.5,236.79 215.5,236.57 216.5,236.33 217.5,236.07 218.5,235.79 219.5,235.48 220.5,235.14 221.5,234.78 222.5,234.39 223.5,233.98 224.5,233.52 225.5,233.04 226.5,232.52 227.5,231.96 228.5,231.36 229.5,230.72 230.5,230.04 231.5,229.31 232.5,228.54 233.5,227.72 234.5,226.85 235.5,225.92 236.5,224.94 237.5,223.91 238.5,222.82 239.5,221.67 240.5,220.46 241.5,219.19 242.5,217.86 243.5,216.47 244.5,215.02 245.5,213.50 246.5,211.91 247.5,210.27 248.5,208.56 249.5,206.78 250.5,204.95 251.5,203.05 252.5,201.09 253.5,199.08 254.5,197.01 255.5,194.88 256.5,192.70 257.5,190.47 258.5,188.20 259.5,185.88 260.5,183.52 261.5,181.13 262.5,178.71 263.5,176.26 264.5,173.80 265.5,171.31 266.5,168.82 267.5,166.32 268.5,163.83 269.5,161.34 270.5,158.87 271.5,156.42 272.5,153.99 273.5,151.60 274.5,149.25 275.5,146.95 276.5,144.70 277.5,142.52 278.5,140.40 279.5,138.36 280.5,136.40 281.5,134.52 282.5,132.74 283.5,131.06 284.5,129.49 285.5,128.03 286.5,126.68 287.5,125.46 288.5,124.36 289.5,123.38 290.5,122.54 291.5,121.84 292.5,121.27 293.5,120.85 294.5,120.56 295.5,120.42 296.5,120.42 297.5,120.56 298.5,120.85 299.5,121.27 300.5,121.84 301.5,122.54 302.5,123.38 303.5,124.36 304.5,125.46 305.5,126.68 306.5,128.03 307.5,129.49 308.5,131.06 309.5,132.74 310.5,134.52 311.5,136.40 312.5,138.36 313.5,140.40 314.5,142.52 315.5,144.70 316.5,146.95 317.5,149.25 318.5,151.60 319.5,153.99 320.5,156.42 321.5,158.87 322.5,161.34 323.5,163.83 324.5,166.32 325.5,168.82 326.5,171.31 327.5,173.80 328.5,176.26 329.5,178.71 330.5,181.13 331.5,183.52 332.5,185.88 333.5,188.20 334.5,190.47 335.5,192.70 336.5,194.88 337.5,197.01 338.5,199.08 339.5,201.09 340.5,203.05 341.5,204.95 342.5,206.78 343.5,208.56 344.5,210.27 345.5,211.91 346.5,213.50 347.5,215.02 348.5,216.47 349.5,217.86 350.5,219.19 351.5,220.46 352.5,221.67 353.5,222.82 354.5,223.91 355.5,224.94 356.5,225.92 357.5,226.85 358.5,227.72 359.5,228.54 360.5,229.31 361.5,230.04 362.5,230.72 363.5,231.36 364.5,231.96 365.5,232.52 366.5,233.04 367.5,233.52 368.5,233.98 369.5,234.39 370.5,234.78 371.5,235.14 372.5,235.48 373.5,235.79 374.5,236.07 375.5,236.33 376.5,236.57 377.5,236.79 378.5,237.00 379.5,237.18 380.5,237.35 381.5,237.51 382.5,237.65 383.5,237.78 384.5,237.90 385.5,238.01 386.5,238.10 387.5,238.19 388.5,238.27 389.5,238.34 390.5,238.41 391.5,238.47 392.5,238.52 393.5,238.57 394.5,238.61 395.5,238.65 396.5,238.68 397.5,238.71 398.5,238.74 399.5,238.76 400.5,238.79 401.5,238.81 402.5,238.82 403.5,238.84 404.5,238.85 405.5,238.86 406.5,238.88 407.5,238.88 408.5,238.89 409.5,238.90 410.5,238.91 411.5,238.91 412.5,238.92 413.5,238.92 414.5,238.93 422.5,238.94 430.5,238.95 438.5,238.95 446.5,238.95 454.5,238.95 462.5,238.95 470.5,238.95 478.5,238.95 486.5,238.95 494.5,238.95 502.5,238.95 510.5,238.95 518.5,238.95 526.5,238.95 534.5,238.95 542.5,238.95 550.5,238.95 558.5,238.95 566.5,238.95 574.5,238.95 582.5,238.95 590.5,238.95 598.5,238.95 606.5,238.95 614.5,238.95 622.5,238.95 630.5,238.95 638.5,238.95"/>
<polyline class="c" stroke="salmon" points="52.5,238.95 60.5,238.95 68.5,238.95 76.5,238.95 84.5,238.95 92.5,238.95 100.5,238.95 108.5,238.95 116.5,238.95 124.5,238.95 132.5,238.95 140.5,238.95 148.5,238.95 156.5,238.95 164.5,238.95 172.5,238.95 180.5,238.95 188.5,238.94 196.5,238.93 204.5,238.89 205.5,238.88 206.5,238.87 207.5,238.86 208.5,238.84 209.5,238.83 210.5,238.81 211.5,238.80 212.5,238.78 213.5,238.75 214.5,238.73 215.5,238.70 216.5,238.67 217.5,238.63 218.5,238.60 219.5,238.55 220.5,238.51 221.5,238.45 222.5,238.40 223.5,238.33 224.5,238.26 225.5,238.18 226.5,238.10 227.5,238.00 228.5,237.90 229.5,237.79 230.5,237.66 231.5,237.53 232.5,237.38 233.5,237.22 234.5,237.04 235.5,236.85 236.5,236.64 237.5,236.41 238.5,236.17 239.5,235.90 240.5,235.61 241.5,235.30 242.5,234.97 243.5,234.60 244.5,234.22 245.5,233.80 246.5,233.35 247.5,232.87 248.5,232.36 249.5,231.81 250.5,231.22 251.5,230.60 252.5,229.93 253.5,229.23 254.5,228.48 255.5,227.68 256.5,226.84 257.5,225.95 258.5,225.01 259.5,224.02 260.5,222.98 261.5,221.89 262.5,220.74 263.5,219.53 264.5,218.27 265.5,216.95 266.5,215.58 267.5,214.14 268.5,212.65 269.5,211.10 270.5,209.49 271.5,207.83 272.5,206.10 273.5,204.32 274.5,202.49 275.5,200.60 276.5,198.66 277.5,196.67 278.5,194.64 279.5,192.55 280.5,190.43 281.5,188.26 282.5,186.06 283.5,183.83 284.5,181.56 285.5,179.27 286.5,176.96 287.5,174.63 288.5,172.29 289.5,169.95 290.5,167.60 291.5,165.26 292.5,162.92 293.5,160.60 294.5,158.30 295.5,156.03 296.5,153.79 297.5,151.59 298.5,149.43 299.5,147.33 300.5,145.28 301.5,143.29 302.5,141.38 303.5,139.53 304.5,137.77 305.5,136.09 306.5,134.50 307.5,133.01 308.5,131.62 309.5,130.34 310.5,129.16 311.5,128.10 312.5,127.15 313.5,126.32 314.5,125.62 315.5,125.04 316.5,124.59 317.5,124.26 318.5,124.07 319.5,124.00 320.5,124.07 321.5,124.26 322.5,124.59 323.5,125.04 324.5,125.62 325.5,126.32 326.5,127.15 327.5,128.10 328.5,129.16 329.5,130.34 330.5,131.62 331.5,133.01 332.5,134.50 333.5,136.09 334.5,137.77 335.5,139.53 336.5,141.38 337.5,143.29 338.5,145.28 339.5,147.33 340.5,149.43 341.5,151.59 342.5,153.79 343.5,156.03 344.5,158.30 345.5,160.60 346.5,162.92 347.5,165.26 348.5,167.60 349.5,169.95 350.5,172.29 351.5,174.63 352.5,176.96 353.5,179.27 354.5,181.56 355.5,183.83 356.5,186.06 357.5,188.26 358.5,190.43 359.5,192.55 360.5,194.64 361.5,196.67 362.5,198.66 363.5,200.60 364.5,202.49 365.5,204.32 366.5,206.10 367.5,207.83 368.5,209.49 369.5,211.10 370.5,212.65 371.5,214.14 372.5,215.58 373.5,216.95 374.5,218.27 375.5,219.53 376.5,220.74 377.5,221.89 378.5,222.98 379.5,224.02 380.5,225.01 381.5,225.95 382.5,226.84 383.5,227.68 384.5,228.48 385.5,229.23 386.5,229.93 387.5,230.60 388.5,231.22 389.5,231.81 390.5,232.36 391.5,232.87 392.5,233.35 393.5,233.80 394.5,234.22 395.5,234.60 396.5,234.97 397.5,235.30 398.5,235.61 399.5,235.90 400.5,236.17 401.5,236.41 402.5,236.64 403.5,236.85 404.5,237.04 405.5,237.22 406.5,237.38 407.5,237.53 408.5,237.66 409.5,237.79 410.5,237.90 411.5,238.00 412.5,238.10 413.5,238.18 414.5,238.26 415.5,238.33 416.5,238.40 417.5,238.45 418.5,238.51 419.5,238.55 420.5,238.60 421.5,238.63 422.5,238.67 423.5,238.70 424.5,238.73 425.5,238.75 426.5,238.78 427.5,238.80 428.5,238.81 429.5,238.83 430.5,238.84 431.5,238.86 432.5,238.87 433.5,238.88 434.5,238.89 435.5,238.89 436.5,238.90 437.5,238.91 438.5,238.91 439.5,238.92 440.5,238.92 441.5,238.93 449.5,238.94 457.5,238.95 465.5,238.95 473.5,238.95 481.5,238.95 489.5,238.95 497.5,238.95 505.5,238.95 513.5,238.95 521.5,238.95 529.5,238.95 537.5,238.95 545.5,238.95 553.5,238.95 561.5,238.95 569.5,238.95 577.5,238.95 585.5,238.95 593.5,238.95 601.5,238.95 609.5,238.95 617.5,238.95 625.5,238.95 633.5,238.95 641.5,238.95"/>
<polyline class="c" stroke="violet" points="52.5,238.95 60.5,238.95 68.5,238.95 76.5,238.95 84.5,238.95 92.5,238.95 100.5,238.95 108.5,238.95 116.5,238.95 124.5,238.95 132.5,238.95 140.5,238.95 148.5,238.95 156.5,238.94 164.5,238.92 165.5,238.92 166.5,238.92 167.5,238.91 168.5,238.91 169.5,238.91 170.5,238.90 171.5,238.90 172.5,238.89 173.5,238.89 174.5,238.88 175.5,238.87 176.5,238.86 177.5,238.86 178.5,238.85 179.5,238.84 180.5,238.82 181.5,238.81 182.5,238.80 183.5,238.78 184.5,238.77 185.5,238.75 186.5,238.73 187.5,238.71 188.5,238.69 189.5,238.67 190.5,238.64 191.5,238.61 192.5,238.58 193.5,238.55 194.5,238.51 195.5,238.47 196.5,238.43 197.5,238.39 198.5,238.34 199.5,238.29 200.5,238.23 201.5,238.17 202.5,238.11 203.5,238.04 204.5,237.97 205.5,237.89 206.5,237.80 207.5,237.71 208.5,237.62 209.5,237.51 210.5,237.40 211.5,237.28 212.5,237.16 213.5,237.03 214.5,236.88 215.5,236.73 216.5,236.57 217.5,236.40 218.5,236.22 219.5,236.03 220.5,235.82 221.5,235.61 222.5,235.38 223.5,235.14 224.5,234.89 225.5,234.62 226.5,234.34 227.5,234.04 228.5,233.72 229.5,233.39 230.5,233.05 231.5,232.68 232.5,232.30 233.5,231.90 234.5,231.48 235.5,231.04 236.5,230.58 237.5,230.10 238.5,229.60 239.5,229.07 240.5,228.53 241.5,227.96 242.5,227.36 243.5,226.75 244.5,226.11 245.5,225.44 246.5,224.75 247.5,224.03 248.5,223.29 249.5,222.53 250.5,221.73 251.5,220.91 252.5,220.07 253.5,219.20 254.5,218.30 255.5,217.37 256.5,216.42 257.5,215.44 258.5,214.44 259.5,213.41 260.5,212.36 261.5,211.28 262.5,210.17 263.5,209.05 264.5,207.89 265.5,206.72 266.5,205.52 267.5,204.31 268.5,203.07 269.5,201.81 270.5,200.54 271.5,199.24 272.5,197.94 273.5,196.61 274.5,195.28 275.5,193.93 276.5,192.57 277.5,191.20 278.5,189.82 279.5,188.44 280.5,187.06 281.5,185.67 282.5,184.28 283.5,182.89 284.5,181.51 285.5,180.13 286.5,178.76 287.5,177.40 288.5,176.05 289.5,174.71 290.5,173.39 291.5,172.08 292.5,170.80 293.5,169.54 294.5,168.30 295.5,167.09 296.5,165.90 297.5,164.75 298.5,163.63 299.5,162.54 300.5,161.49 301.5,160.47 302.5,159.50 303.5,158.57 304.5,157.68 305.5,156.84 306.5,156.04 307.5,155.30 308.5,154.60 309.5,153.95 310.5,153.36 311.5,152.82 312.5,152.33 313.5,151.90 314.5,151.53 315.5,151.21 316.5,150.95 317.5,150.75 318.5,150.61 319.5,150.52 320.5,150.50 321.5,150.54 322.5,150.63 323.5,150.78 324.5,151.00 325.5,151.27 326.5,151.60 327.5,151.98 328.5,152.42 329.5,152.92 330.5,153.47 331.5,154.08 332.5,154.73 333.5,155.44 334.5,156.20 335.5,157.00 336.5,157.86 337.5,158.75 338.5,159.69 339.5,160.67 340.5,161.69 341.5,162.75 342.5,163.85 343.5,164.98 344.5,166.14 345.5,167.33 346.5,168.54 347.5,169.79 348.5,171.06 349.5,172.34 350.5,173.65 351.5,174.98 352.5,176.32 353.5,177.67 354.5,179.03 355.5,180.41 356.5,181.79 357.5,183.17 358.5,184.56 359.5,185.95 360.5,187.33 361.5,188.72 362.5,190.10 363.5,191.47 364.5,192.84 365.5,194.20 366.5,195.54 367.5,196.88 368.5,198.20 369.5,199.50 370.5,200.79 371.5,202.06 372.5,203.32 373.5,204.55 374.5,205.76 375.5,206.96 376.5,208.13 377.5,209.27 378.5,210.40 379.5,211.50 380.5,212.57 381.5,213.62 382.5,214.64 383.5,215.64 384.5,216.61 385.5,217.56 386.5,218.48 387.5,219.37 388.5,220.24 389.5,221.08 390.5,221.89 391.5,222.68 392.5,223.44 393.5,224.18 394.5,224.89 395.5,225.58 396.5,226.24 397.5,226.87 398.5,227.48 399.5,228.07 400.5,228.64 401.5,229.18 402.5,229.70 403.5,230.20 404.5,230.67 405.5,231.13 406.5,231.57 407.5,231.98 408.5,232.38 409.5,232.76 410.5,233.12 411.5,233.46 412.5,233.79 413.5,234.10 414.5,234.39 415.5,234.67 416.5,234.94 417.5,235.19 418.5,235.43 419.5,235.65 420.5,235.87 421.5,236.07 422.5,236.26 423.5,236.44 424.5,236.60 425.5,236.76 426.5,236.91 427.5,237.05 428.5,237.18 429.5,237.31 430.5,237.42 431.5,237.53 432.5,237.64 433.5,237.73 434.5,237.82 435.5,237.90 436.5,237.98 437.5,238.05 438.5,238.12 439.5,238.19 440.5,238.24 441.5,238.30 442.5,238.35 443.5,238.40 444.5,238.44 445.5,238.48 446.5,238.52 447.5,238.55 448.5,238.59 449.5,238.62 450.5,238.64 451.5,238.67 452.5,238.69 453.5,238.72 454.5,238.74 455.5,238.75 456.5,238.77 457.5,238.79 458.5,238.80 459.5,238.81 460.5,238.83 461.5,238.84 462.5,238.85 463.5,238.86 464.5,238.87 465.5,238.87 466.5,238.88 467.5,238.89 468.5,238.89 469.5,238.90 470.5,238.90 471.5,238.91 472.5,238.91 473.5,238.92 474.5,238.92 475.5,238.92 476.5,238.92 477.5,238.93 478.5,238.93 486.5,238.94 494.5,238.95 502.5,238.95 510.5,238.95 518.5,238.95 526.5,238.95 534.5,238.95 542.5,238.95 550.5,238.95 558.5,238.95 566.5,238.95 574.5,238.95 582.5,238.95 590.5,238.95 598.5,238.95 606.5,238.95 614.5,238.95 622.5,238.95 630.5,238.95 638.5,238.95"/>
<polyline class="c" stroke="sandybrown" points="52.5,238.95 60.5,238.95 68.5,238.95 76.5,238.95 84.5,238.95 92.5,238.95 100.5,238.95 108.5,238.95 116.5,238.95 124.5,238.95 132.5,238.95 140.5,238.95 148.5,238.95 156.5,238.95 164.5,238.94 172.5,238.93 180.5,238.91 181.5,238.91 182.5,238.90 183.5,238.90 184.5,238.89 185.5,238.89 186.5,238.88 187.5,238.88 188.5,238.87 189.5,238.86 190.5,238.85 191.5,238.84 192.5,238.83 193.5,238.82 194.5,238.81 195.5,238.80 196.5,238.78 197.5,238.77 198.5,238.75 199.5,238.73 200.5,238.71 201.5,238.69 202.5,238.66 203.5,238.64 204.5,238.61 205.5,238.58 206.5,238.55 207.5,238.52 208.5,238.48 209.5,238.44 210.5,238.40 211.5,238.35 212.5,238.30 213.5,238.25 214.5,238.19 215.5,238.13 216.5,238.06 217.5,237.99 218.5,237.92 219.5,237.83 220.5,237.75 221.5,237.66 222.5,237.56 223.5,237.45 224.5,237.34 225.5,237.22 226.5,237.10 227.5,236.96 228.5,236.82 229.5,236.67 230.5,236.51 231.5,236.34 232.5,236.16 233.5,235.97 234.5,235.77 235.5,235.56 236.5,235.33 237.5,235.09 238.5,234.84 239.5,234.58 240.5,234.30 241.5,234.01 242.5,233.70 243.5,233.38 244.5,233.04 245.5,232.69 246.5,232.32 247.5,231.93 248.5,231.52 249.5,231.09 250.5,230.65 251.5,230.18 252.5,229.70 253.5,229.19 254.5,228.66 255.5,228.11 256.5,227.54 257.5,226.95 258.5,226.34 259.5,225.70 260.5,225.03 261.5,224.35 262.5,223.64 263.5,222.91 264.5,222.15 265.5,221.36 266.5,220.56 267.5,219.73 268.5,218.87 269.5,217.99 270.5,217.08 271.5,216.15 272.5,215.19 273.5,214.21 274.5,213.21 275.5,212.18 276.5,211.14 277.5,210.06 278.5,208.97 279.5,207.85 280.5,206.71 281.5,205.56 282.5,204.38 283.5,203.19 284.5,201.97 285.5,200.74 286.5,199.50 287.5,198.24 288.5,196.97 289.5,195.68 290.5,194.39 291.5,193.08 292.5,191.77 293.5,190.45 294.5,189.13 295.5,187.80 296.5,186.47 297.5,185.14 298.5,183.81 299.5,182.49 300.5,181.17 301.5,179.86 302.5,178.56 303.5,177.26 304.5,175.99 305.5,174.72 306.5,173.47 307.5,172.24 308.5,171.04 309.5,169.85 310.5,168.69 311.5,167.55 312.5,166.45 313.5,165.37 314.5,164.32 315.5,163.31 316.5,162.33 317.5,161.40 318.5,160.49 319.5,159.63 320.5,158.82 321.5,158.04 322.5,157.31 323.5,156.63 324.5,155.99 325.5,155.41 326.5,154.87 327.5,154.38 328.5,153.95 329.5,153.56 330.5,153.24 331.5,152.96 332.5,152.74 333.5,152.57 334.5,152.46 335.5,152.41 336.5,152.41 337.5,152.46 338.5,152.57 339.5,152.74 340.5,152.96 341.5,153.24 342.5,153.56 343.5,153.95 344.5,154.38 345.5,154.87 346.5,155.41 347.5,155.99 348.5,156.63 349.5,157.31 350.5,158.04 351.5,158.82 352.5,159.63 353.5,160.49 354.5,161.40 355.5,162.33 356.5,163.31 357.5,164.32 358.5,165.37 359.5,166.45 360.5,167.55 361.5,168.69 362.5,169.85 363.5,171.04 364.5,172.24 365.5,173.47 366.5,174.72 367.5,175.99 368.5,177.26 369.5,178.56 370.5,179.86 371.5,181.17 372.5,182.49 373.5,183.81 374.5,185.14 375.5,186.47 376.5,187.80 377.5,189.13 378.5,190.45 379.5,191.77 380.5,193.08 381.5,194.39 382.5,195.68 383.5,196.97 384.5,198.24 385.5,199.50 386.5,200.74 387.5,201.97 388.5,203.19 389.5,204.38 390.5,205.56 391.5,206.71 392.5,207.85 393.5,208.97 394.5,210.06 395.5,211.14 396.5,212.18 397.5,213.21 398.5,214.21 399.5,215.19 400.5,216.15 401.5,217.08 402.5,217.99 403.5,218.87 404.5,219.73 405.5,220.56 406.5,221.36 407.5,222.15 408.5,222.91 409.5,223.64 410.5,224.35 411.5,225.03 412.5,225.70 413.5,226.34 414.5,226.95 415.5,227.54 416.5,228.11 417.5,228.66 418.5,229.19 419.5,229.70 420.5,230.18 421.5,230.65 422.5,231.09 423.5,231.52 424.5,231.93 425.5,232.32 426.5,232.69 427.5,233.04 428.5,233.38 429.5,233.70 430.5,234.01 431.5,234.30 432.5,234.58 433.5,234.84 434.5,235.09 435.5,235.33 436.5,235.56 437.5,235.77 438.5,235.97 439.5,236.16 440.5,236.34 441.5,236.51 442.5,236.67 443.5,236.82 444.5,236.96 445.5,237.10 446.5,237.22 447.5,237.34 448.5,237.45 449.5,237.56 450.5,237.66 451.5,237.75 452.5,237.83 453.5,237.92 454.5,237.99 455.5,238.06 456.5,238.13 457.5,238.19 458.5,238.25 459.5,238.30 460.5,238.35 461.5,238.40 462.5,238.44 463.5,238.48 464.5,238.52 465.5,238.55 466.5,238.58 467.5,238.61 468.5,238.64 469.5,238.66 470.5,238.69 471.5,238.71 472.5,238.73 473.5,238.75 474.5,238.77 475.5,238.78 476.5,238.80 477.5,238.81 478.5,238.82 479.5,238.83 480.5,238.84 481.5,238.85 482.5,238.86 483.5,238.87 484.5,238.88 485.5,238.88 486.5,238.89 487.5,238.89 488.5,238.90 489.5,238.90 490.5,238.91 491.5,238.91 492.5,238.92 493.5,238.92 494.5,238.92 495.5,238.93 496.5,238.93 497.5,238.93 505.5,238.94 513.5,238.95 521.5,238.95 529.5,238.95 537.5,238.95 545.5,238.95 553.5,238.95 561.5,238.95 569.5,238.95 577.5,238.95 585.5,238.95 593.5,238.95 601.5,238.95 609.5,238.95 617.5,238.95 625.5,238.95 633.5,238.95 641.5,238.95"/>
<polyline class="c" stroke="rosybrown" points="52.5,238.95 60.5,238.95 68.5,238.95 76.5,238.95 84.5,238.95 92.5,238.95 100.5,238.95 108.5,238.95 116.5,238.95 124.5,238.95 132.5,238.95 140.5,238.95 148.5,238.95 156.5,238.95 164.5,238.95 172.5,238.94 180.5,238.94 188.5,238.92 189.5,238.92 190.5,238.92 191.5,238.91 192.5,238.91 193.5,238.91 194.5,238.90 195.5,238.90 196.5,238.90 197.5,238.89 198.5,238.89 199.5,238.88 200.5,238.88 201.5,238.87 202.5,238.86 203.5,238.86 204.5,238.85 205.5,238.84 206.5,238.83 207.5,238.82 208.5,238.81 209.5,238.80 210.5,238.79 211.5,238.78 212.5,238.77 213.5,238.75 214.5,238.74 215.5,238.72 216.5,238.71 217.5,238.69 218.5,238.67 219.5,238.65 220.5,238.63 221.5,238.61 222.5,238.59 223.5,238.56 224.5,238.53 225.5,238.50 226.5,238.47 227.5,238.44 228.5,238.41 229.5,238.37 230.5,238.33 231.5,238.29 232.5,238.25 233.5,238.21 234.5,238.16 235.5,238.11 236.5,238.05 237.5,238.00 238.5,237.94 239.5,237.87 240.5,237.81 241.5,237.74 242.5,237.66 243.5,237.59 244.5,237.50 245.5,237.42 246.5,237.33 247.5,237.23 248.5,237.13 249.5,237.03 250.5,236.92 251.5,236.80 252.5,236.68 253.5,236.56 254.5,236.43 255.5,236.29 256.5,236.14 257.5,235.99 258.5,235.83 259.5,235.67 260.5,235.49 261.5,235.31 262.5,235.13 263.5,234.93 264.5,234.73 265.5,234.51 266.5,234.29 267.5,234.06 268.5,233.82 269.5,233.57 270.5,233.31 271.5,233.05 272.5,232.77 273.5,232.48 274.5,232.18 275.5,231.87 276.5,231.54 277.5,231.21 278.5,230.87 279.5,230.51 280.5,230.14 281.5,229.76 282.5,229.37 283.5,228.96 284.5,228.55 285.5,228.12 286.5,227.67 287.5,227.21 288.5,226.74 289.5,226.26 290.5,225.76 291.5,225.25 292.5,224.73 293.5,224.19 294.5,223.64 295.5,223.07 296.5,222.49 297.5,221.90 298.5,221.29 299.5,220.67 300.5,220.03 301.5,219.39 302.5,218.72 303.5,218.05 304.5,217.36 305.5,216.66 306.5,215.94 307.5,215.21 308.5,214.47 309.5,213.72 310.5,212.95 311.5,212.18 312.5,211.39 313.5,210.59 314.5,209.78 315.5,208.96 316.5,208.13 317.5,207.29 318.5,206.44 319.5,205.58 320.5,204.72 321.5,203.85 322.5,202.97 323.5,202.08 324.5,201.19 325.5,200.29 326.5,199.39 327.5,198.49 328.5,197.58 329.5,196.67 330.5,195.76 331.5,194.85 332.5,193.94 333.5,193.03 334.5,192.12 335.5,191.21 336.5,190.31 337.5,189.41 338.5,188.52 339.5,187.63 340.5,186.75 341.5,185.87 342.5,185.01 343.5,184.15 344.5,183.30 345.5,182.47 346.5,181.65 347.5,180.84 348.5,180.04 349.5,179.26 350.5,178.49 351.5,177.74 352.5,177.01 353.5,176.30 354.5,175.60 355.5,174.92 356.5,174.27 357.5,173.63 358.5,173.02 359.5,172.43 360.5,171.87 361.5,171.32 362.5,170.81 363.5,170.32 364.5,169.85 365.5,169.41 366.5,169.00 367.5,168.61 368.5,168.26 369.5,167.93 370.5,167.63 371.5,167.36 372.5,167.12 373.5,166.91 374.5,166.74 375.5,166.59 376.5,166.47 377.5,166.38 378.5,166.33 379.5,166.30 380.5,166.31 381.5,166.34 382.5,166.41 383.5,166.51 384.5,166.64 385.5,166.80 386.5,166.99 387.5,167.22 388.5,167.47 389.5,167.75 390.5,168.06 391.5,168.40 392.5,168.76 393.5,169.16 394.5,169.58 395.5,170.03 396.5,170.51 397.5,171.01 398.5,171.54 399.5,172.09 400.5,172.67 401.5,173.26 402.5,173.89 403.5,174.53 404.5,175.19 405.5,175.88 406.5,176.58 407.5,177.30 408.5,178.04 409.5,178.80 410.5,179.57 411.5,180.36 412.5,181.16 413.5,181.97 414.5,182.80 415.5,183.64 416.5,184.49 417.5,185.35 418.5,186.22 419.5,187.10 420.5,187.98 421.5,188.87 422.5,189.77 423.5,190.67 424.5,191.58 425.5,192.48 426.5,193.39 427.5,194.30 428.5,195.22 429.5,196.13 430.5,197.04 431.5,197.95 432.5,198.85 433.5,199.75 434.5,200.65 435.5,201.55 436.5,202.44 437.5,203.32 438.5,204.20 439.5,205.06 440.5,205.93 441.5,206.78 442.5,207.63 443.5,208.46 444.5,209.29 445.5,210.10 446.5,210.91 447.5,211.70 448.5,212.49 449.5,213.26 450.5,214.02 451.5,214.77 452.5,215.51 453.5,216.23 454.5,216.94 455.5,217.64 456.5,218.32 457.5,218.99 458.5,219.65 459.5,220.29 460.5,220.92 461.5,221.54 462.5,222.14 463.5,222.73 464.5,223.30 465.5,223.86 466.5,224.41 467.5,224.94 468.5,225.46 469.5,225.96 470.5,226.46 471.5,226.93 472.5,227.40 473.5,227.85 474.5,228.29 475.5,228.71 476.5,229.13 477.5,229.53 478.5,229.92 479.5,230.29 480.5,230.65 481.5,231.01 482.5,231.35 483.5,231.67 484.5,231.99 485.5,232.30 486.5,232.59 487.5,232.88 488.5,233.15 489.5,233.42 490.5,233.67 491.5,233.92 492.5,234.15 493.5,234.38 494.5,234.60 495.5,234.81 496.5,235.01 497.5,235.20 498.5,235.39 499.5,235.56 500.5,235.73 501.5,235.90 502.5,236.05 503.5,236.20 504.5,236.34 505.5,236.48 506.5,236.61 507.5,236.73 508.5,236.85 509.5,236.96 510.5,237.07 511.5,237.17 512.5,237.27 513.5,237.37 514.5,237.45 515.5,237.54 516.5,237.62 517.5,237.69 518.5,237.77 519.5,237.83 520.5,237.90 521.5,237.96 522.5,238.02 523.5,238.07 524.5,238.13 525.5,238.18 526.5,238.22 527.5,238.27 528.5,238.31 529.5,238.35 530.5,238.39 531.5,238.42 532.5,238.46 533.5,238.49 534.5,238.52 535.5,238.54 536.5,238.57 537.5,238.60 538.5,238.62 539.5,238.64 540.5,238.66 541.5,238.68 542.5,238.70 543.5,238.72 544.5,238.73 545.5,238.75 546.5,238.76 547.5,238.77 548.5,238.79 549.5,238.80 550.5,238.81 551.5,238.82 552.5,238.83 553.5,238.84 554.5,238.84 555.5,238.85 556.5,238.86 557.5,238.87 558.5,238.87 559.5,238.88 560.5,238.88 561.5,238.89 562.5,238.89 563.5,238.90 564.5,238.90 565.5,238.90 566.5,238.91 567.5,238.91 568.5,238.91 569.5,238.92 570.5,238.92 571.5,238.92 572.5,238.92 573.5,238.93 574.5,238.93 575.5,238.93 576.5,238.93 584.5,238.94 592.5,238.95 600.5,238.95 608.5,238.95 616.5,238.95 624.5,238.95 632.5,238.95 640.5,238.95"/>
<polyline class="c" stroke="darkred" points="52.5,238.95 60.5,238.95 68.5,238.95 76.5,238.95 84.5,238.95 92.5,238.95 100.5,238.95 108.5,238.95 116.5,238.95 124.5,238.95 132.5,238.95 140.5,238.95 148.5,238.95 156.5,238.95 164.5,238.95 172.5,238.95 180.5,238.95 188.5,238.95 196.5,238.94 204.5,238.93 212.5,238.90 213.5,238.90 214.5,238.90 215.5,238.89 216.5,238.88 217.5,238.88 218.5,238.87 219.5,238.86 220.5,238.85 221.5,238.85 222.5,238.84 223.5,238.83 224.5,238.81 225.5,238.80 226.5,238.79 227.5,238.77 228.5,238.76 229.5,238.74 230.5,238.72 231.5,238.70 232.5,238.68 233.5,238.66 234.5,238.63 235.5,238.60 236.5,238.57 237.5,238.54 238.5,238.51 239.5,238.47 240.5,238.43 241.5,238.39 242.5,238.34 243.5,238.29 244.5,238.24 245.5,238.19 246.5,238.13 247.5,238.06 248.5,237.99 249.5,237.92 250.5,237.84 251.5,237.76 252.5,237.67 253.5,237.58 254.5,237.48 255.5,237.37 256.5,237.26 257.5,237.14 258.5,237.01 259.5,236.87 260.5,236.73 261.5,236.58 262.5,236.42 263.5,236.25 264.5,236.07 265.5,235.88 266.5,235.68 267.5,235.46 268.5,235.24 269.5,235.01 270.5,234.76 271.5,234.50 272.5,234.23 273.5,233.94 274.5,233.64 275.5,233.32 276.5,232.99 277.5,232.65 278.5,232.28 279.5,231.90 280.5,231.51 281.5,231.10 282.5,230.66 283.5,230.21 284.5,229.75 285.5,229.26 286.5,228.75 287.5,228.22 288.5,227.68 289.5,227.11 290.5,226.52 291.5,225.91 292.5,225.27 293.5,224.62 294.5,223.94 295.5,223.24 296.5,222.52 297.5,221.78 298.5,221.01 299.5,220.22 300.5,219.40 301.5,218.57 302.5,217.71 303.5,216.83 304.5,215.92 305.5,215.00 306.5,214.05 307.5,213.08 308.5,212.08 309.5,211.07 310.5,210.04 311.5,208.98 312.5,207.91 313.5,206.82 314.5,205.71 315.5,204.58 316.5,203.43 317.5,202.27 318.5,201.10 319.5,199.91 320.5,198.71 321.5,197.49 322.5,196.27 323.5,195.03 324.5,193.79 325.5,192.54 326.5,191.29 327.5,190.03 328.5,188.77 329.5,187.51 330.5,186.24 331.5,184.98 332.5,183.73 333.5,182.48 334.5,181.23 335.5,179.99 336.5,178.77 337.5,177.55 338.5,176.35 339.5,175.17 340.5,174.00 341.5,172.85 342.5,171.72 343.5,170.62 344.5,169.54 345.5,168.48 346.5,167.45 347.5,166.45 348.5,165.48 349.5,164.55 350.5,163.64 351.5,162.78 352.5,161.95 353.5,161.15 354.5,160.40 355.5,159.69 356.5,159.02 357.5,158.40 358.5,157.82 359.5,157.28 360.5,156.79 361.5,156.35 362.5,155.96 363.5,155.61 364.5,155.32 365.5,155.07 366.5,154.88 367.5,154.74 368.5,154.64 369.5,154.60 370.5,154.61 371.5,154.67 372.5,154.79 373.5,154.95 374.5,155.17 375.5,155.43 376.5,155.75 377.5,156.11 378.5,156.52 379.5,156.98 380.5,157.49 381.5,158.04 382.5,158.64 383.5,159.29 384.5,159.97 385.5,160.70 386.5,161.47 387.5,162.27 388.5,163.12 389.5,164.00 390.5,164.92 391.5,165.87 392.5,166.85 393.5,167.86 394.5,168.90 395.5,169.97 396.5,171.06 397.5,172.17 398.5,173.31 399.5,174.47 400.5,175.64 401.5,176.83 402.5,178.04 403.5,179.26 404.5,180.49 405.5,181.73 406.5,182.98 407.5,184.23 408.5,185.49 409.5,186.75 410.5,188.01 411.5,189.27 412.5,190.53 413.5,191.79 414.5,193.04 415.5,194.29 416.5,195.53 417.5,196.76 418.5,197.98 419.5,199.19 420.5,200.38 421.5,201.57 422.5,202.74 423.5,203.89 424.5,205.03 425.5,206.15 426.5,207.26 427.5,208.34 428.5,209.41 429.5,210.45 430.5,211.48 431.5,212.48 432.5,213.47 433.5,214.43 434.5,215.37 435.5,216.29 436.5,217.18 437.5,218.05 438.5,218.90 439.5,219.73 440.5,220.54 441.5,221.32 442.5,222.08 443.5,222.81 444.5,223.52 445.5,224.21 446.5,224.88 447.5,225.53 448.5,226.15 449.5,226.76 450.5,227.34 451.5,227.90 452.5,228.44 453.5,228.96 454.5,229.46 455.5,229.94 456.5,230.40 457.5,230.84 458.5,231.26 459.5,231.67 460.5,232.06 461.5,232.43 462.5,232.79 463.5,233.13 464.5,233.45 465.5,233.76 466.5,234.06 467.5,234.34 468.5,234.61 469.5,234.86 470.5,235.10 471.5,235.33 472.5,235.55 473.5,235.76 474.5,235.95 475.5,236.14 476.5,236.32 477.5,236.48 478.5,236.64 479.5,236.79 480.5,236.93 481.5,237.06 482.5,237.19 483.5,237.30 484.5,237.41 485.5,237.52 486.5,237.62 487.5,237.71 488.5,237.79 489.5,237.87 490.5,237.95 491.5,238.02 492.5,238.09 493.5,238.15 494.5,238.21 495.5,238.26 496.5,238.31 497.5,238.36 498.5,238.41 499.5,238.45 500.5,238.49 501.5,238.52 502.5,238.55 503.5,238.58 504.5,238.61 505.5,238.64 506.5,238.66 507.5,238.69 508.5,238.71 509.5,238.73 510.5,238.75 511.5,238.76 512.5,238.78 513.5,238.79 514.5,238.81 515.5,238.82 516.5,238.83 517.5,238.84 518.5,238.85 519.5,238.86 520.5,238.87 521.5,238.87 522.5,238.88 523.5,238.89 524.5,238.89 525.5,238.90 526.5,238.90 527.5,238.91 528.5,238.91 529.5,238.91 530.5,238.92 531.5,238.92 532.5,238.92 533.5,238.93 534.5,238.93 535.5,238.93 543.5,238.94 551.5,238.95 559.5,238.95 567.5,238.95 575.5,238.95 583.5,238.95 591.5,238.95 599.5,238.95 607.5,238.95 615.5,238.95 623.5,238.95 631.5,238.95 639.5,238.95"/>
<polyline class="c" stroke="saddlebrown" points="52.5,238.95 60.5,238.95 68.5,238.95 76.5,238.95 84.5,238.95 92.5,238.95 100.5,238.95 108.5,238.95 116.5,238.95 124.5,238.95 132.5,238.95 140.5,238.95 148.5,238.94 156.5,238.94 164.5,238.93 165.5,238.93 166.5,238.93 167.5,238.92 168.5,238.92 169.5,238.92 170.5,238.92 171.5,238.91 172.5,238.91 173.5,238.91 174.5,238.91 175.5,238.90 176.5,238.90 177.5,238.89 178.5,238.89 179.5,238.89 180.5,238.88 181.5,238.88 182.5,238.87 183.5,238.86 184.5,238.86 185.5,238.85 186.5,238.84 187.5,238.84 188.5,238.83 189.5,238.82 190.5,238.81 191.5,238.80 192.5,238.79 193.5,238.78 194.5,238.76 195.5,238.75 196.5,238.74 197.5,238.72 198.5,238.71 199.5,238.69 200.5,238.67 201.5,238.65 202.5,238.63 203.5,238.61 204.5,238.59 205.5,238.57 206.5,238.54 207.5,238.51 208.5,238.49 209.5,238.46 210.5,238.42 211.5,238.39 212.5,238.36 213.5,238.32 214.5,238.28 215.5,238.24 216.5,238.19 217.5,238.15 218.5,238.10 219.5,238.05 220.5,238.00 221.5,237.94 222.5,237.88 223.5,237.82 224.5,237.75 225.5,237.68 226.5,237.61 227.5,237.53 228.5,237.45 229.5,237.37 230.5,237.28 231.5,237.19 232.5,237.10 233.5,236.99 234.5,236.89 235.5,236.78 236.5,236.66 237.5,236.54 238.5,236.42 239.5,236.29 240.5,236.15 241.5,236.01 242.5,235.86 243.5,235.70 244.5,235.54 245.5,235.37 246.5,235.20 247.5,235.01 248.5,234.82 249.5,234.63 250.5,234.42 251.5,234.21 252.5,233.99 253.5,233.76 254.5,233.52 255.5,233.28 256.5,233.02 257.5,232.76 258.5,232.48 259.5,232.20 260.5,231.91 261.5,231.61 262.5,231.29 263.5,230.97 264.5,230.64 265.5,230.29 266.5,229.94 267.5,229.58 268.5,229.20 269.5,228.81 270.5,228.41 271.5,228.01 272.5,227.58 273.5,227.15 274.5,226.71 275.5,226.25 276.5,225.78 277.5,225.30 278.5,224.81 279.5,224.31 280.5,223.79 281.5,223.26 282.5,222.72 283.5,222.17 284.5,221.60 285.5,221.02 286.5,220.44 287.5,219.83 288.5,219.22 289.5,218.60 290.5,217.96 291.5,217.31 292.5,216.65 293.5,215.98 294.5,215.30 295.5,214.61 296.5,213.91 297.5,213.20 298.5,212.47 299.5,211.74 300.5,211.00 301.5,210.25 302.5,209.49 303.5,208.72 304.5,207.94 305.5,207.16 306.5,206.37 307.5,205.57 308.5,204.77 309.5,203.96 310.5,203.14 311.5,202.32 312.5,201.50 313.5,200.67 314.5,199.84 315.5,199.00 316.5,198.17 317.5,197.33 318.5,196.49 319.5,195.66 320.5,194.82 321.5,193.98 322.5,193.15 323.5,192.32 324.5,191.49 325.5,190.67 326.5,189.85 327.5,189.03 328.5,188.23 329.5,187.43 330.5,186.63 331.5,185.85 332.5,185.07 333.5,184.31 334.5,183.55 335.5,182.81 336.5,182.08 337.5,181.36 338.5,180.65 339.5,179.96 340.5,179.29 341.5,178.62 342.5,177.98 343.5,177.35 344.5,176.74 345.5,176.15 346.5,175.58 347.5,175.03 348.5,174.49 349.5,173.98 350.5,173.49 351.5,173.02 352.5,172.58 353.5,172.15 354.5,171.75 355.5,171.38 356.5,171.03 357.5,170.70 358.5,170.40 359.5,170.12 360.5,169.87 361.5,169.64 362.5,169.44 363.5,169.27 364.5,169.13 365.5,169.01 366.5,168.91 367.5,168.85 368.5,168.81 369.5,168.80 370.5,168.82 371.5,168.86 372.5,168.93 373.5,169.03 374.5,169.15 375.5,169.30 376.5,169.48 377.5,169.69 378.5,169.92 379.5,170.17 380.5,170.46 381.5,170.76 382.5,171.10 383.5,171.45 384.5,171.83 385.5,172.24 386.5,172.67 387.5,173.12 388.5,173.59 389.5,174.08 390.5,174.60 391.5,175.14 392.5,175.69 393.5,176.27 394.5,176.86 395.5,177.48 396.5,178.11 397.5,178.76 398.5,179.42 399.5,180.10 400.5,180.79 401.5,181.50 402.5,182.22 403.5,182.96 404.5,183.70 405.5,184.46 406.5,185.23 407.5,186.00 408.5,186.79 409.5,187.59 410.5,188.39 411.5,189.20 412.5,190.01 413.5,190.83 414.5,191.66 415.5,192.49 416.5,193.32 417.5,194.15 418.5,194.99 419.5,195.82 420.5,196.66 421.5,197.50 422.5,198.34 423.5,199.17 424.5,200.00 425.5,200.84 426.5,201.66 427.5,202.49 428.5,203.30 429.5,204.12 430.5,204.93 431.5,205.73 432.5,206.53 433.5,207.32 434.5,208.10 435.5,208.87 436.5,209.64 437.5,210.40 438.5,211.15 439.5,211.89 440.5,212.62 441.5,213.34 442.5,214.05 443.5,214.75 444.5,215.44 445.5,216.12 446.5,216.79 447.5,217.44 448.5,218.09 449.5,218.72 450.5,219.35 451.5,219.96 452.5,220.55 453.5,221.14 454.5,221.72 455.5,222.28 456.5,222.83 457.5,223.37 458.5,223.89 459.5,224.41 460.5,224.91 461.5,225.40 462.5,225.88 463.5,226.34 464.5,226.80 465.5,227.24 466.5,227.67 467.5,228.09 468.5,228.50 469.5,228.89 470.5,229.28 471.5,229.65 472.5,230.01 473.5,230.36 474.5,230.71 475.5,231.04 476.5,231.36 477.5,231.67 478.5,231.97 479.5,232.26 480.5,232.54 481.5,232.81 482.5,233.07 483.5,233.33 484.5,233.57 485.5,233.81 486.5,234.03 487.5,234.25 488.5,234.46 489.5,234.67 490.5,234.86 491.5,235.05 492.5,235.23 493.5,235.41 494.5,235.57 495.5,235.73 496.5,235.89 497.5,236.03 498.5,236.18 499.5,236.31 500.5,236.44 501.5,236.57 502.5,236.69 503.5,236.80 504.5,236.91 505.5,237.01 506.5,237.11 507.5,237.21 508.5,237.30 509.5,237.39 510.5,237.47 511.5,237.55 512.5,237.63 513.5,237.70 514.5,237.77 515.5,237.83 516.5,237.89 517.5,237.95 518.5,238.01 519.5,238.06 520.5,238.11 521.5,238.16 522.5,238.20 523.5,238.25 524.5,238.29 525.5,238.33 526.5,238.36 527.5,238.40 528.5,238.43 529.5,238.46 530.5,238.49 531.5,238.52 532.5,238.55 533.5,238.57 534.5,238.59 535.5,238.62 536.5,238.64 537.5,238.66 538.5,238.68 539.5,238.69 540.5,238.71 541.5,238.72 542.5,238.74 543.5,238.75 544.5,238.77 545.5,238.78 546.5,238.79 547.5,238.80 548.5,238.81 549.5,238.82 550.5,238.83 551.5,238.84 552.5,238.84 553.5,238.85 554.5,238.86 555.5,238.86 556.5,238.87 557.5,238.88 558.5,238.88 559.5,238.89 560.5,238.89 561.5,238.90 562.5,238.90 563.5,238.90 564.5,238.91 565.5,238.91 566.5,238.91 567.5,238.92 568.5,238.92 569.5,238.92 570.5,238.92 571.5,238.92 572.5,238.93 573.5,238.93 574.5,238.93 575.5,238.93 576.5,238.93 584.5,238.94 592.5,238.95 600.5,238.95 608.5,238.95 616.5,238.95 624.5,238.95 632.5,238.95 640.5,238.95"/>
</g>
<line x1="304.6" y1="238.5" x2="304.6" y2="7.2" stroke="#000" stroke-width="2.45" stroke-dasharray="8.96 3.87" stroke-dashoffset="0.63"/>
<line x1="52.6" y1="6.6000000000000005" x2="52.6" y2="239.1" stroke="#606060" stroke-width="1.25"/>
<rect x="641.1" y="6.6000000000000005" width="2" height="232.5" fill="#a4a4a4"/>
<line x1="49.5" y1="238.50" x2="52.5" y2="238.50" stroke="#333" stroke-width="1.1"/>
<text transform="translate(47.00,244.30) scale(1,1.04)" text-anchor="end" style="font-size:14.4px">0</text>
<line x1="49.5" y1="192.24" x2="52.5" y2="192.24" stroke="#333" stroke-width="1.1"/>
<text transform="translate(47.00,198.04) scale(1,1.04)" text-anchor="end" style="font-size:14.4px">50</text>
<line x1="49.5" y1="145.98" x2="52.5" y2="145.98" stroke="#333" stroke-width="1.1"/>
<text transform="translate(47.00,151.78) scale(1,1.04)" text-anchor="end" style="font-size:14.4px">100</text>
<line x1="49.5" y1="99.72" x2="52.5" y2="99.72" stroke="#333" stroke-width="1.1"/>
<text transform="translate(47.00,105.52) scale(1,1.04)" text-anchor="end" style="font-size:14.4px">150</text>
<line x1="49.5" y1="53.46" x2="52.5" y2="53.46" stroke="#333" stroke-width="1.1"/>
<text transform="translate(47.00,59.26) scale(1,1.04)" text-anchor="end" style="font-size:14.4px">200</text>
<line x1="49.5" y1="7.20" x2="52.5" y2="7.20" stroke="#333" stroke-width="1.1"/>
<text transform="translate(47.00,13.00) scale(1,1.04)" text-anchor="end" style="font-size:14.4px">250</text>
<line x1="642.3" y1="238.50" x2="645.3" y2="238.50" stroke="#999" stroke-width="1.3"/>
<text transform="translate(647.50,244.30) scale(1,1.04)" text-anchor="start" style="font-size:14.4px">0</text>
<line x1="642.3" y1="180.68" x2="645.3" y2="180.68" stroke="#999" stroke-width="1.3"/>
<text transform="translate(647.50,186.48) scale(1,1.04)" text-anchor="start" style="font-size:14.4px">4</text>
<line x1="642.3" y1="122.85" x2="645.3" y2="122.85" stroke="#999" stroke-width="1.3"/>
<text transform="translate(647.50,128.65) scale(1,1.04)" text-anchor="start" style="font-size:14.4px">8</text>
<line x1="642.3" y1="65.02" x2="645.3" y2="65.02" stroke="#999" stroke-width="1.3"/>
<text transform="translate(647.50,70.82) scale(1,1.04)" text-anchor="start" style="font-size:14.4px">12</text>
<line x1="642.3" y1="7.20" x2="645.3" y2="7.20" stroke="#999" stroke-width="1.3"/>
<text transform="translate(647.50,13.00) scale(1,1.04)" text-anchor="start" style="font-size:14.4px">16</text>
<line x1="52.50" y1="238.5" x2="52.50" y2="241.5" stroke="#333" stroke-width="1.1"/>
<text transform="translate(52.50,255.35) scale(1,1.04)" text-anchor="middle" style="font-size:14.4px">0.0</text>
<line x1="170.46" y1="238.5" x2="170.46" y2="241.5" stroke="#333" stroke-width="1.1"/>
<text transform="translate(170.46,255.35) scale(1,1.04)" text-anchor="middle" style="font-size:14.4px">0.2</text>
<line x1="288.42" y1="238.5" x2="288.42" y2="241.5" stroke="#333" stroke-width="1.1"/>
<text transform="translate(288.42,255.35) scale(1,1.04)" text-anchor="middle" style="font-size:14.4px">0.4</text>
<line x1="406.38" y1="238.5" x2="406.38" y2="241.5" stroke="#333" stroke-width="1.1"/>
<text transform="translate(406.38,255.35) scale(1,1.04)" text-anchor="middle" style="font-size:14.4px">0.6</text>
<line x1="524.34" y1="238.5" x2="524.34" y2="241.5" stroke="#333" stroke-width="1.1"/>
<text transform="translate(524.34,255.35) scale(1,1.04)" text-anchor="middle" style="font-size:14.4px">0.8</text>
<line x1="642.30" y1="238.5" x2="642.30" y2="241.5" stroke="#333" stroke-width="1.1"/>
<text transform="translate(642.30,255.35) scale(1,1.04)" text-anchor="middle" style="font-size:14.4px">1.0</text>
<text transform="translate(347.40,273.20) scale(1,1.0)" text-anchor="middle" style="font-size:14.5px">Time [s]</text>
<text transform="translate(12.55,123.10) rotate(-90) scale(1,1.0)" text-anchor="middle" style="font-size:14.5px">Frequency of occurrence (group)</text>
<text transform="translate(670.70,123.15) rotate(90) scale(1,1.0)" text-anchor="middle" style="font-size:14.5px">Frequency of occurrence (subject)</text>
<rect x="407.4" y="13.1" width="228.2" height="23.2" rx="2.4" fill="#fff" fill-opacity="0.8" stroke="#ccc" stroke-width="1"/>
<line x1="413" y1="24" x2="439" y2="24" stroke="#000" stroke-width="2.45" stroke-dasharray="8.96 3.87" stroke-dashoffset="0.9"/>
<text transform="translate(449.10,28.90) scale(1,1.0)" text-anchor="start" style="font-size:12.85px">median speech sound onset</text>
<text transform="translate(95.50,22.40) scale(1,1.0)" text-anchor="middle" style="font-size:18.2px">overt</text>
<text transform="translate(96.80,41.40) scale(1,1.0)" text-anchor="middle" style="font-size:18.2px">speech</text>
<g id="icon">
<path d="M93.3,50.4 C98,50 103.5,51.5 106.5,54.2 C107.8,56.5 107.9,59 107.5,61.2 C108.2,63.5 108.6,64.8 109.2,66 L112.6,71.2 C112.8,72.4 111,73 109.6,73.3 C109.6,74.5 110.3,75.5 110.7,76.4 C110.6,77.3 109.6,77.8 108.9,78.1 C109.5,78.6 110.2,79.3 110.2,80.1 C110,81 109.2,81.5 108.8,82 C109.2,83 109.4,84 108.9,84.8 C108.2,86 107,86.4 105.5,86.4 C103.5,86.4 101.5,86.2 99.8,86.6 C99.6,90 100.2,94.5 101.4,97.8 L82.5,94.8 C85,91 86.4,86.5 86.2,82.6 C83,78.5 78.8,72.5 78.5,65.3 C78.4,61 79.5,57.5 82.1,55 C85,52 89,50.6 93.3,50.4 Z" fill="#000"/>
<path d="M119.1,72.4 Q122.6,78.5 119.1,84.6" fill="none" stroke="#000" stroke-width="1.8" stroke-linecap="round"/>
<path d="M122.8,68 Q129.2,78 123.2,88.2" fill="none" stroke="#000" stroke-width="1.8" stroke-linecap="round"/>
<path d="M126.4,64.8 Q135.6,78 127.8,91.6" fill="none" stroke="#000" stroke-width="1.8" stroke-linecap="round"/>
</g>
</svg></body></html>
